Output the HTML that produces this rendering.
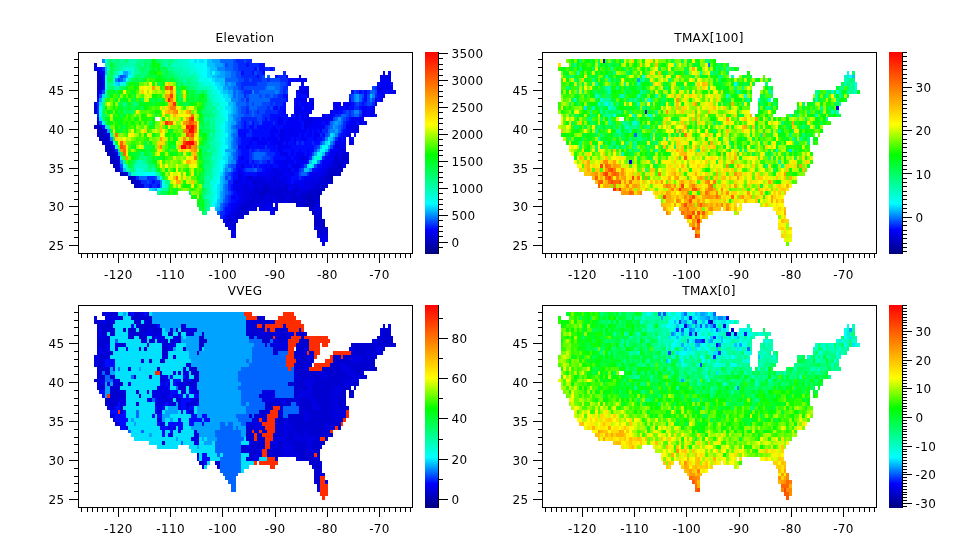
<!DOCTYPE html>
<html lang="en"><head><meta charset="utf-8"><title>Maps</title>
<style>html,body{margin:0;padding:0;background:#fff}svg{display:block}text{font-family:"DejaVu Sans","Liberation Sans",sans-serif;font-size:12px;fill:#000;letter-spacing:0.35px}</style></head><body>
<svg width="967" height="559" viewBox="0 0 967 559">
<defs><linearGradient id="cb" x1="0" y1="0" x2="0" y2="1"><stop offset="0" stop-color="#ff0000"/><stop offset="0.36" stop-color="#ffff00"/><stop offset="0.51" stop-color="#00ff00"/><stop offset="0.75" stop-color="#00ffff"/><stop offset="0.88" stop-color="#0000ff"/><stop offset="1" stop-color="#000080"/></linearGradient></defs>
<rect width="967" height="559" fill="#fff"/>
<g shape-rendering="crispEdges">
<path fill="#0000c2" d="M97 71h2v4h-2zM99 75h3v3h-3zM99 78h3v4h-3zM99 82h3v4h-3zM99 86h3v4h-3zM97 121h2v4h-2zM94 125h5v4h-5zM97 129h8v4h-8zM97 133h8v4h-8zM99 137h8v4h-8zM102 141h3v4h-3zM105 145h5v4h-5zM105 149h8v3h-8zM107 152h8v4h-8zM110 156h5v4h-5zM110 160h8v4h-8zM113 164h5v4h-5zM338 164h3v4h-3zM115 168h3v4h-3zM335 168h3v4h-3zM120 172h6v4h-6zM328 172h10v4h-10zM128 176h6v4h-6zM328 176h5v4h-5zM131 180h5v4h-5zM134 184h5v4h-5zM265 188h2v3h-2zM314 188h3v3h-3zM320 188h2v3h-2zM262 191h3v4h-3zM309 191h3v4h-3zM317 191h5v4h-5zM304 195h10v4h-10zM317 195h3v4h-3zM252 199h2v4h-2zM307 199h7v4h-7zM296 203h3v4h-3zM304 203h3v4h-3zM309 203h5v4h-5zM244 211h2v4h-2zM312 211h2v4h-2zM314 219h3v4h-3zM320 219h2v4h-2zM314 223h3v4h-3zM322 223h3v4h-3z"/>
<path fill="#0000d3" d="M94 63h3v4h-3zM97 75h2v3h-2zM97 78h2v4h-2zM97 82h2v4h-2zM102 82h3v4h-3zM97 86h2v4h-2zM94 106h3v4h-3zM94 110h3v4h-3zM99 125h3v4h-3zM105 133h2v4h-2zM107 137h3v4h-3zM105 141h5v4h-5zM110 145h3v4h-3zM113 149h2v3h-2zM343 152h3v4h-3zM115 156h3v4h-3zM335 156h3v4h-3zM341 156h8v4h-8zM333 160h10v4h-10zM346 160h3v4h-3zM333 164h5v4h-5zM341 164h2v4h-2zM118 168h2v4h-2zM328 168h7v4h-7zM338 168h5v4h-5zM126 172h2v4h-2zM338 172h3v4h-3zM134 176h2v4h-2zM249 176h3v4h-3zM273 176h2v4h-2zM322 176h6v4h-6zM136 180h3v4h-3zM252 180h5v4h-5zM259 180h3v4h-3zM273 180h2v4h-2zM278 180h2v4h-2zM320 180h13v4h-13zM139 184h2v4h-2zM257 184h2v4h-2zM262 184h8v4h-8zM278 184h2v4h-2zM286 184h2v4h-2zM317 184h11v4h-11zM254 188h11v3h-11zM267 188h6v3h-6zM275 188h13v3h-13zM294 188h5v3h-5zM312 188h2v3h-2zM317 188h3v3h-3zM322 188h3v3h-3zM249 191h3v4h-3zM254 191h8v4h-8zM265 191h18v4h-18zM286 191h10v4h-10zM301 191h8v4h-8zM312 191h5v4h-5zM252 195h5v4h-5zM259 195h6v4h-6zM270 195h3v4h-3zM275 195h11v4h-11zM291 195h13v4h-13zM314 195h3v4h-3zM246 199h6v4h-6zM257 199h5v4h-5zM265 199h2v4h-2zM270 199h3v4h-3zM278 199h2v4h-2zM283 199h3v4h-3zM288 199h19v4h-19zM314 199h6v4h-6zM241 203h13v4h-13zM301 203h3v4h-3zM307 203h2v4h-2zM314 203h3v4h-3zM241 207h8v4h-8zM254 207h3v4h-3zM275 207h3v4h-3zM309 207h5v4h-5zM236 211h8v4h-8zM246 211h3v4h-3zM314 211h3v4h-3zM320 211h2v4h-2zM236 215h8v4h-8zM314 215h8v4h-8zM228 219h5v4h-5zM236 219h2v4h-2zM317 219h3v4h-3zM322 219h3v4h-3zM233 223h3v4h-3zM317 223h5v4h-5zM231 227h2v3h-2zM317 227h11v3h-11zM317 230h5v4h-5zM325 230h3v4h-3z"/>
<path fill="#0000e3" d="M94 67h3v4h-3zM102 71h3v4h-3zM380 75h3v3h-3zM385 75h6v3h-6zM102 78h3v4h-3zM380 86h3v4h-3zM97 90h2v4h-2zM301 90h6v4h-6zM97 94h2v4h-2zM309 98h3v4h-3zM94 102h3v4h-3zM296 102h3v4h-3zM312 102h2v4h-2zM299 106h2v4h-2zM335 106h3v4h-3zM370 110h2v4h-2zM296 114h3v3h-3zM322 114h3v3h-3zM370 114h2v3h-2zM307 117h5v4h-5zM325 117h3v4h-3zM278 121h2v4h-2zM304 121h3v4h-3zM309 121h3v4h-3zM359 121h3v4h-3zM304 125h3v4h-3zM351 125h3v4h-3zM356 125h3v4h-3zM105 129h2v4h-2zM280 129h3v4h-3zM291 129h3v4h-3zM351 129h5v4h-5zM107 133h3v4h-3zM280 133h3v4h-3zM346 133h3v4h-3zM280 137h3v4h-3zM110 141h3v4h-3zM278 141h2v4h-2zM286 141h2v4h-2zM338 141h3v4h-3zM349 141h2v4h-2zM278 145h2v4h-2zM335 145h6v4h-6zM343 145h3v4h-3zM341 149h5v3h-5zM115 152h3v4h-3zM283 152h3v4h-3zM335 152h8v4h-8zM346 152h3v4h-3zM118 156h2v4h-2zM301 156h6v4h-6zM333 156h2v4h-2zM338 156h3v4h-3zM118 160h2v4h-2zM286 160h2v4h-2zM343 160h3v4h-3zM118 164h2v4h-2zM241 164h3v4h-3zM294 164h5v4h-5zM328 164h5v4h-5zM343 164h3v4h-3zM273 168h5v4h-5zM283 168h3v4h-3zM288 168h3v4h-3zM325 168h3v4h-3zM238 172h3v4h-3zM270 172h3v4h-3zM275 172h8v4h-8zM291 172h3v4h-3zM314 172h3v4h-3zM322 172h6v4h-6zM238 176h3v4h-3zM246 176h3v4h-3zM254 176h13v4h-13zM270 176h3v4h-3zM275 176h5v4h-5zM283 176h3v4h-3zM312 176h2v4h-2zM317 176h5v4h-5zM139 180h2v4h-2zM236 180h5v4h-5zM246 180h3v4h-3zM257 180h2v4h-2zM262 180h11v4h-11zM275 180h3v4h-3zM280 180h6v4h-6zM304 180h3v4h-3zM309 180h11v4h-11zM141 184h3v4h-3zM236 184h2v4h-2zM241 184h8v4h-8zM252 184h5v4h-5zM259 184h3v4h-3zM270 184h8v4h-8zM280 184h6v4h-6zM288 184h3v4h-3zM294 184h5v4h-5zM304 184h3v4h-3zM309 184h8v4h-8zM236 188h5v3h-5zM244 188h10v3h-10zM273 188h2v3h-2zM291 188h3v3h-3zM299 188h13v3h-13zM241 191h8v4h-8zM252 191h2v4h-2zM283 191h3v4h-3zM296 191h5v4h-5zM241 195h11v4h-11zM257 195h2v4h-2zM265 195h5v4h-5zM286 195h5v4h-5zM241 199h5v4h-5zM254 199h3v4h-3zM262 199h3v4h-3zM267 199h3v4h-3zM273 199h5v4h-5zM280 199h3v4h-3zM286 199h2v4h-2zM238 203h3v4h-3zM254 203h13v4h-13zM270 203h3v4h-3zM275 203h3v4h-3zM299 203h2v4h-2zM317 203h3v4h-3zM236 207h5v4h-5zM249 207h5v4h-5zM262 207h3v4h-3zM267 207h3v4h-3zM273 207h2v4h-2zM314 207h8v4h-8zM231 211h5v4h-5zM317 211h3v4h-3zM228 215h8v4h-8zM225 219h3v4h-3zM233 219h3v4h-3zM225 223h8v4h-8zM228 227h3v3h-3zM233 227h3v3h-3zM314 227h3v3h-3zM231 230h2v4h-2zM322 230h3v4h-3zM231 234h5v4h-5zM320 234h8v4h-8zM320 238h2v4h-2zM322 242h3v4h-3z"/>
<path fill="#0000f4" d="M97 67h5v4h-5zM99 71h3v4h-3zM383 71h2v4h-2zM388 71h3v4h-3zM102 75h3v3h-3zM286 75h2v3h-2zM299 75h2v3h-2zM383 75h2v3h-2zM291 78h3v4h-3zM296 78h11v4h-11zM380 78h11v4h-11zM301 82h3v4h-3zM380 82h11v4h-11zM102 86h3v4h-3zM299 86h10v4h-10zM377 86h3v4h-3zM383 86h10v4h-10zM99 90h3v4h-3zM296 90h5v4h-5zM307 90h2v4h-2zM377 90h8v4h-8zM388 90h8v4h-8zM299 94h2v4h-2zM307 94h2v4h-2zM380 94h5v4h-5zM296 98h11v4h-11zM312 98h2v4h-2zM375 98h2v4h-2zM380 98h3v4h-3zM301 102h11v4h-11zM333 102h8v4h-8zM343 102h8v4h-8zM375 102h2v4h-2zM294 106h5v4h-5zM304 106h10v4h-10zM338 106h5v4h-5zM346 106h3v4h-3zM362 106h5v4h-5zM372 106h3v4h-3zM283 110h3v4h-3zM294 110h18v4h-18zM330 110h3v4h-3zM335 110h3v4h-3zM362 110h5v4h-5zM372 110h3v4h-3zM286 114h2v3h-2zM301 114h8v3h-8zM328 114h5v3h-5zM362 114h5v3h-5zM372 114h3v3h-3zM97 117h2v4h-2zM278 117h5v4h-5zM288 117h11v4h-11zM301 117h6v4h-6zM312 117h13v4h-13zM328 117h5v4h-5zM351 117h13v4h-13zM280 121h3v4h-3zM286 121h15v4h-15zM307 121h2v4h-2zM312 121h10v4h-10zM325 121h3v4h-3zM349 121h7v4h-7zM362 121h5v4h-5zM273 125h2v4h-2zM283 125h18v4h-18zM307 125h18v4h-18zM346 125h5v4h-5zM354 125h2v4h-2zM270 129h8v4h-8zM283 129h8v4h-8zM294 129h13v4h-13zM309 129h3v4h-3zM314 129h3v4h-3zM320 129h2v4h-2zM346 129h5v4h-5zM356 129h3v4h-3zM244 133h2v4h-2zM270 133h5v4h-5zM278 133h2v4h-2zM283 133h16v4h-16zM301 133h3v4h-3zM307 133h5v4h-5zM314 133h6v4h-6zM349 133h2v4h-2zM252 137h7v4h-7zM262 137h3v4h-3zM267 137h11v4h-11zM283 137h8v4h-8zM294 137h2v4h-2zM301 137h6v4h-6zM314 137h3v4h-3zM338 137h3v4h-3zM343 137h3v4h-3zM349 137h5v4h-5zM249 141h3v4h-3zM257 141h10v4h-10zM270 141h8v4h-8zM280 141h3v4h-3zM294 141h2v4h-2zM335 141h3v4h-3zM341 141h5v4h-5zM351 141h3v4h-3zM113 145h2v4h-2zM246 145h3v4h-3zM273 145h2v4h-2zM280 145h11v4h-11zM341 145h2v4h-2zM278 149h5v3h-5zM291 149h3v3h-3zM299 149h2v3h-2zM307 149h2v3h-2zM330 149h11v3h-11zM280 152h3v4h-3zM286 152h2v4h-2zM291 152h3v4h-3zM296 152h8v4h-8zM307 152h2v4h-2zM330 152h5v4h-5zM241 156h3v4h-3zM286 156h5v4h-5zM294 156h7v4h-7zM307 156h2v4h-2zM325 156h8v4h-8zM246 160h3v4h-3zM275 160h11v4h-11zM288 160h6v4h-6zM296 160h11v4h-11zM322 160h11v4h-11zM265 164h2v4h-2zM270 164h3v4h-3zM278 164h10v4h-10zM291 164h3v4h-3zM299 164h2v4h-2zM322 164h6v4h-6zM238 168h3v4h-3zM265 168h8v4h-8zM278 168h5v4h-5zM286 168h2v4h-2zM294 168h5v4h-5zM317 168h8v4h-8zM241 172h3v4h-3zM257 172h13v4h-13zM273 172h2v4h-2zM283 172h8v4h-8zM309 172h5v4h-5zM317 172h5v4h-5zM241 176h5v4h-5zM252 176h2v4h-2zM267 176h3v4h-3zM280 176h3v4h-3zM286 176h5v4h-5zM304 176h8v4h-8zM314 176h3v4h-3zM233 180h3v4h-3zM241 180h5v4h-5zM249 180h3v4h-3zM286 180h5v4h-5zM294 180h10v4h-10zM307 180h2v4h-2zM233 184h3v4h-3zM238 184h3v4h-3zM249 184h3v4h-3zM291 184h3v4h-3zM299 184h5v4h-5zM307 184h2v4h-2zM233 188h3v3h-3zM241 188h3v3h-3zM288 188h3v3h-3zM236 191h5v4h-5zM231 195h5v4h-5zM238 195h3v4h-3zM273 195h2v4h-2zM236 199h5v4h-5zM231 203h7v4h-7zM267 203h3v4h-3zM231 207h5v4h-5zM259 207h3v4h-3zM265 207h2v4h-2zM270 207h3v4h-3zM228 211h3v4h-3zM270 211h5v4h-5zM225 215h3v4h-3zM223 219h2v4h-2zM233 230h3v4h-3zM317 234h3v4h-3zM322 238h6v4h-6z"/>
<path fill="#000aff" d="M246 63h3v4h-3zM259 63h6v4h-6zM254 67h3v4h-3zM259 67h6v4h-6zM270 67h3v4h-3zM241 71h3v4h-3zM252 71h2v4h-2zM262 71h3v4h-3zM257 75h2v3h-2zM275 75h3v3h-3zM288 78h3v4h-3zM294 78h2v4h-2zM288 82h3v4h-3zM377 82h3v4h-3zM391 82h2v4h-2zM351 90h3v4h-3zM359 90h3v4h-3zM364 90h3v4h-3zM385 90h3v4h-3zM283 94h5v4h-5zM296 94h3v4h-3zM301 94h6v4h-6zM364 94h3v4h-3zM377 94h3v4h-3zM97 98h2v4h-2zM286 98h2v4h-2zM294 98h2v4h-2zM349 98h2v4h-2zM364 98h3v4h-3zM377 98h3v4h-3zM283 102h3v4h-3zM294 102h2v4h-2zM299 102h2v4h-2zM351 102h3v4h-3zM362 102h2v4h-2zM273 106h5v4h-5zM280 106h6v4h-6zM301 106h3v4h-3zM333 106h2v4h-2zM343 106h3v4h-3zM349 106h5v4h-5zM359 106h3v4h-3zM367 106h5v4h-5zM278 110h5v4h-5zM333 110h2v4h-2zM338 110h5v4h-5zM367 110h3v4h-3zM270 114h16v3h-16zM291 114h5v3h-5zM299 114h2v3h-2zM325 114h3v3h-3zM333 114h2v3h-2zM367 114h3v3h-3zM375 114h2v3h-2zM265 117h2v4h-2zM270 117h8v4h-8zM283 117h5v4h-5zM299 117h2v4h-2zM349 117h2v4h-2zM244 121h2v4h-2zM252 121h2v4h-2zM262 121h11v4h-11zM275 121h3v4h-3zM283 121h3v4h-3zM301 121h3v4h-3zM322 121h3v4h-3zM328 121h2v4h-2zM346 121h3v4h-3zM356 121h3v4h-3zM102 125h3v4h-3zM244 125h2v4h-2zM249 125h5v4h-5zM257 125h16v4h-16zM275 125h8v4h-8zM301 125h3v4h-3zM238 129h11v4h-11zM252 129h18v4h-18zM278 129h2v4h-2zM307 129h2v4h-2zM312 129h2v4h-2zM317 129h3v4h-3zM343 129h3v4h-3zM238 133h6v4h-6zM252 133h18v4h-18zM275 133h3v4h-3zM299 133h2v4h-2zM304 133h3v4h-3zM312 133h2v4h-2zM322 133h3v4h-3zM341 133h5v4h-5zM354 133h2v4h-2zM241 137h11v4h-11zM259 137h3v4h-3zM265 137h2v4h-2zM278 137h2v4h-2zM291 137h3v4h-3zM296 137h5v4h-5zM307 137h7v4h-7zM317 137h5v4h-5zM341 137h2v4h-2zM241 141h8v4h-8zM252 141h5v4h-5zM267 141h3v4h-3zM283 141h3v4h-3zM288 141h6v4h-6zM299 141h2v4h-2zM304 141h8v4h-8zM314 141h6v4h-6zM238 145h8v4h-8zM249 145h16v4h-16zM267 145h6v4h-6zM275 145h3v4h-3zM291 145h23v4h-23zM333 145h2v4h-2zM241 149h8v3h-8zM252 149h2v3h-2zM270 149h8v3h-8zM283 149h8v3h-8zM294 149h5v3h-5zM301 149h6v3h-6zM309 149h5v3h-5zM241 152h8v4h-8zM275 152h5v4h-5zM288 152h3v4h-3zM294 152h2v4h-2zM304 152h3v4h-3zM309 152h3v4h-3zM328 152h2v4h-2zM238 156h3v4h-3zM244 156h5v4h-5zM273 156h13v4h-13zM291 156h3v4h-3zM238 160h8v4h-8zM252 160h2v4h-2zM267 160h3v4h-3zM273 160h2v4h-2zM294 160h2v4h-2zM307 160h2v4h-2zM236 164h5v4h-5zM244 164h8v4h-8zM254 164h3v4h-3zM259 164h6v4h-6zM267 164h3v4h-3zM273 164h5v4h-5zM288 164h3v4h-3zM301 164h3v4h-3zM317 164h5v4h-5zM236 168h2v4h-2zM241 168h3v4h-3zM262 168h3v4h-3zM291 168h3v4h-3zM312 168h5v4h-5zM233 172h5v4h-5zM244 172h13v4h-13zM294 172h5v4h-5zM233 176h5v4h-5zM291 176h8v4h-8zM301 176h3v4h-3zM152 180h3v4h-3zM291 180h3v4h-3zM149 184h3v4h-3zM157 184h3v4h-3zM231 184h2v4h-2zM231 188h2v3h-2zM233 191h3v4h-3zM236 195h2v4h-2zM231 199h5v4h-5zM228 203h3v4h-3zM225 207h6v4h-6zM225 211h3v4h-3zM223 215h2v4h-2z"/>
<path fill="#0028ff" d="M236 59h8v4h-8zM246 59h6v4h-6zM238 63h8v4h-8zM249 63h10v4h-10zM102 67h3v4h-3zM238 67h16v4h-16zM265 67h5v4h-5zM273 67h2v4h-2zM244 71h8v4h-8zM257 71h5v4h-5zM283 71h3v4h-3zM241 75h16v3h-16zM259 75h3v3h-3zM278 75h8v3h-8zM244 78h5v4h-5zM252 78h10v4h-10zM267 78h3v4h-3zM280 78h8v4h-8zM241 82h16v4h-16zM286 82h2v4h-2zM241 86h3v4h-3zM283 86h5v4h-5zM375 86h2v4h-2zM244 90h8v4h-8zM283 90h3v4h-3zM356 90h3v4h-3zM362 90h2v4h-2zM367 90h3v4h-3zM244 94h2v4h-2zM278 94h5v4h-5zM349 94h2v4h-2zM375 94h2v4h-2zM246 98h3v4h-3zM270 98h16v4h-16zM362 98h2v4h-2zM97 102h2v4h-2zM270 102h3v4h-3zM275 102h8v4h-8zM354 102h2v4h-2zM359 102h3v4h-3zM364 102h3v4h-3zM372 102h3v4h-3zM97 106h2v4h-2zM246 106h3v4h-3zM267 106h3v4h-3zM278 106h2v4h-2zM354 106h5v4h-5zM97 110h2v4h-2zM246 110h3v4h-3zM257 110h2v4h-2zM265 110h13v4h-13zM343 110h3v4h-3zM349 110h2v4h-2zM97 114h2v3h-2zM262 114h8v3h-8zM335 114h6v3h-6zM349 114h2v3h-2zM359 114h3v3h-3zM241 117h16v4h-16zM262 117h3v4h-3zM267 117h3v4h-3zM346 117h3v4h-3zM241 121h3v4h-3zM246 121h3v4h-3zM254 121h5v4h-5zM273 121h2v4h-2zM343 121h3v4h-3zM241 125h3v4h-3zM246 125h3v4h-3zM254 125h3v4h-3zM325 125h3v4h-3zM343 125h3v4h-3zM249 129h3v4h-3zM322 129h6v4h-6zM341 129h2v4h-2zM246 133h6v4h-6zM320 133h2v4h-2zM338 133h3v4h-3zM238 137h3v4h-3zM322 137h3v4h-3zM335 137h3v4h-3zM238 141h3v4h-3zM296 141h3v4h-3zM301 141h3v4h-3zM312 141h2v4h-2zM265 145h2v4h-2zM314 145h3v4h-3zM115 149h3v3h-3zM238 149h3v3h-3zM249 149h3v3h-3zM254 149h3v3h-3zM259 149h11v3h-11zM238 152h3v4h-3zM249 152h3v4h-3zM267 152h8v4h-8zM325 152h3v4h-3zM249 156h3v4h-3zM270 156h3v4h-3zM309 156h3v4h-3zM322 156h3v4h-3zM236 160h2v4h-2zM249 160h3v4h-3zM254 160h5v4h-5zM262 160h5v4h-5zM270 160h3v4h-3zM320 160h2v4h-2zM252 164h2v4h-2zM257 164h2v4h-2zM120 168h3v4h-3zM233 168h3v4h-3zM244 168h2v4h-2zM257 168h5v4h-5zM299 168h2v4h-2zM231 172h2v4h-2zM307 172h2v4h-2zM136 176h3v4h-3zM147 176h8v4h-8zM231 176h2v4h-2zM299 176h2v4h-2zM141 180h6v4h-6zM149 180h3v4h-3zM155 180h5v4h-5zM228 180h5v4h-5zM144 184h5v4h-5zM152 184h5v4h-5zM228 184h3v4h-3zM228 188h3v3h-3zM231 191h2v4h-2zM228 195h3v4h-3zM228 199h3v4h-3zM225 203h3v4h-3zM223 207h2v4h-2zM220 211h5v4h-5zM220 215h3v4h-3z"/>
<path fill="#0047ff" d="M233 59h3v4h-3zM244 59h2v4h-2zM225 63h3v4h-3zM233 63h5v4h-5zM233 67h5v4h-5zM257 67h2v4h-2zM236 71h5v4h-5zM254 71h3v4h-3zM120 75h3v3h-3zM236 75h5v3h-5zM262 75h3v3h-3zM118 78h2v4h-2zM238 78h6v4h-6zM249 78h3v4h-3zM262 78h5v4h-5zM270 78h10v4h-10zM236 82h5v4h-5zM257 82h10v4h-10zM280 82h6v4h-6zM238 86h3v4h-3zM244 86h21v4h-21zM280 86h3v4h-3zM372 86h3v4h-3zM102 90h3v4h-3zM241 90h3v4h-3zM254 90h5v4h-5zM280 90h3v4h-3zM286 90h2v4h-2zM354 90h2v4h-2zM375 90h2v4h-2zM99 94h3v4h-3zM246 94h3v4h-3zM259 94h3v4h-3zM265 94h5v4h-5zM273 94h5v4h-5zM351 94h3v4h-3zM362 94h2v4h-2zM367 94h3v4h-3zM241 98h3v4h-3zM351 98h3v4h-3zM367 98h3v4h-3zM372 98h3v4h-3zM246 102h3v4h-3zM252 102h2v4h-2zM262 102h8v4h-8zM273 102h2v4h-2zM356 102h3v4h-3zM367 102h5v4h-5zM241 106h5v4h-5zM257 106h10v4h-10zM270 106h3v4h-3zM241 110h5v4h-5zM249 110h3v4h-3zM254 110h3v4h-3zM259 110h6v4h-6zM346 110h3v4h-3zM351 110h3v4h-3zM359 110h3v4h-3zM244 114h8v3h-8zM254 114h8v3h-8zM346 114h3v3h-3zM351 114h3v3h-3zM257 117h5v4h-5zM333 117h2v4h-2zM343 117h3v4h-3zM99 121h3v4h-3zM238 121h3v4h-3zM249 121h3v4h-3zM259 121h3v4h-3zM236 125h5v4h-5zM328 125h2v4h-2zM341 125h2v4h-2zM325 133h3v4h-3zM236 137h2v4h-2zM236 141h2v4h-2zM320 141h2v4h-2zM333 141h2v4h-2zM317 145h3v4h-3zM330 145h3v4h-3zM236 149h2v3h-2zM257 149h2v3h-2zM314 149h3v3h-3zM328 149h2v3h-2zM236 152h2v4h-2zM252 152h2v4h-2zM265 152h2v4h-2zM312 152h2v4h-2zM236 156h2v4h-2zM252 156h2v4h-2zM262 156h8v4h-8zM259 160h3v4h-3zM120 164h3v4h-3zM231 164h5v4h-5zM304 164h3v4h-3zM314 164h3v4h-3zM246 168h8v4h-8zM301 168h3v4h-3zM228 172h3v4h-3zM299 172h2v4h-2zM155 176h2v4h-2zM225 176h3v4h-3zM147 180h2v4h-2zM228 191h3v4h-3zM225 195h3v4h-3zM225 199h3v4h-3zM223 203h2v4h-2z"/>
<path fill="#0066ff" d="M220 59h13v4h-13zM228 63h5v4h-5zM225 67h8v4h-8zM231 71h5v4h-5zM123 75h3v3h-3zM231 75h5v3h-5zM267 75h3v3h-3zM120 78h3v4h-3zM225 78h13v4h-13zM267 82h13v4h-13zM233 86h5v4h-5zM265 86h2v4h-2zM275 86h5v4h-5zM233 90h3v4h-3zM238 90h3v4h-3zM259 90h16v4h-16zM278 90h2v4h-2zM370 90h5v4h-5zM233 94h3v4h-3zM238 94h6v4h-6zM249 94h10v4h-10zM262 94h3v4h-3zM270 94h3v4h-3zM359 94h3v4h-3zM238 98h3v4h-3zM244 98h2v4h-2zM249 98h21v4h-21zM359 98h3v4h-3zM236 102h10v4h-10zM249 102h3v4h-3zM254 102h8v4h-8zM238 106h3v4h-3zM249 106h8v4h-8zM238 110h3v4h-3zM252 110h2v4h-2zM238 114h6v3h-6zM252 114h2v3h-2zM341 114h5v3h-5zM354 114h5v3h-5zM236 117h5v4h-5zM335 117h3v4h-3zM341 117h2v4h-2zM236 121h2v4h-2zM330 121h3v4h-3zM341 121h2v4h-2zM233 125h3v4h-3zM330 125h3v4h-3zM338 125h3v4h-3zM236 129h2v4h-2zM328 129h2v4h-2zM338 129h3v4h-3zM233 133h5v4h-5zM328 133h2v4h-2zM233 137h3v4h-3zM233 141h3v4h-3zM233 145h5v4h-5zM233 152h3v4h-3zM254 152h11v4h-11zM233 156h3v4h-3zM254 156h8v4h-8zM228 164h3v4h-3zM231 168h2v4h-2zM254 168h3v4h-3zM225 172h3v4h-3zM301 172h6v4h-6zM139 176h8v4h-8zM228 176h3v4h-3zM225 184h3v4h-3zM225 188h3v3h-3zM225 191h3v4h-3zM223 199h2v4h-2zM220 203h3v4h-3zM220 207h3v4h-3zM217 211h3v4h-3z"/>
<path fill="#0084ff" d="M102 59h3v4h-3zM223 63h2v4h-2zM217 67h8v4h-8zM225 71h6v4h-6zM225 75h6v3h-6zM115 78h3v4h-3zM225 82h3v4h-3zM231 82h5v4h-5zM228 86h5v4h-5zM267 86h8v4h-8zM236 90h2v4h-2zM252 90h2v4h-2zM275 90h3v4h-3zM236 94h2v4h-2zM354 94h2v4h-2zM372 94h3v4h-3zM231 98h7v4h-7zM354 98h2v4h-2zM370 98h2v4h-2zM236 106h2v4h-2zM236 110h2v4h-2zM354 110h5v4h-5zM233 114h5v3h-5zM233 117h3v4h-3zM333 121h2v4h-2zM338 121h3v4h-3zM231 125h2v4h-2zM335 125h3v4h-3zM233 129h3v4h-3zM330 129h5v4h-5zM231 133h2v4h-2zM335 133h3v4h-3zM110 137h3v4h-3zM325 137h3v4h-3zM333 137h2v4h-2zM231 141h2v4h-2zM322 141h3v4h-3zM330 141h3v4h-3zM231 145h2v4h-2zM233 149h3v3h-3zM231 152h2v4h-2zM231 160h5v4h-5zM317 160h3v4h-3zM225 168h3v4h-3zM309 168h3v4h-3zM160 180h2v4h-2zM225 180h3v4h-3zM160 184h2v4h-2zM223 184h2v4h-2zM223 188h2v3h-2zM223 191h2v4h-2zM223 195h2v4h-2z"/>
<path fill="#00a3ff" d="M212 59h8v4h-8zM215 63h8v4h-8zM123 71h5v4h-5zM220 71h5v4h-5zM118 75h2v3h-2zM126 75h2v3h-2zM217 75h8v3h-8zM123 78h3v4h-3zM228 82h3v4h-3zM223 86h5v4h-5zM228 90h5v4h-5zM231 94h2v4h-2zM356 94h3v4h-3zM99 98h3v4h-3zM356 98h3v4h-3zM233 102h3v4h-3zM233 106h3v4h-3zM233 110h3v4h-3zM231 114h2v3h-2zM338 117h3v4h-3zM231 121h5v4h-5zM335 121h3v4h-3zM333 125h2v4h-2zM107 129h3v4h-3zM231 129h2v4h-2zM335 129h3v4h-3zM231 137h2v4h-2zM328 145h2v4h-2zM225 149h8v3h-8zM317 149h3v3h-3zM118 152h2v4h-2zM314 152h3v4h-3zM228 156h5v4h-5zM120 160h3v4h-3zM228 160h3v4h-3zM225 164h3v4h-3zM228 168h3v4h-3zM128 172h3v4h-3zM223 172h2v4h-2zM223 176h2v4h-2zM223 180h2v4h-2zM155 188h2v3h-2zM220 191h3v4h-3zM220 195h3v4h-3zM220 199h3v4h-3zM217 207h3v4h-3z"/>
<path fill="#00c2ff" d="M207 59h5v4h-5zM207 63h8v4h-8zM105 67h2v4h-2zM210 67h7v4h-7zM105 71h2v4h-2zM210 71h2v4h-2zM215 71h5v4h-5zM212 75h5v3h-5zM215 78h10v4h-10zM118 82h2v4h-2zM220 82h5v4h-5zM223 90h5v4h-5zM228 94h3v4h-3zM370 94h2v4h-2zM228 102h5v4h-5zM231 106h2v4h-2zM231 110h2v4h-2zM228 114h3v3h-3zM228 117h5v4h-5zM228 121h3v4h-3zM228 125h3v4h-3zM228 129h3v4h-3zM228 133h3v4h-3zM333 133h2v4h-2zM228 137h3v4h-3zM330 137h3v4h-3zM228 141h3v4h-3zM228 145h3v4h-3zM320 145h2v4h-2zM325 149h3v3h-3zM228 152h3v4h-3zM322 152h3v4h-3zM312 156h2v4h-2zM309 160h3v4h-3zM123 168h3v4h-3zM223 168h2v4h-2zM304 168h5v4h-5zM157 176h3v4h-3zM220 176h3v4h-3zM220 180h3v4h-3zM220 184h3v4h-3zM152 188h3v3h-3zM220 188h3v3h-3zM217 199h3v4h-3zM217 203h3v4h-3zM215 207h2v4h-2z"/>
<path fill="#00e0ff" d="M194 59h3v4h-3zM199 59h5v4h-5zM207 67h3v4h-3zM128 71h3v4h-3zM207 71h3v4h-3zM207 75h5v3h-5zM212 78h3v4h-3zM115 82h3v4h-3zM215 82h5v4h-5zM217 86h6v4h-6zM220 90h3v4h-3zM102 94h3v4h-3zM223 94h5v4h-5zM225 98h6v4h-6zM99 102h3v4h-3zM225 106h6v4h-6zM228 110h3v4h-3zM99 117h3v4h-3zM225 121h3v4h-3zM105 125h2v4h-2zM225 125h3v4h-3zM225 129h3v4h-3zM330 133h3v4h-3zM225 137h3v4h-3zM328 137h2v4h-2zM225 141h3v4h-3zM325 141h3v4h-3zM225 152h3v4h-3zM223 156h5v4h-5zM320 156h2v4h-2zM225 160h3v4h-3zM223 164h2v4h-2zM307 164h2v4h-2zM312 164h2v4h-2zM220 172h3v4h-3zM217 184h3v4h-3zM149 188h3v3h-3zM217 188h3v3h-3zM217 191h3v4h-3zM217 195h3v4h-3zM215 203h2v4h-2z"/>
<path fill="#00ffff" d="M197 59h2v4h-2zM204 59h3v4h-3zM197 63h2v4h-2zM202 63h5v4h-5zM202 67h5v4h-5zM120 71h3v4h-3zM202 71h5v4h-5zM212 71h3v4h-3zM105 75h2v3h-2zM128 75h3v3h-3zM204 75h3v3h-3zM105 78h2v4h-2zM126 78h2v4h-2zM207 78h5v4h-5zM105 82h2v4h-2zM212 82h3v4h-3zM215 86h2v4h-2zM217 90h3v4h-3zM223 98h2v4h-2zM99 106h3v4h-3zM223 106h2v4h-2zM99 110h3v4h-3zM225 110h3v4h-3zM225 114h3v3h-3zM225 117h3v4h-3zM223 125h2v4h-2zM225 133h3v4h-3zM223 137h2v4h-2zM113 141h2v4h-2zM223 141h2v4h-2zM328 141h2v4h-2zM223 145h5v4h-5zM322 145h3v4h-3zM223 149h2v3h-2zM320 149h5v3h-5zM223 152h2v4h-2zM317 152h3v4h-3zM220 160h5v4h-5zM123 164h3v4h-3zM220 164h3v4h-3zM220 168h3v4h-3zM144 172h11v4h-11zM217 180h3v4h-3zM162 184h3v4h-3zM215 184h2v4h-2zM157 188h3v3h-3zM215 195h2v4h-2zM215 199h2v4h-2zM212 203h3v4h-3z"/>
<path fill="#00ffee" d="M105 59h2v4h-2zM189 59h5v4h-5zM194 63h3v4h-3zM199 63h3v4h-3zM197 67h5v4h-5zM197 71h5v4h-5zM115 75h3v3h-3zM202 75h2v3h-2zM199 78h5v4h-5zM120 82h3v4h-3zM105 86h2v4h-2zM217 94h6v4h-6zM220 98h3v4h-3zM220 102h8v4h-8zM223 110h2v4h-2zM99 114h3v3h-3zM223 114h2v3h-2zM102 121h3v4h-3zM223 121h2v4h-2zM220 125h3v4h-3zM223 129h2v4h-2zM223 133h2v4h-2zM220 137h3v4h-3zM220 145h3v4h-3zM325 145h3v4h-3zM220 149h3v3h-3zM220 152h3v4h-3zM314 160h3v4h-3zM139 172h5v4h-5zM217 172h3v4h-3zM215 176h5v4h-5zM162 180h3v4h-3zM215 180h2v4h-2zM212 188h5v3h-5zM215 191h2v4h-2zM212 199h3v4h-3z"/>
<path fill="#00ffde" d="M189 63h5v4h-5zM126 67h2v4h-2zM131 67h3v4h-3zM191 67h6v4h-6zM118 71h2v4h-2zM199 75h3v3h-3zM204 78h3v4h-3zM123 82h3v4h-3zM204 82h8v4h-8zM212 86h3v4h-3zM212 90h3v4h-3zM215 94h2v4h-2zM215 98h5v4h-5zM217 106h3v4h-3zM220 110h3v4h-3zM220 114h3v3h-3zM223 117h2v4h-2zM220 121h3v4h-3zM220 129h3v4h-3zM220 133h3v4h-3zM215 137h2v4h-2zM220 141h3v4h-3zM320 152h2v4h-2zM217 156h6v4h-6zM314 156h3v4h-3zM217 160h3v4h-3zM312 160h2v4h-2zM217 164h3v4h-3zM309 164h3v4h-3zM136 168h5v4h-5zM215 168h5v4h-5zM136 172h3v4h-3zM215 172h2v4h-2zM160 176h2v4h-2zM210 180h5v4h-5zM212 184h3v4h-3zM160 188h2v3h-2zM212 191h3v4h-3zM212 195h3v4h-3z"/>
<path fill="#00ffcd" d="M178 59h3v4h-3zM183 59h6v4h-6zM183 63h6v4h-6zM123 67h3v4h-3zM128 67h3v4h-3zM183 67h3v4h-3zM189 67h2v4h-2zM131 71h3v4h-3zM181 71h2v4h-2zM189 71h5v4h-5zM131 75h3v3h-3zM113 78h2v4h-2zM113 82h2v4h-2zM199 82h5v4h-5zM207 86h5v4h-5zM215 90h2v4h-2zM210 94h2v4h-2zM102 98h3v4h-3zM212 98h3v4h-3zM215 102h2v4h-2zM220 106h3v4h-3zM217 110h3v4h-3zM217 117h6v4h-6zM215 121h5v4h-5zM217 125h3v4h-3zM217 129h3v4h-3zM217 133h3v4h-3zM217 137h3v4h-3zM217 141h3v4h-3zM115 145h3v4h-3zM217 145h3v4h-3zM217 149h3v3h-3zM217 152h3v4h-3zM212 156h3v4h-3zM317 156h3v4h-3zM215 164h2v4h-2zM141 168h3v4h-3zM212 168h3v4h-3zM134 172h2v4h-2zM155 172h2v4h-2zM212 176h3v4h-3zM210 184h2v4h-2zM210 191h2v4h-2zM207 195h3v4h-3zM210 199h2v4h-2zM210 203h2v4h-2z"/>
<path fill="#00ffbd" d="M134 59h2v4h-2zM181 59h2v4h-2zM105 63h2v4h-2zM173 63h10v4h-10zM186 67h3v4h-3zM194 71h3v4h-3zM194 75h5v3h-5zM197 78h2v4h-2zM202 86h2v4h-2zM105 90h2v4h-2zM207 90h5v4h-5zM212 94h3v4h-3zM212 102h3v4h-3zM217 102h3v4h-3zM215 106h2v4h-2zM217 114h3v3h-3zM215 117h2v4h-2zM215 125h2v4h-2zM215 129h2v4h-2zM210 133h2v4h-2zM215 133h2v4h-2zM215 145h2v4h-2zM215 152h2v4h-2zM120 156h3v4h-3zM139 160h2v4h-2zM215 160h2v4h-2zM134 164h13v4h-13zM212 164h3v4h-3zM126 168h2v4h-2zM131 172h3v4h-3zM212 172h3v4h-3zM165 184h3v4h-3zM210 188h2v3h-2zM210 195h2v4h-2z"/>
<path fill="#00ffac" d="M120 59h3v4h-3zM128 59h6v4h-6zM173 59h5v4h-5zM126 63h10v4h-10zM165 63h3v4h-3zM170 63h3v4h-3zM107 67h3v4h-3zM120 67h3v4h-3zM173 67h8v4h-8zM115 71h3v4h-3zM183 71h6v4h-6zM113 75h2v3h-2zM186 75h5v3h-5zM183 78h3v4h-3zM194 78h3v4h-3zM197 82h2v4h-2zM115 86h3v4h-3zM197 86h5v4h-5zM204 86h3v4h-3zM212 110h3v4h-3zM215 114h2v3h-2zM210 121h2v4h-2zM110 133h3v4h-3zM210 141h7v4h-7zM210 145h2v4h-2zM207 149h3v3h-3zM215 149h2v3h-2zM212 152h3v4h-3zM215 156h2v4h-2zM136 160h3v4h-3zM141 160h3v4h-3zM212 160h3v4h-3zM126 164h2v4h-2zM144 168h3v4h-3zM152 168h3v4h-3zM207 176h3v4h-3zM204 184h3v4h-3zM162 188h3v3h-3zM207 188h3v3h-3zM207 207h3v4h-3z"/>
<path fill="#00ff9b" d="M113 59h2v4h-2zM139 59h2v4h-2zM165 59h3v4h-3zM118 63h8v4h-8zM141 63h3v4h-3zM134 67h5v4h-5zM181 67h2v4h-2zM134 71h5v4h-5zM176 71h5v4h-5zM178 75h8v3h-8zM191 75h3v3h-3zM128 78h3v4h-3zM191 78h3v4h-3zM191 82h3v4h-3zM207 94h3v4h-3zM207 98h5v4h-5zM215 110h2v4h-2zM204 117h3v4h-3zM210 117h5v4h-5zM107 125h3v4h-3zM212 137h3v4h-3zM212 145h3v4h-3zM212 149h3v3h-3zM139 156h2v4h-2zM210 156h2v4h-2zM128 168h3v4h-3zM134 168h2v4h-2zM147 168h2v4h-2zM157 172h3v4h-3zM207 172h3v4h-3zM210 176h2v4h-2zM168 180h2v4h-2zM204 180h6v4h-6zM207 184h3v4h-3zM165 188h3v3h-3zM207 191h3v4h-3zM204 195h3v4h-3zM207 199h3v4h-3z"/>
<path fill="#00ff8b" d="M107 59h3v4h-3zM123 59h3v4h-3zM136 59h3v4h-3zM162 59h3v4h-3zM168 59h2v4h-2zM107 63h3v4h-3zM162 63h3v4h-3zM115 67h5v4h-5zM147 67h2v4h-2zM168 67h5v4h-5zM113 71h2v4h-2zM139 71h2v4h-2zM173 71h3v4h-3zM141 75h3v3h-3zM178 78h3v4h-3zM189 78h2v4h-2zM110 82h3v4h-3zM183 82h3v4h-3zM194 82h3v4h-3zM118 86h2v4h-2zM189 86h2v4h-2zM194 86h3v4h-3zM105 94h2v4h-2zM102 102h3v4h-3zM123 102h3v4h-3zM207 102h5v4h-5zM207 106h8v4h-8zM207 110h3v4h-3zM210 114h2v3h-2zM212 121h3v4h-3zM210 125h5v4h-5zM212 133h3v4h-3zM118 149h2v3h-2zM210 149h2v3h-2zM141 152h3v4h-3zM144 156h3v4h-3zM144 160h3v4h-3zM210 160h2v4h-2zM147 164h2v4h-2zM152 164h3v4h-3zM149 168h3v4h-3zM207 168h5v4h-5zM210 172h2v4h-2zM204 176h3v4h-3zM157 191h3v4h-3zM207 203h3v4h-3zM204 211h3v4h-3z"/>
<path fill="#00ff7a" d="M115 59h3v4h-3zM141 59h3v4h-3zM147 59h2v4h-2zM160 59h2v4h-2zM170 59h3v4h-3zM136 63h3v4h-3zM147 63h2v4h-2zM107 71h3v4h-3zM144 71h3v4h-3zM173 75h5v3h-5zM139 78h2v4h-2zM181 78h2v4h-2zM186 78h3v4h-3zM107 82h3v4h-3zM178 82h3v4h-3zM186 82h5v4h-5zM107 86h3v4h-3zM113 86h2v4h-2zM197 90h5v4h-5zM134 102h2v4h-2zM102 106h3v4h-3zM202 110h2v4h-2zM212 114h3v3h-3zM102 117h3v4h-3zM207 117h3v4h-3zM207 125h3v4h-3zM210 129h5v4h-5zM207 137h5v4h-5zM207 141h3v4h-3zM202 149h2v3h-2zM207 152h3v4h-3zM207 156h3v4h-3zM123 160h3v4h-3zM204 164h8v4h-8zM165 180h3v4h-3zM204 191h3v4h-3z"/>
<path fill="#00ff6a" d="M110 59h3v4h-3zM118 59h2v4h-2zM126 59h2v4h-2zM144 59h3v4h-3zM149 59h3v4h-3zM157 59h3v4h-3zM113 63h5v4h-5zM139 63h2v4h-2zM160 63h2v4h-2zM168 63h2v4h-2zM113 67h2v4h-2zM139 67h2v4h-2zM144 67h3v4h-3zM141 71h3v4h-3zM147 71h2v4h-2zM162 71h3v4h-3zM168 71h5v4h-5zM110 75h3v3h-3zM134 75h5v3h-5zM126 82h2v4h-2zM110 86h3v4h-3zM120 86h3v4h-3zM191 86h3v4h-3zM204 90h3v4h-3zM178 94h3v4h-3zM136 102h3v4h-3zM204 106h3v4h-3zM123 110h3v4h-3zM131 110h3v4h-3zM204 110h3v4h-3zM210 110h2v4h-2zM102 114h5v3h-5zM204 114h3v3h-3zM105 121h2v4h-2zM149 121h3v4h-3zM204 121h3v4h-3zM199 125h3v4h-3zM204 125h3v4h-3zM207 133h3v4h-3zM204 145h3v4h-3zM210 152h2v4h-2zM141 156h3v4h-3zM204 156h3v4h-3zM134 160h2v4h-2zM207 160h3v4h-3zM149 164h3v4h-3zM131 168h3v4h-3zM204 168h3v4h-3zM204 172h3v4h-3zM160 191h2v4h-2zM189 191h2v4h-2zM202 191h2v4h-2zM202 195h2v4h-2zM204 199h3v4h-3zM204 203h3v4h-3zM204 207h3v4h-3z"/>
<path fill="#00ff59" d="M144 63h3v4h-3zM141 67h3v4h-3zM160 67h2v4h-2zM165 67h3v4h-3zM107 75h3v3h-3zM139 75h2v3h-2zM144 75h3v3h-3zM168 75h5v3h-5zM131 78h3v4h-3zM176 78h2v4h-2zM186 86h3v4h-3zM176 90h5v4h-5zM189 90h2v4h-2zM194 90h3v4h-3zM189 94h2v4h-2zM141 98h3v4h-3zM178 98h3v4h-3zM118 102h2v4h-2zM131 102h3v4h-3zM204 102h3v4h-3zM102 110h3v4h-3zM207 114h3v3h-3zM207 121h3v4h-3zM202 129h8v4h-8zM144 145h3v4h-3zM202 145h2v4h-2zM207 145h3v4h-3zM204 149h3v3h-3zM149 152h3v4h-3zM202 152h2v4h-2zM147 156h2v4h-2zM155 156h2v4h-2zM147 160h2v4h-2zM204 160h3v4h-3zM131 164h3v4h-3zM155 168h2v4h-2zM168 184h2v4h-2zM202 184h2v4h-2zM204 188h3v3h-3zM202 211h2v4h-2z"/>
<path fill="#00ff48" d="M155 59h2v4h-2zM149 63h3v4h-3zM110 67h3v4h-3zM149 67h3v4h-3zM155 67h2v4h-2zM162 67h3v4h-3zM110 71h3v4h-3zM165 71h3v4h-3zM152 75h5v3h-5zM165 75h3v3h-3zM107 78h6v4h-6zM134 78h2v4h-2zM168 78h2v4h-2zM173 78h3v4h-3zM157 82h3v4h-3zM123 86h3v4h-3zM115 90h3v4h-3zM202 90h2v4h-2zM107 94h3v4h-3zM194 94h5v4h-5zM134 98h2v4h-2zM152 98h3v4h-3zM157 98h5v4h-5zM181 98h2v4h-2zM189 98h2v4h-2zM194 98h3v4h-3zM126 102h2v4h-2zM183 102h6v4h-6zM123 106h5v4h-5zM131 106h5v4h-5zM141 106h3v4h-3zM118 110h2v4h-2zM126 110h5v4h-5zM120 114h3v3h-3zM123 125h3v4h-3zM120 129h3v4h-3zM144 141h3v4h-3zM204 141h3v4h-3zM149 145h3v4h-3zM199 145h3v4h-3zM139 149h2v3h-2zM168 149h2v3h-2zM139 152h2v4h-2zM204 152h3v4h-3zM149 156h3v4h-3zM202 156h2v4h-2zM131 160h3v4h-3zM149 160h3v4h-3zM160 172h2v4h-2zM202 172h2v4h-2zM162 176h3v4h-3zM202 176h2v4h-2zM168 188h2v3h-2zM162 191h6v4h-6z"/>
<path fill="#00ff38" d="M147 75h5v3h-5zM162 75h3v3h-3zM136 78h3v4h-3zM141 78h3v4h-3zM165 78h3v4h-3zM176 82h2v4h-2zM181 82h2v4h-2zM176 86h5v4h-5zM191 90h3v4h-3zM118 94h2v4h-2zM134 94h2v4h-2zM204 94h3v4h-3zM131 98h3v4h-3zM197 98h2v4h-2zM202 98h2v4h-2zM120 102h3v4h-3zM139 106h2v4h-2zM202 106h2v4h-2zM113 114h2v3h-2zM155 114h2v3h-2zM202 114h2v3h-2zM202 117h2v4h-2zM199 121h5v4h-5zM202 125h2v4h-2zM110 129h3v4h-3zM199 133h3v4h-3zM113 137h2v4h-2zM170 145h6v4h-6zM147 149h5v3h-5zM120 152h3v4h-3zM136 152h3v4h-3zM147 152h2v4h-2zM181 152h2v4h-2zM136 156h3v4h-3zM160 156h2v4h-2zM202 160h2v4h-2zM128 164h3v4h-3zM202 164h2v4h-2zM199 176h3v4h-3zM199 180h3v4h-3zM202 188h2v3h-2zM199 207h3v4h-3z"/>
<path fill="#00ff27" d="M110 63h3v4h-3zM160 75h2v3h-2zM144 78h3v4h-3zM162 78h3v4h-3zM170 78h3v4h-3zM128 82h3v4h-3zM136 82h3v4h-3zM160 82h2v4h-2zM107 90h6v4h-6zM131 90h3v4h-3zM191 94h3v4h-3zM115 98h3v4h-3zM120 98h3v4h-3zM139 98h2v4h-2zM149 98h3v4h-3zM191 98h3v4h-3zM204 98h3v4h-3zM149 102h8v4h-8zM178 102h3v4h-3zM189 102h2v4h-2zM202 102h2v4h-2zM120 106h3v4h-3zM128 106h3v4h-3zM136 106h3v4h-3zM197 110h5v4h-5zM113 117h2v4h-2zM118 117h2v4h-2zM134 117h2v4h-2zM162 117h3v4h-3zM120 125h3v4h-3zM152 125h3v4h-3zM126 129h2v4h-2zM168 129h5v4h-5zM199 129h3v4h-3zM176 137h2v4h-2zM204 137h3v4h-3zM149 141h3v4h-3zM202 141h2v4h-2zM131 145h3v4h-3zM147 145h2v4h-2zM152 145h3v4h-3zM144 149h3v3h-3zM131 152h5v4h-5zM144 152h3v4h-3zM173 152h3v4h-3zM134 156h2v4h-2zM199 156h3v4h-3zM194 172h3v4h-3zM199 172h3v4h-3zM202 180h2v4h-2zM189 184h2v4h-2zM173 188h5v3h-5zM173 191h3v4h-3zM194 195h3v4h-3zM199 199h3v4h-3zM199 203h3v4h-3zM202 207h2v4h-2z"/>
<path fill="#00ff17" d="M152 63h3v4h-3zM157 63h3v4h-3zM152 67h3v4h-3zM157 67h3v4h-3zM149 71h6v4h-6zM134 82h2v4h-2zM162 82h3v4h-3zM126 86h2v4h-2zM113 90h2v4h-2zM110 94h3v4h-3zM199 94h3v4h-3zM123 98h5v4h-5zM155 98h2v4h-2zM162 98h3v4h-3zM186 98h3v4h-3zM199 98h3v4h-3zM128 102h3v4h-3zM139 102h10v4h-10zM181 102h2v4h-2zM118 106h2v4h-2zM110 110h3v4h-3zM155 110h2v4h-2zM123 114h3v3h-3zM105 117h5v4h-5zM120 117h3v4h-3zM199 117h3v4h-3zM110 121h3v4h-3zM118 121h5v4h-5zM126 121h2v4h-2zM152 121h3v4h-3zM149 125h3v4h-3zM115 129h5v4h-5zM152 133h3v4h-3zM173 133h3v4h-3zM202 133h2v4h-2zM173 137h3v4h-3zM168 141h5v4h-5zM141 149h3v3h-3zM128 152h3v4h-3zM152 156h3v4h-3zM157 156h3v4h-3zM152 160h5v4h-5zM157 168h3v4h-3zM165 168h3v4h-3zM202 168h2v4h-2zM168 191h2v4h-2zM199 195h3v4h-3zM202 199h2v4h-2zM197 203h2v4h-2zM202 203h2v4h-2z"/>
<path fill="#00ff06" d="M152 59h3v4h-3zM155 71h2v4h-2zM157 75h3v3h-3zM155 78h7v4h-7zM134 86h2v4h-2zM120 90h3v4h-3zM186 90h3v4h-3zM128 94h3v4h-3zM152 94h5v4h-5zM202 94h2v4h-2zM176 98h2v4h-2zM113 102h2v4h-2zM162 102h3v4h-3zM191 102h3v4h-3zM105 106h2v4h-2zM113 106h2v4h-2zM144 106h3v4h-3zM107 110h3v4h-3zM115 110h3v4h-3zM118 114h2v3h-2zM141 114h3v3h-3zM199 114h3v3h-3zM115 117h3v4h-3zM152 117h3v4h-3zM107 121h3v4h-3zM131 121h3v4h-3zM139 121h2v4h-2zM115 125h3v4h-3zM144 133h3v4h-3zM165 133h5v4h-5zM204 133h3v4h-3zM147 137h2v4h-2zM115 141h3v4h-3zM173 141h3v4h-3zM134 145h2v4h-2zM199 149h3v3h-3zM170 152h3v4h-3zM189 152h2v4h-2zM199 152h3v4h-3zM131 156h3v4h-3zM162 156h3v4h-3zM199 164h3v4h-3zM173 168h3v4h-3zM186 168h3v4h-3zM162 172h3v4h-3zM197 176h2v4h-2zM183 184h3v4h-3z"/>
<path fill="#11ff00" d="M155 63h2v4h-2zM131 82h3v4h-3zM152 82h3v4h-3zM136 86h3v4h-3zM160 86h2v4h-2zM181 86h5v4h-5zM118 90h2v4h-2zM134 90h2v4h-2zM123 94h3v4h-3zM160 94h2v4h-2zM176 94h2v4h-2zM186 94h3v4h-3zM157 102h5v4h-5zM194 102h3v4h-3zM147 106h2v4h-2zM197 106h5v4h-5zM120 110h3v4h-3zM157 110h3v4h-3zM128 114h3v3h-3zM144 114h3v3h-3zM128 117h3v4h-3zM136 117h3v4h-3zM141 117h8v4h-8zM115 121h3v4h-3zM144 121h3v4h-3zM126 125h2v4h-2zM134 125h2v4h-2zM165 125h3v4h-3zM134 129h2v4h-2zM147 129h2v4h-2zM139 133h2v4h-2zM168 137h2v4h-2zM202 137h2v4h-2zM199 141h3v4h-3zM168 145h2v4h-2zM136 149h3v3h-3zM152 149h3v3h-3zM160 152h5v4h-5zM176 152h2v4h-2zM128 160h3v4h-3zM155 164h2v4h-2zM194 168h3v4h-3zM186 172h3v4h-3zM183 180h3v4h-3zM186 184h3v4h-3zM194 184h3v4h-3zM191 188h3v3h-3zM191 195h3v4h-3zM197 199h2v4h-2z"/>
<path fill="#2cff00" d="M157 71h5v4h-5zM149 78h6v4h-6zM128 86h6v4h-6zM162 86h3v4h-3zM126 90h5v4h-5zM115 94h3v4h-3zM131 94h3v4h-3zM157 94h3v4h-3zM181 94h2v4h-2zM105 98h5v4h-5zM113 98h2v4h-2zM136 98h3v4h-3zM165 102h3v4h-3zM199 102h3v4h-3zM115 106h3v4h-3zM149 106h3v4h-3zM155 106h2v4h-2zM183 106h3v4h-3zM152 110h3v4h-3zM115 114h3v3h-3zM160 114h2v3h-2zM123 117h3v4h-3zM149 117h3v4h-3zM123 121h3v4h-3zM128 121h3v4h-3zM134 121h2v4h-2zM118 125h2v4h-2zM128 125h3v4h-3zM147 125h2v4h-2zM123 129h3v4h-3zM126 133h2v4h-2zM155 133h2v4h-2zM170 133h3v4h-3zM178 133h3v4h-3zM136 137h3v4h-3zM144 137h3v4h-3zM131 141h5v4h-5zM141 141h3v4h-3zM128 149h3v3h-3zM155 149h2v3h-2zM165 149h3v3h-3zM173 149h5v3h-5zM152 152h3v4h-3zM168 152h2v4h-2zM197 152h2v4h-2zM165 156h3v4h-3zM162 160h3v4h-3zM199 160h3v4h-3zM178 168h3v4h-3zM183 168h3v4h-3zM199 168h3v4h-3zM197 180h2v4h-2zM170 184h3v4h-3zM181 184h2v4h-2zM170 188h3v3h-3zM170 191h3v4h-3zM176 191h2v4h-2zM199 191h3v4h-3z"/>
<path fill="#46ff00" d="M136 90h3v4h-3zM113 94h2v4h-2zM141 94h3v4h-3zM176 102h2v4h-2zM110 106h3v4h-3zM157 106h3v4h-3zM105 110h2v4h-2zM134 110h2v4h-2zM141 110h6v4h-6zM149 110h3v4h-3zM160 110h2v4h-2zM107 114h3v3h-3zM126 114h2v3h-2zM131 114h3v3h-3zM136 114h3v3h-3zM152 114h3v3h-3zM157 114h3v3h-3zM165 114h3v3h-3zM126 117h2v4h-2zM131 117h3v4h-3zM181 117h2v4h-2zM113 121h2v4h-2zM136 121h3v4h-3zM131 125h3v4h-3zM141 125h3v4h-3zM178 125h3v4h-3zM149 129h3v4h-3zM176 129h2v4h-2zM157 133h3v4h-3zM176 133h2v4h-2zM139 137h5v4h-5zM199 137h3v4h-3zM136 141h3v4h-3zM147 141h2v4h-2zM165 141h3v4h-3zM128 145h3v4h-3zM165 145h3v4h-3zM170 149h3v3h-3zM178 152h3v4h-3zM186 152h3v4h-3zM123 156h3v4h-3zM168 156h5v4h-5zM197 156h2v4h-2zM126 160h2v4h-2zM178 160h3v4h-3zM197 160h2v4h-2zM157 164h3v4h-3zM160 168h2v4h-2zM170 168h3v4h-3zM197 168h2v4h-2zM181 172h2v4h-2zM189 172h2v4h-2zM197 172h2v4h-2zM165 176h3v4h-3zM191 176h6v4h-6zM178 188h3v3h-3zM189 188h2v3h-2zM194 188h3v3h-3zM199 188h3v3h-3z"/>
<path fill="#61ff00" d="M147 78h2v4h-2zM139 82h5v4h-5zM147 82h2v4h-2zM162 90h3v4h-3zM181 90h2v4h-2zM126 94h2v4h-2zM110 98h3v4h-3zM128 98h3v4h-3zM197 102h2v4h-2zM152 106h3v4h-3zM194 106h3v4h-3zM139 110h2v4h-2zM147 110h2v4h-2zM191 110h3v4h-3zM168 114h2v3h-2zM141 121h3v4h-3zM147 121h2v4h-2zM155 121h2v4h-2zM110 125h3v4h-3zM139 125h2v4h-2zM162 125h3v4h-3zM136 129h3v4h-3zM173 129h3v4h-3zM181 129h2v4h-2zM123 133h3v4h-3zM134 137h2v4h-2zM152 137h3v4h-3zM170 137h3v4h-3zM128 141h3v4h-3zM152 141h5v4h-5zM118 145h2v4h-2zM134 149h2v3h-2zM168 160h2v4h-2zM186 164h3v4h-3zM197 164h2v4h-2zM168 172h2v4h-2zM181 176h2v4h-2zM197 184h2v4h-2zM181 188h2v3h-2z"/>
<path fill="#7bff00" d="M173 82h3v4h-3zM155 90h2v4h-2zM139 94h2v4h-2zM105 102h2v4h-2zM110 102h3v4h-3zM107 106h3v4h-3zM181 106h2v4h-2zM113 110h2v4h-2zM168 117h2v4h-2zM197 117h2v4h-2zM157 121h3v4h-3zM176 121h2v4h-2zM113 125h2v4h-2zM157 125h3v4h-3zM170 125h8v4h-8zM128 129h3v4h-3zM139 129h2v4h-2zM165 129h3v4h-3zM178 129h3v4h-3zM113 133h2v4h-2zM118 133h2v4h-2zM131 137h3v4h-3zM155 137h2v4h-2zM126 141h2v4h-2zM155 145h2v4h-2zM162 145h3v4h-3zM197 145h2v4h-2zM162 149h3v3h-3zM128 156h3v4h-3zM176 156h5v4h-5zM183 156h3v4h-3zM165 160h3v4h-3zM173 160h5v4h-5zM162 164h3v4h-3zM168 164h2v4h-2zM173 164h3v4h-3zM183 164h3v4h-3zM189 168h2v4h-2zM194 180h3v4h-3zM176 184h2v4h-2zM186 188h3v3h-3zM197 188h2v3h-2zM194 191h5v4h-5z"/>
<path fill="#96ff00" d="M144 82h3v4h-3zM147 90h2v4h-2zM160 90h2v4h-2zM120 94h3v4h-3zM136 94h3v4h-3zM162 94h3v4h-3zM118 98h2v4h-2zM115 102h3v4h-3zM134 114h2v3h-2zM139 114h2v3h-2zM149 114h3v3h-3zM139 117h2v4h-2zM178 121h3v4h-3zM136 125h3v4h-3zM155 125h2v4h-2zM157 129h3v4h-3zM120 133h3v4h-3zM136 133h3v4h-3zM141 133h3v4h-3zM149 137h3v4h-3zM157 137h3v4h-3zM139 141h2v4h-2zM136 145h3v4h-3zM157 160h3v4h-3zM170 160h3v4h-3zM181 160h2v4h-2zM170 164h3v4h-3zM178 164h5v4h-5zM162 168h3v4h-3zM168 168h2v4h-2zM181 168h2v4h-2zM186 176h3v4h-3zM181 180h2v4h-2zM189 180h2v4h-2zM199 184h3v4h-3zM183 188h3v3h-3zM191 191h3v4h-3z"/>
<path fill="#b0ff00" d="M155 82h2v4h-2zM170 82h3v4h-3zM155 86h2v4h-2zM152 90h3v4h-3zM157 90h3v4h-3zM183 98h3v4h-3zM162 106h3v4h-3zM186 106h3v4h-3zM181 110h2v4h-2zM194 110h3v4h-3zM197 114h2v3h-2zM110 117h3v4h-3zM173 117h3v4h-3zM178 117h3v4h-3zM144 125h3v4h-3zM152 129h3v4h-3zM134 133h2v4h-2zM181 133h5v4h-5zM126 137h2v4h-2zM165 137h3v4h-3zM186 137h3v4h-3zM178 141h3v4h-3zM176 145h2v4h-2zM131 149h3v3h-3zM155 152h2v4h-2zM165 152h3v4h-3zM181 156h2v4h-2zM165 172h3v4h-3zM170 180h3v4h-3z"/>
<path fill="#cbff00" d="M139 90h2v4h-2zM144 94h3v4h-3zM149 94h3v4h-3zM144 98h5v4h-5zM110 114h3v3h-3zM147 114h2v3h-2zM194 114h3v3h-3zM160 117h2v4h-2zM194 117h3v4h-3zM160 121h2v4h-2zM149 133h3v4h-3zM120 137h3v4h-3zM128 137h3v4h-3zM178 137h3v4h-3zM197 137h2v4h-2zM141 145h3v4h-3zM197 149h2v3h-2zM173 156h3v4h-3zM191 168h3v4h-3zM173 172h5v4h-5zM189 176h2v4h-2zM186 180h3v4h-3zM173 184h3v4h-3zM197 195h2v4h-2z"/>
<path fill="#e5ff00" d="M139 86h2v4h-2zM147 86h5v4h-5zM173 86h3v4h-3zM183 90h3v4h-3zM147 94h2v4h-2zM107 102h3v4h-3zM178 106h3v4h-3zM189 106h5v4h-5zM178 110h3v4h-3zM170 114h3v3h-3zM186 114h3v3h-3zM165 117h3v4h-3zM170 117h3v4h-3zM131 129h3v4h-3zM141 129h3v4h-3zM155 129h2v4h-2zM197 129h2v4h-2zM197 133h2v4h-2zM176 141h2v4h-2zM126 145h2v4h-2zM139 145h2v4h-2zM186 149h3v3h-3zM157 152h3v4h-3zM183 152h3v4h-3zM186 156h3v4h-3zM176 164h2v4h-2zM191 164h3v4h-3zM183 172h3v4h-3zM170 176h3v4h-3zM178 184h3v4h-3z"/>
<path fill="#ffff00" d="M149 82h3v4h-3zM144 86h3v4h-3zM144 90h3v4h-3zM149 90h3v4h-3zM162 110h3v4h-3zM181 114h2v3h-2zM197 125h2v4h-2zM128 133h3v4h-3zM147 133h2v4h-2zM160 133h5v4h-5zM123 137h3v4h-3zM197 141h2v4h-2zM160 160h2v4h-2zM183 160h3v4h-3zM165 164h3v4h-3zM194 164h3v4h-3zM176 168h2v4h-2zM170 172h3v4h-3zM178 172h3v4h-3z"/>
<path fill="#fff300" d="M141 86h3v4h-3zM123 90h3v4h-3zM178 114h3v3h-3zM183 114h3v3h-3zM173 121h3v4h-3zM181 121h2v4h-2zM197 121h2v4h-2zM183 125h3v4h-3zM113 129h2v4h-2zM162 129h3v4h-3zM131 133h3v4h-3zM194 137h3v4h-3zM126 152h2v4h-2zM160 164h2v4h-2zM189 164h2v4h-2zM168 176h2v4h-2zM178 176h3v4h-3zM173 180h3v4h-3zM191 184h3v4h-3z"/>
<path fill="#ffe800" d="M165 82h3v4h-3zM168 90h2v4h-2zM173 90h3v4h-3zM160 106h2v4h-2zM176 106h2v4h-2zM136 110h3v4h-3zM183 110h3v4h-3zM183 117h3v4h-3zM168 125h2v4h-2zM118 137h2v4h-2zM118 141h2v4h-2zM126 149h2v3h-2zM160 149h2v3h-2zM178 149h3v3h-3zM189 156h5v4h-5zM191 160h3v4h-3zM191 172h3v4h-3zM183 176h3v4h-3z"/>
<path fill="#ffdd00" d="M157 86h3v4h-3zM165 90h3v4h-3zM173 94h3v4h-3zM173 98h3v4h-3zM165 106h3v4h-3zM162 114h3v3h-3zM176 114h2v3h-2zM189 114h2v3h-2zM176 117h2v4h-2zM194 133h3v4h-3zM162 137h3v4h-3zM181 137h2v4h-2zM160 141h2v4h-2zM157 149h3v3h-3zM183 149h3v3h-3zM194 160h3v4h-3z"/>
<path fill="#ffd200" d="M141 90h3v4h-3zM183 94h3v4h-3zM181 125h2v4h-2zM144 129h3v4h-3zM115 137h3v4h-3zM157 141h3v4h-3zM162 141h3v4h-3zM189 149h2v3h-2z"/>
<path fill="#ffc700" d="M168 82h2v4h-2zM165 110h3v4h-3zM162 121h3v4h-3zM160 125h2v4h-2zM123 141h3v4h-3zM181 141h2v4h-2zM181 149h2v3h-2zM191 152h3v4h-3zM191 180h3v4h-3z"/>
<path fill="#ffbc00" d="M168 102h2v4h-2zM168 106h2v4h-2zM170 110h3v4h-3zM173 114h3v3h-3zM160 129h2v4h-2zM157 145h3v4h-3zM178 145h3v4h-3zM194 152h3v4h-3zM189 160h2v4h-2zM173 176h3v4h-3z"/>
<path fill="#ffb100" d="M165 98h3v4h-3zM186 110h3v4h-3zM186 160h3v4h-3zM176 180h5v4h-5z"/>
<path fill="#ffa600" d="M170 102h3v4h-3zM168 110h2v4h-2zM186 117h3v4h-3zM191 149h3v3h-3z"/>
<path fill="#ff9b00" d="M152 86h3v4h-3zM165 94h5v4h-5zM183 121h3v4h-3zM160 137h2v4h-2zM191 145h3v4h-3zM120 149h3v3h-3zM126 156h2v4h-2z"/>
<path fill="#ff9000" d="M170 90h3v4h-3zM173 110h3v4h-3zM189 110h2v4h-2zM194 121h3v4h-3zM183 137h3v4h-3zM194 149h3v3h-3z"/>
<path fill="#ff8500" d="M186 121h3v4h-3zM183 129h3v4h-3zM189 137h2v4h-2zM194 141h3v4h-3zM160 145h2v4h-2zM194 145h3v4h-3z"/>
<path fill="#ff7a00" d="M170 98h3v4h-3zM170 106h6v4h-6zM176 110h2v4h-2zM194 129h3v4h-3zM191 137h3v4h-3z"/>
<path fill="#ff6f00" d="M168 86h2v4h-2zM191 114h3v3h-3zM115 133h3v4h-3zM189 133h2v4h-2zM123 145h3v4h-3zM194 156h3v4h-3zM176 176h2v4h-2z"/>
<path fill="#ff6400" d="M168 121h2v4h-2zM191 121h3v4h-3zM194 125h3v4h-3zM186 129h3v4h-3zM120 141h3v4h-3zM186 145h3v4h-3zM123 149h3v3h-3zM123 152h3v4h-3z"/>
<path fill="#ff5900" d="M170 121h3v4h-3z"/>
<path fill="#ff4d00" d="M165 86h3v4h-3zM189 117h2v4h-2zM189 121h2v4h-2zM120 145h3v4h-3z"/>
<path fill="#ff4200" d="M186 133h3v4h-3zM191 133h3v4h-3z"/>
<path fill="#ff3700" d="M170 86h3v4h-3zM170 94h3v4h-3zM183 141h3v4h-3z"/>
<path fill="#ff2c00" d="M173 102h3v4h-3zM165 121h3v4h-3zM189 125h2v4h-2zM189 145h2v4h-2z"/>
<path fill="#ff2100" d="M191 117h3v4h-3z"/>
<path fill="#ff1600" d="M168 98h2v4h-2zM186 125h3v4h-3z"/>
<path fill="#ff0b00" d="M191 129h3v4h-3zM186 141h3v4h-3z"/>
<path fill="#ff0000" d="M191 125h3v4h-3zM189 129h2v4h-2zM189 141h5v4h-5zM181 145h5v4h-5z"/>
</g>
<g>
<rect x="78.5" y="52.5" width="334" height="201" fill="none" stroke="#000" stroke-width="1"/>
<path d="M81.5 253v5M87.5 253v5M92.5 253v5M97.5 253v5M102.5 253v5M107.5 253v5M113.5 253v5M118.5 253v10M123.5 253v5M128.5 253v5M134.5 253v5M139.5 253v5M144.5 253v5M149.5 253v5M154.5 253v5M160.5 253v5M165.5 253v5M170.5 253v10M175.5 253v5M181.5 253v5M186.5 253v5M191.5 253v5M196.5 253v5M201.5 253v5M207.5 253v5M212.5 253v5M217.5 253v5M222.5 253v10M228.5 253v5M233.5 253v5M238.5 253v5M243.5 253v5M248.5 253v5M254.5 253v5M259.5 253v5M264.5 253v5M269.5 253v5M275.5 253v10M280.5 253v5M285.5 253v5M290.5 253v5M295.5 253v5M301.5 253v5M306.5 253v5M311.5 253v5M316.5 253v5M322.5 253v5M327.5 253v10M332.5 253v5M337.5 253v5M342.5 253v5M348.5 253v5M353.5 253v5M358.5 253v5M363.5 253v5M369.5 253v5M374.5 253v5M379.5 253v10M384.5 253v5M389.5 253v5M395.5 253v5M400.5 253v5M405.5 253v5M410.5 253v5M78 245.5h-9M78 237.5h-4M78 230.5h-4M78 222.5h-4M78 214.5h-4M78 206.5h-9M78 199.5h-4M78 191.5h-4M78 183.5h-4M78 175.5h-4M78 168.5h-9M78 160.5h-4M78 152.5h-4M78 144.5h-4M78 137.5h-4M78 129.5h-9M78 121.5h-4M78 113.5h-4M78 106.5h-4M78 98.5h-4M78 90.5h-9M78 82.5h-4M78 75.5h-4M78 67.5h-4M78 59.5h-4M438.5 52V254M439 247.5h4M439 242.5h9M439 236.5h4M439 231.5h4M439 226.5h4M439 220.5h4M439 215.5h9M439 209.5h4M439 204.5h4M439 199.5h4M439 193.5h4M439 188.5h9M439 182.5h4M439 177.5h4M439 172.5h4M439 166.5h4M439 161.5h9M439 155.5h4M439 150.5h4M439 145.5h4M439 139.5h4M439 134.5h9M439 129.5h4M439 123.5h4M439 118.5h4M439 112.5h4M439 107.5h9M439 102.5h4M439 96.5h4M439 91.5h4M439 85.5h4M439 80.5h9M439 75.5h4M439 69.5h4M439 64.5h4M439 58.5h4M439 53.5h9" stroke="#000" stroke-width="1" fill="none"/>
<rect x="425" y="52" width="13" height="202" fill="url(#cb)"/>
<text x="118.4" y="279" text-anchor="middle">-120</text>
<text x="170.6" y="279" text-anchor="middle">-110</text>
<text x="222.8" y="279" text-anchor="middle">-100</text>
<text x="275.1" y="279" text-anchor="middle">-90</text>
<text x="327.3" y="279" text-anchor="middle">-80</text>
<text x="379.5" y="279" text-anchor="middle">-70</text>
<text x="64.5" y="250.0" text-anchor="end">25</text>
<text x="64.5" y="211.2" text-anchor="end">30</text>
<text x="64.5" y="172.5" text-anchor="end">35</text>
<text x="64.5" y="133.8" text-anchor="end">40</text>
<text x="64.5" y="95.0" text-anchor="end">45</text>
<text x="451.5" y="246.8">0</text>
<text x="451.5" y="219.8">500</text>
<text x="451.5" y="192.9">1000</text>
<text x="451.5" y="165.9">1500</text>
<text x="451.5" y="138.9">2000</text>
<text x="451.5" y="112.0">2500</text>
<text x="451.5" y="85.0">3000</text>
<text x="451.5" y="58.0">3500</text>
<text x="245" y="42" text-anchor="middle">Elevation</text>
</g>
<g shape-rendering="crispEdges">
<path fill="#0000e3" d="M836 106h3v4h-3zM629 160h3v4h-3z"/>
<path fill="#0000f4" d="M603 59h2v4h-2zM645 110h2v4h-2z"/>
<path fill="#0066ff" d="M634 133h3v4h-3z"/>
<path fill="#0084ff" d="M708 63h2v4h-2z"/>
<path fill="#00a3ff" d="M637 78h3v4h-3z"/>
<path fill="#00c2ff" d="M852 75h3v3h-3z"/>
<path fill="#00e0ff" d="M847 75h2v3h-2zM584 106h3v4h-3zM789 149h3v3h-3z"/>
<path fill="#00ffff" d="M577 71h2v4h-2zM642 75h3v3h-3zM849 75h3v3h-3z"/>
<path fill="#00ffee" d="M847 71h2v4h-2zM734 82h3v4h-3zM855 82h2v4h-2zM855 86h2v4h-2zM836 90h3v4h-3zM744 94h3v4h-3zM768 98h3v4h-3zM605 102h3v4h-3zM611 102h2v4h-2zM613 114h3v3h-3zM647 114h3v3h-3z"/>
<path fill="#00ffde" d="M726 94h3v4h-3zM600 98h3v4h-3zM647 98h3v4h-3zM608 106h3v4h-3zM632 114h2v3h-2zM634 121h3v4h-3z"/>
<path fill="#00ffcd" d="M611 67h2v4h-2zM831 90h3v4h-3zM855 90h2v4h-2zM595 94h3v4h-3zM758 98h2v4h-2zM598 102h2v4h-2zM831 110h3v4h-3zM650 114h3v3h-3zM632 121h2v4h-2zM626 125h3v4h-3z"/>
<path fill="#00ffbd" d="M847 78h2v4h-2zM608 86h3v4h-3zM737 90h2v4h-2zM621 94h3v4h-3zM637 94h3v4h-3zM655 94h3v4h-3zM815 94h3v4h-3zM839 94h2v4h-2zM574 98h3v4h-3zM637 102h3v4h-3zM592 106h3v4h-3zM836 110h3v4h-3zM815 114h3v3h-3zM826 117h2v4h-2zM619 129h2v4h-2zM598 137h2v4h-2zM776 149h2v3h-2zM621 152h3v4h-3z"/>
<path fill="#00ffac" d="M726 67h3v4h-3zM700 71h2v4h-2zM605 75h3v3h-3zM731 75h3v3h-3zM844 75h3v3h-3zM642 78h3v4h-3zM844 78h3v4h-3zM595 82h3v4h-3zM637 82h3v4h-3zM844 82h3v4h-3zM849 86h3v4h-3zM608 90h3v4h-3zM640 90h2v4h-2zM847 90h2v4h-2zM852 90h3v4h-3zM815 98h3v4h-3zM603 102h2v4h-2zM611 106h2v4h-2zM608 114h3v3h-3zM797 114h2v3h-2zM629 129h3v4h-3zM653 129h2v4h-2zM655 149h3v3h-3zM645 168h2v4h-2z"/>
<path fill="#00ff9b" d="M608 78h3v4h-3zM852 82h3v4h-3zM605 86h3v4h-3zM742 86h2v4h-2zM839 90h2v4h-2zM598 94h2v4h-2zM619 94h2v4h-2zM826 94h2v4h-2zM605 98h6v4h-6zM634 98h3v4h-3zM747 98h3v4h-3zM608 102h3v4h-3zM613 106h3v4h-3zM600 110h3v4h-3zM789 114h3v3h-3zM608 117h3v4h-3zM608 121h3v4h-3zM624 121h2v4h-2zM619 125h2v4h-2zM634 125h3v4h-3zM595 129h3v4h-3zM616 129h3v4h-3zM778 129h3v4h-3zM619 133h2v4h-2zM626 141h3v4h-3zM634 141h3v4h-3zM616 145h3v4h-3zM634 145h3v4h-3zM697 149h3v3h-3zM778 160h3v4h-3zM781 164h3v4h-3z"/>
<path fill="#00ff8b" d="M574 63h3v4h-3zM674 63h2v4h-2zM721 75h2v3h-2zM592 78h3v4h-3zM624 82h2v4h-2zM849 82h3v4h-3zM616 86h3v4h-3zM839 86h5v4h-5zM577 90h2v4h-2zM768 90h5v4h-5zM815 90h3v4h-3zM849 90h3v4h-3zM834 94h2v4h-2zM603 98h2v4h-2zM629 98h3v4h-3zM650 98h3v4h-3zM839 102h2v4h-2zM820 106h3v4h-3zM590 110h2v4h-2zM619 110h2v4h-2zM655 110h3v4h-3zM603 114h5v3h-5zM634 114h3v3h-3zM621 121h3v4h-3zM624 125h2v4h-2zM632 125h2v4h-2zM666 137h2v4h-2zM792 137h2v4h-2zM799 137h3v4h-3zM729 141h2v4h-2zM624 145h2v4h-2zM629 149h3v3h-3zM653 160h2v4h-2z"/>
<path fill="#00ff7a" d="M611 59h2v4h-2zM705 59h3v4h-3zM579 67h3v4h-3zM721 67h2v4h-2zM613 71h3v4h-3zM687 71h2v4h-2zM710 71h3v4h-3zM718 75h3v3h-3zM668 78h3v4h-3zM763 78h2v4h-2zM852 78h3v4h-3zM765 82h3v4h-3zM847 82h2v4h-2zM566 86h3v4h-3zM734 86h3v4h-3zM768 86h3v4h-3zM852 86h3v4h-3zM826 90h2v4h-2zM836 98h3v4h-3zM616 102h3v4h-3zM642 106h3v4h-3zM765 106h6v4h-6zM605 110h3v4h-3zM629 110h3v4h-3zM587 117h5v4h-5zM634 117h3v4h-3zM626 121h3v4h-3zM637 121h3v4h-3zM781 121h3v4h-3zM645 125h5v4h-5zM802 125h3v4h-3zM600 133h3v4h-3zM640 133h2v4h-2zM789 133h3v4h-3zM802 133h3v4h-3zM569 137h2v4h-2zM629 137h3v4h-3zM637 137h5v4h-5zM650 137h3v4h-3zM807 137h3v4h-3zM579 141h3v4h-3zM613 141h3v4h-3zM807 141h3v4h-3zM595 145h3v4h-3zM744 149h3v3h-3zM771 152h2v4h-2z"/>
<path fill="#00ff6a" d="M579 59h3v4h-3zM598 63h2v4h-2zM716 67h2v4h-2zM626 71h3v4h-3zM852 71h3v4h-3zM571 75h3v3h-3zM574 78h3v4h-3zM718 78h3v4h-3zM849 78h3v4h-3zM611 82h2v4h-2zM737 82h2v4h-2zM577 86h2v4h-2zM666 86h2v4h-2zM681 86h3v4h-3zM708 86h2v4h-2zM605 90h3v4h-3zM624 90h2v4h-2zM642 90h3v4h-3zM818 90h2v4h-2zM605 94h6v4h-6zM624 94h2v4h-2zM771 94h2v4h-2zM642 98h3v4h-3zM569 102h2v4h-2zM577 102h2v4h-2zM600 102h3v4h-3zM645 102h2v4h-2zM661 102h2v4h-2zM742 102h2v4h-2zM600 106h3v4h-3zM758 106h2v4h-2zM828 106h3v4h-3zM807 110h3v4h-3zM820 110h3v4h-3zM600 117h3v4h-3zM650 117h3v4h-3zM805 117h2v4h-2zM611 121h2v4h-2zM713 121h3v4h-3zM598 125h2v4h-2zM613 125h3v4h-3zM629 125h3v4h-3zM637 125h3v4h-3zM713 129h3v4h-3zM650 133h3v4h-3zM611 141h2v4h-2zM632 141h2v4h-2zM655 141h3v4h-3zM579 145h3v4h-3zM600 145h3v4h-3zM608 145h5v4h-5zM621 145h3v4h-3zM632 145h2v4h-2zM647 145h3v4h-3zM674 145h2v4h-2zM634 149h6v3h-6zM768 156h3v4h-3zM765 164h3v4h-3z"/>
<path fill="#00ff59" d="M598 59h2v4h-2zM621 59h3v4h-3zM681 59h3v4h-3zM708 59h2v4h-2zM608 63h3v4h-3zM718 63h3v4h-3zM592 67h3v4h-3zM731 67h3v4h-3zM666 71h2v4h-2zM716 71h2v4h-2zM569 75h2v3h-2zM613 78h3v4h-3zM640 78h2v4h-2zM577 82h2v4h-2zM650 82h3v4h-3zM841 82h3v4h-3zM603 86h2v4h-2zM626 86h3v4h-3zM640 86h2v4h-2zM582 90h2v4h-2zM595 90h3v4h-3zM645 90h2v4h-2zM600 94h3v4h-3zM640 94h2v4h-2zM763 94h2v4h-2zM571 98h3v4h-3zM595 98h3v4h-3zM632 98h2v4h-2zM661 98h5v4h-5zM765 98h3v4h-3zM760 102h3v4h-3zM773 102h3v4h-3zM802 102h3v4h-3zM836 102h3v4h-3zM637 106h3v4h-3zM647 106h3v4h-3zM608 110h11v4h-11zM834 110h2v4h-2zM569 114h2v3h-2zM574 114h3v3h-3zM590 114h5v3h-5zM655 114h3v3h-3zM571 121h3v4h-3zM590 121h2v4h-2zM574 125h5v4h-5zM600 125h3v4h-3zM605 125h3v4h-3zM624 129h5v4h-5zM637 129h3v4h-3zM613 133h6v4h-6zM637 133h3v4h-3zM760 133h3v4h-3zM582 137h2v4h-2zM611 137h2v4h-2zM621 137h3v4h-3zM634 137h3v4h-3zM645 137h2v4h-2zM661 137h2v4h-2zM721 137h2v4h-2zM605 141h3v4h-3zM797 141h2v4h-2zM595 149h3v3h-3zM739 149h3v3h-3zM765 152h3v4h-3zM794 156h3v4h-3zM773 168h3v4h-3z"/>
<path fill="#00ff48" d="M671 59h3v4h-3zM687 59h2v4h-2zM571 63h3v4h-3zM616 63h3v4h-3zM624 67h2v4h-2zM684 67h3v4h-3zM737 67h2v4h-2zM713 71h3v4h-3zM726 71h3v4h-3zM566 75h3v3h-3zM590 75h2v3h-2zM692 75h3v3h-3zM744 75h3v3h-3zM750 75h2v3h-2zM603 78h2v4h-2zM647 78h3v4h-3zM582 82h2v4h-2zM590 82h2v4h-2zM640 82h2v4h-2zM744 82h3v4h-3zM569 86h2v4h-2zM637 86h3v4h-3zM645 86h2v4h-2zM847 86h2v4h-2zM739 90h3v4h-3zM828 90h3v4h-3zM663 94h3v4h-3zM841 94h3v4h-3zM626 98h3v4h-3zM637 98h3v4h-3zM726 98h5v4h-5zM744 98h3v4h-3zM760 98h3v4h-3zM820 98h3v4h-3zM650 102h3v4h-3zM723 102h3v4h-3zM813 102h2v4h-2zM834 102h2v4h-2zM590 106h2v4h-2zM598 106h2v4h-2zM797 106h2v4h-2zM813 106h2v4h-2zM577 114h2v3h-2zM611 114h2v3h-2zM739 114h3v3h-3zM836 114h3v3h-3zM737 117h2v4h-2zM768 117h3v4h-3zM592 121h3v4h-3zM658 121h3v4h-3zM718 121h3v4h-3zM794 121h3v4h-3zM820 121h3v4h-3zM584 125h3v4h-3zM595 125h3v4h-3zM608 125h3v4h-3zM755 125h3v4h-3zM786 125h3v4h-3zM799 125h3v4h-3zM807 125h3v4h-3zM815 125h3v4h-3zM679 129h2v4h-2zM771 129h2v4h-2zM792 129h2v4h-2zM595 133h3v4h-3zM621 133h3v4h-3zM676 133h3v4h-3zM771 133h2v4h-2zM642 137h3v4h-3zM794 137h3v4h-3zM802 137h3v4h-3zM653 141h2v4h-2zM794 141h3v4h-3zM645 145h2v4h-2zM653 145h2v4h-2zM647 149h3v3h-3zM653 149h2v3h-2zM768 149h3v3h-3zM794 149h3v3h-3zM632 152h2v4h-2zM647 152h3v4h-3zM752 152h3v4h-3zM637 156h3v4h-3zM650 156h3v4h-3z"/>
<path fill="#00ff38" d="M590 59h2v4h-2zM603 63h2v4h-2zM611 63h2v4h-2zM687 63h2v4h-2zM695 63h2v4h-2zM716 63h2v4h-2zM726 63h3v4h-3zM571 67h3v4h-3zM629 67h3v4h-3zM658 67h3v4h-3zM687 67h2v4h-2zM595 71h3v4h-3zM608 71h3v4h-3zM674 71h2v4h-2zM684 71h3v4h-3zM587 75h3v3h-3zM595 75h3v3h-3zM619 75h2v3h-2zM619 78h2v4h-2zM663 82h3v4h-3zM679 82h2v4h-2zM692 82h3v4h-3zM721 82h2v4h-2zM752 82h3v4h-3zM600 86h3v4h-3zM663 86h3v4h-3zM721 86h2v4h-2zM592 90h3v4h-3zM629 90h3v4h-3zM647 90h3v4h-3zM689 90h3v4h-3zM834 90h2v4h-2zM642 94h3v4h-3zM823 94h3v4h-3zM613 98h3v4h-3zM587 102h3v4h-3zM634 102h3v4h-3zM671 102h3v4h-3zM718 102h3v4h-3zM603 106h2v4h-2zM645 106h2v4h-2zM771 106h2v4h-2zM802 106h3v4h-3zM621 110h3v4h-3zM650 110h3v4h-3zM794 110h3v4h-3zM815 110h3v4h-3zM642 114h3v3h-3zM792 114h2v3h-2zM828 114h3v3h-3zM839 114h2v3h-2zM671 117h3v4h-3zM676 117h3v4h-3zM613 121h3v4h-3zM629 121h3v4h-3zM695 121h2v4h-2zM642 125h3v4h-3zM655 125h3v4h-3zM603 129h2v4h-2zM640 129h2v4h-2zM605 133h3v4h-3zM624 133h2v4h-2zM655 133h6v4h-6zM671 133h3v4h-3zM729 133h2v4h-2zM750 133h2v4h-2zM807 133h3v4h-3zM600 137h3v4h-3zM624 137h2v4h-2zM632 137h2v4h-2zM742 137h2v4h-2zM752 137h3v4h-3zM619 141h2v4h-2zM624 141h2v4h-2zM645 141h2v4h-2zM650 141h3v4h-3zM760 141h3v4h-3zM778 141h3v4h-3zM613 145h3v4h-3zM731 145h3v4h-3zM737 145h2v4h-2zM752 145h3v4h-3zM629 152h3v4h-3zM784 152h2v4h-2zM773 156h3v4h-3zM716 160h2v4h-2zM655 164h3v4h-3zM776 164h2v4h-2zM760 184h3v4h-3z"/>
<path fill="#00ff27" d="M695 59h2v4h-2zM592 63h3v4h-3zM613 63h3v4h-3zM692 63h3v4h-3zM721 63h2v4h-2zM605 67h3v4h-3zM647 67h3v4h-3zM671 67h3v4h-3zM718 67h3v4h-3zM563 71h3v4h-3zM629 71h3v4h-3zM642 71h3v4h-3zM663 71h3v4h-3zM574 75h3v3h-3zM608 75h5v3h-5zM624 75h2v3h-2zM700 75h2v3h-2zM742 75h2v3h-2zM577 78h2v4h-2zM584 78h3v4h-3zM616 78h3v4h-3zM713 78h3v4h-3zM768 78h3v4h-3zM571 82h3v4h-3zM598 82h2v4h-2zM629 82h3v4h-3zM634 82h3v4h-3zM676 82h3v4h-3zM687 82h2v4h-2zM713 82h3v4h-3zM718 82h3v4h-3zM742 82h2v4h-2zM747 82h3v4h-3zM595 86h3v4h-3zM624 86h2v4h-2zM634 86h3v4h-3zM723 86h3v4h-3zM598 90h7v4h-7zM626 90h3v4h-3zM661 90h2v4h-2zM574 94h3v4h-3zM584 94h3v4h-3zM645 94h2v4h-2zM731 94h3v4h-3zM760 94h3v4h-3zM847 94h2v4h-2zM611 98h2v4h-2zM621 98h3v4h-3zM671 98h3v4h-3zM773 98h3v4h-3zM844 98h3v4h-3zM595 102h3v4h-3zM621 102h3v4h-3zM663 102h3v4h-3zM763 102h2v4h-2zM771 102h2v4h-2zM776 102h2v4h-2zM605 106h3v4h-3zM616 106h3v4h-3zM624 106h5v4h-5zM634 106h3v4h-3zM658 106h3v4h-3zM776 106h2v4h-2zM831 106h3v4h-3zM571 110h3v4h-3zM603 110h2v4h-2zM758 110h2v4h-2zM828 110h3v4h-3zM595 114h3v3h-3zM616 114h3v3h-3zM742 114h2v3h-2zM629 117h3v4h-3zM645 117h2v4h-2zM653 117h2v4h-2zM661 117h2v4h-2zM818 117h2v4h-2zM600 121h3v4h-3zM645 121h2v4h-2zM650 121h3v4h-3zM786 121h3v4h-3zM802 121h5v4h-5zM815 121h3v4h-3zM621 125h3v4h-3zM695 125h2v4h-2zM778 125h3v4h-3zM598 129h2v4h-2zM582 133h5v4h-5zM592 133h3v4h-3zM645 133h2v4h-2zM666 133h2v4h-2zM810 133h3v4h-3zM603 137h2v4h-2zM616 137h3v4h-3zM655 137h3v4h-3zM737 137h2v4h-2zM784 137h5v4h-5zM640 141h5v4h-5zM768 141h3v4h-3zM661 145h2v4h-2zM739 145h3v4h-3zM626 149h3v3h-3zM653 152h2v4h-2zM668 152h3v4h-3zM647 156h3v4h-3zM739 156h3v4h-3zM653 164h2v4h-2zM763 164h2v4h-2zM807 164h3v4h-3z"/>
<path fill="#00ff17" d="M634 59h3v4h-3zM582 63h2v4h-2zM605 63h3v4h-3zM661 63h2v4h-2zM697 63h3v4h-3zM561 67h2v4h-2zM621 67h3v4h-3zM713 67h3v4h-3zM566 71h3v4h-3zM587 71h3v4h-3zM600 71h3v4h-3zM611 71h2v4h-2zM676 71h3v4h-3zM592 75h3v3h-3zM621 75h3v3h-3zM671 75h3v3h-3zM702 75h6v3h-6zM716 75h2v3h-2zM600 78h3v4h-3zM611 78h2v4h-2zM645 78h2v4h-2zM747 78h3v4h-3zM755 78h3v4h-3zM600 82h3v4h-3zM616 82h3v4h-3zM645 82h2v4h-2zM666 82h2v4h-2zM681 82h3v4h-3zM731 82h3v4h-3zM619 86h2v4h-2zM629 86h3v4h-3zM668 86h3v4h-3zM836 86h3v4h-3zM619 90h2v4h-2zM637 90h3v4h-3zM653 90h2v4h-2zM726 90h3v4h-3zM734 90h3v4h-3zM841 90h6v4h-6zM857 90h3v4h-3zM577 94h2v4h-2zM632 94h2v4h-2zM661 94h2v4h-2zM818 94h2v4h-2zM640 98h2v4h-2zM668 98h3v4h-3zM723 98h3v4h-3zM734 98h3v4h-3zM763 98h2v4h-2zM813 98h2v4h-2zM818 98h2v4h-2zM839 98h2v4h-2zM632 102h2v4h-2zM658 102h3v4h-3zM681 102h3v4h-3zM729 102h2v4h-2zM737 102h2v4h-2zM758 102h2v4h-2zM810 102h3v4h-3zM595 106h3v4h-3zM629 106h3v4h-3zM739 106h3v4h-3zM598 110h2v4h-2zM661 110h2v4h-2zM737 110h2v4h-2zM797 110h2v4h-2zM826 110h2v4h-2zM582 114h2v3h-2zM587 114h3v3h-3zM621 114h3v3h-3zM807 114h3v3h-3zM813 114h2v3h-2zM820 114h3v3h-3zM831 114h3v3h-3zM577 117h2v4h-2zM632 117h2v4h-2zM655 117h6v4h-6zM773 117h3v4h-3zM566 121h3v4h-3zM587 121h3v4h-3zM595 121h3v4h-3zM603 121h2v4h-2zM784 121h2v4h-2zM579 125h3v4h-3zM611 125h2v4h-2zM726 125h3v4h-3zM789 125h3v4h-3zM611 129h5v4h-5zM621 129h3v4h-3zM781 129h3v4h-3zM566 133h3v4h-3zM590 133h2v4h-2zM611 133h2v4h-2zM632 133h2v4h-2zM781 133h5v4h-5zM799 133h3v4h-3zM805 133h2v4h-2zM574 137h8v4h-8zM587 137h5v4h-5zM605 137h3v4h-3zM647 137h3v4h-3zM658 137h3v4h-3zM705 137h3v4h-3zM758 137h2v4h-2zM813 137h5v4h-5zM566 141h3v4h-3zM571 141h3v4h-3zM592 141h3v4h-3zM747 141h3v4h-3zM619 145h2v4h-2zM723 145h3v4h-3zM776 145h2v4h-2zM786 145h3v4h-3zM587 149h3v3h-3zM663 149h3v3h-3zM729 149h2v3h-2zM773 149h3v3h-3zM786 149h3v3h-3zM799 149h3v3h-3zM624 152h2v4h-2zM794 152h3v4h-3zM574 156h3v4h-3zM784 156h2v4h-2zM805 156h2v4h-2zM729 164h2v4h-2zM708 168h2v4h-2zM776 168h2v4h-2zM789 168h3v4h-3zM773 172h3v4h-3zM765 191h3v4h-3zM729 199h2v4h-2zM758 199h2v4h-2z"/>
<path fill="#00ff06" d="M577 59h2v4h-2zM587 59h3v4h-3zM592 59h3v4h-3zM642 59h3v4h-3zM713 59h3v4h-3zM577 63h2v4h-2zM600 63h3v4h-3zM619 63h2v4h-2zM626 63h3v4h-3zM634 63h3v4h-3zM663 63h3v4h-3zM713 63h3v4h-3zM577 67h2v4h-2zM582 67h2v4h-2zM590 67h2v4h-2zM598 67h2v4h-2zM642 67h3v4h-3zM700 67h2v4h-2zM582 71h2v4h-2zM605 71h3v4h-3zM679 71h2v4h-2zM747 71h3v4h-3zM582 75h2v3h-2zM603 75h2v3h-2zM616 75h3v3h-3zM566 78h3v4h-3zM595 78h3v4h-3zM721 78h5v4h-5zM758 78h2v4h-2zM569 82h2v4h-2zM642 82h3v4h-3zM647 82h3v4h-3zM689 82h3v4h-3zM632 86h2v4h-2zM642 86h3v4h-3zM716 86h5v4h-5zM726 86h3v4h-3zM765 86h3v4h-3zM771 86h2v4h-2zM561 90h2v4h-2zM566 90h3v4h-3zM590 90h2v4h-2zM613 90h3v4h-3zM634 90h3v4h-3zM668 90h3v4h-3zM723 90h3v4h-3zM742 90h5v4h-5zM750 90h2v4h-2zM592 94h3v4h-3zM650 94h3v4h-3zM734 94h3v4h-3zM836 94h3v4h-3zM737 98h5v4h-5zM776 98h2v4h-2zM841 98h3v4h-3zM574 102h3v4h-3zM582 102h2v4h-2zM590 102h5v4h-5zM619 102h2v4h-2zM765 102h3v4h-3zM797 102h2v4h-2zM807 102h3v4h-3zM820 102h3v4h-3zM569 106h2v4h-2zM619 106h5v4h-5zM729 106h2v4h-2zM763 106h2v4h-2zM561 110h2v4h-2zM584 110h3v4h-3zM760 110h3v4h-3zM773 110h3v4h-3zM818 110h2v4h-2zM579 114h3v3h-3zM600 114h3v3h-3zM755 114h3v3h-3zM765 114h3v3h-3zM810 114h3v3h-3zM823 114h3v3h-3zM834 114h2v3h-2zM605 117h3v4h-3zM640 117h2v4h-2zM710 117h6v4h-6zM760 117h3v4h-3zM786 117h3v4h-3zM815 117h3v4h-3zM823 117h3v4h-3zM640 121h2v4h-2zM755 121h3v4h-3zM765 121h3v4h-3zM799 121h3v4h-3zM813 121h2v4h-2zM603 125h2v4h-2zM689 125h3v4h-3zM705 125h3v4h-3zM818 125h2v4h-2zM577 129h2v4h-2zM590 129h2v4h-2zM634 129h3v4h-3zM674 129h2v4h-2zM702 129h3v4h-3zM763 129h2v4h-2zM789 129h3v4h-3zM799 129h3v4h-3zM805 129h2v4h-2zM820 129h3v4h-3zM561 133h5v4h-5zM571 133h3v4h-3zM587 133h3v4h-3zM626 133h3v4h-3zM647 133h3v4h-3zM681 133h3v4h-3zM695 133h2v4h-2zM713 133h3v4h-3zM778 133h3v4h-3zM695 137h2v4h-2zM718 137h3v4h-3zM739 137h3v4h-3zM744 137h3v4h-3zM773 137h3v4h-3zM805 137h2v4h-2zM574 141h3v4h-3zM603 141h2v4h-2zM608 141h3v4h-3zM616 141h3v4h-3zM637 141h3v4h-3zM689 141h3v4h-3zM731 141h3v4h-3zM737 141h2v4h-2zM784 141h2v4h-2zM587 145h3v4h-3zM744 145h3v4h-3zM763 145h2v4h-2zM584 149h3v3h-3zM621 149h3v3h-3zM661 149h2v3h-2zM626 152h3v4h-3zM640 152h2v4h-2zM645 152h2v4h-2zM663 152h5v4h-5zM718 152h3v4h-3zM723 152h3v4h-3zM737 152h2v4h-2zM789 152h3v4h-3zM658 160h3v4h-3zM731 164h3v4h-3zM773 164h3v4h-3zM797 164h2v4h-2zM705 168h3v4h-3zM799 168h3v4h-3zM794 172h3v4h-3zM776 180h5v4h-5z"/>
<path fill="#11ff00" d="M571 59h3v4h-3zM584 59h3v4h-3zM613 59h3v4h-3zM619 59h2v4h-2zM666 59h2v4h-2zM689 59h3v4h-3zM697 59h3v4h-3zM584 63h3v4h-3zM563 67h3v4h-3zM569 67h2v4h-2zM584 67h6v4h-6zM616 67h3v4h-3zM697 67h3v4h-3zM734 67h3v4h-3zM661 71h2v4h-2zM718 71h3v4h-3zM579 75h3v3h-3zM640 75h2v3h-2zM710 75h6v3h-6zM587 78h3v4h-3zM626 78h3v4h-3zM632 78h2v4h-2zM695 78h2v4h-2zM731 78h3v4h-3zM716 82h2v4h-2zM739 82h3v4h-3zM611 86h5v4h-5zM611 90h2v4h-2zM616 90h3v4h-3zM632 90h2v4h-2zM676 90h3v4h-3zM702 90h6v4h-6zM710 90h3v4h-3zM763 90h2v4h-2zM590 94h2v4h-2zM611 94h8v4h-8zM629 94h3v4h-3zM634 94h3v4h-3zM653 94h2v4h-2zM577 98h2v4h-2zM598 98h2v4h-2zM619 98h2v4h-2zM658 98h3v4h-3zM689 98h3v4h-3zM721 98h2v4h-2zM750 98h2v4h-2zM828 98h3v4h-3zM655 102h3v4h-3zM697 102h3v4h-3zM747 102h3v4h-3zM826 102h5v4h-5zM563 106h3v4h-3zM587 106h3v4h-3zM632 106h2v4h-2zM655 106h3v4h-3zM807 106h3v4h-3zM826 106h2v4h-2zM582 110h2v4h-2zM642 110h3v4h-3zM647 110h3v4h-3zM695 110h2v4h-2zM619 114h2v3h-2zM624 114h2v3h-2zM658 114h3v3h-3zM708 114h2v3h-2zM726 114h5v3h-5zM737 114h2v3h-2zM624 117h2v4h-2zM642 117h3v4h-3zM674 117h2v4h-2zM778 117h3v4h-3zM582 121h2v4h-2zM653 121h2v4h-2zM739 121h3v4h-3zM818 121h2v4h-2zM823 121h3v4h-3zM687 125h2v4h-2zM710 125h3v4h-3zM731 125h3v4h-3zM768 125h3v4h-3zM805 125h2v4h-2zM571 129h6v4h-6zM632 129h2v4h-2zM658 129h3v4h-3zM710 129h3v4h-3zM721 129h2v4h-2zM807 129h6v4h-6zM608 133h3v4h-3zM642 133h3v4h-3zM663 133h3v4h-3zM608 137h3v4h-3zM626 137h3v4h-3zM781 137h3v4h-3zM577 141h2v4h-2zM595 141h3v4h-3zM708 141h2v4h-2zM739 141h3v4h-3zM776 141h2v4h-2zM813 141h2v4h-2zM684 145h3v4h-3zM789 145h3v4h-3zM794 145h8v4h-8zM805 145h2v4h-2zM611 149h2v3h-2zM574 152h3v4h-3zM650 152h3v4h-3zM658 152h3v4h-3zM708 152h2v4h-2zM768 152h3v4h-3zM810 152h3v4h-3zM637 160h3v4h-3zM784 160h2v4h-2zM689 168h3v4h-3zM684 172h3v4h-3zM792 172h2v4h-2zM687 176h2v4h-2zM689 191h3v4h-3zM697 191h3v4h-3zM763 195h2v4h-2z"/>
<path fill="#2cff00" d="M605 59h3v4h-3zM653 59h2v4h-2zM710 59h3v4h-3zM579 63h3v4h-3zM590 63h2v4h-2zM632 63h2v4h-2zM650 63h3v4h-3zM658 63h3v4h-3zM558 67h3v4h-3zM603 67h2v4h-2zM608 67h3v4h-3zM613 67h3v4h-3zM619 67h2v4h-2zM634 67h3v4h-3zM640 67h2v4h-2zM666 67h2v4h-2zM723 67h3v4h-3zM574 71h3v4h-3zM579 71h3v4h-3zM590 71h2v4h-2zM598 71h2v4h-2zM603 71h2v4h-2zM637 71h3v4h-3zM655 71h3v4h-3zM681 71h3v4h-3zM563 75h3v3h-3zM577 75h2v3h-2zM634 75h3v3h-3zM663 75h3v3h-3zM674 75h2v3h-2zM681 75h3v3h-3zM689 75h3v3h-3zM747 75h3v3h-3zM561 78h2v4h-2zM590 78h2v4h-2zM624 78h2v4h-2zM629 78h3v4h-3zM634 78h3v4h-3zM655 78h3v4h-3zM684 78h5v4h-5zM726 78h3v4h-3zM737 78h2v4h-2zM742 78h2v4h-2zM561 82h5v4h-5zM587 82h3v4h-3zM613 82h3v4h-3zM668 82h3v4h-3zM723 82h3v4h-3zM571 86h3v4h-3zM582 86h2v4h-2zM592 86h3v4h-3zM621 86h3v4h-3zM655 86h3v4h-3zM689 86h3v4h-3zM571 90h3v4h-3zM587 90h3v4h-3zM621 90h3v4h-3zM695 90h2v4h-2zM718 90h3v4h-3zM820 90h3v4h-3zM563 94h6v4h-6zM603 94h2v4h-2zM626 94h3v4h-3zM723 94h3v4h-3zM737 94h2v4h-2zM584 98h3v4h-3zM666 98h2v4h-2zM823 98h3v4h-3zM558 102h3v4h-3zM579 102h3v4h-3zM613 102h3v4h-3zM726 102h3v4h-3zM558 106h3v4h-3zM582 106h2v4h-2zM650 106h3v4h-3zM805 106h2v4h-2zM563 110h3v4h-3zM592 110h6v4h-6zM626 110h3v4h-3zM632 110h2v4h-2zM637 110h3v4h-3zM653 110h2v4h-2zM771 110h2v4h-2zM802 110h3v4h-3zM626 114h3v3h-3zM674 114h2v3h-2zM684 114h3v3h-3zM710 114h6v3h-6zM758 114h2v3h-2zM794 114h3v3h-3zM802 114h3v3h-3zM595 117h3v4h-3zM611 117h5v4h-5zM647 117h3v4h-3zM574 121h3v4h-3zM616 121h3v4h-3zM734 121h3v4h-3zM789 121h3v4h-3zM797 121h2v4h-2zM826 121h5v4h-5zM571 125h3v4h-3zM590 125h2v4h-2zM616 125h3v4h-3zM650 125h3v4h-3zM671 125h3v4h-3zM700 125h2v4h-2zM750 125h2v4h-2zM760 125h3v4h-3zM765 125h3v4h-3zM781 125h3v4h-3zM797 125h2v4h-2zM579 129h3v4h-3zM600 129h3v4h-3zM661 129h2v4h-2zM700 129h2v4h-2zM708 129h2v4h-2zM716 129h2v4h-2zM755 129h3v4h-3zM813 129h2v4h-2zM569 133h2v4h-2zM603 133h2v4h-2zM629 133h3v4h-3zM661 133h2v4h-2zM692 133h3v4h-3zM721 133h2v4h-2zM739 133h3v4h-3zM765 133h6v4h-6zM566 137h3v4h-3zM584 137h3v4h-3zM592 137h3v4h-3zM729 137h2v4h-2zM763 137h2v4h-2zM584 141h6v4h-6zM668 141h3v4h-3zM721 141h2v4h-2zM815 141h3v4h-3zM584 145h3v4h-3zM626 145h3v4h-3zM640 145h2v4h-2zM650 145h3v4h-3zM666 145h2v4h-2zM716 145h2v4h-2zM750 145h2v4h-2zM792 145h2v4h-2zM807 145h3v4h-3zM577 149h2v3h-2zM616 149h3v3h-3zM632 149h2v3h-2zM642 149h5v3h-5zM716 149h2v3h-2zM763 149h2v3h-2zM797 149h2v3h-2zM802 149h3v3h-3zM807 149h3v3h-3zM592 152h3v4h-3zM642 152h3v4h-3zM716 152h2v4h-2zM747 152h3v4h-3zM776 152h2v4h-2zM781 152h3v4h-3zM797 152h2v4h-2zM590 156h2v4h-2zM658 156h3v4h-3zM666 156h2v4h-2zM679 156h2v4h-2zM778 156h3v4h-3zM760 160h5v4h-5zM797 160h5v4h-5zM810 160h3v4h-3zM637 164h3v4h-3zM647 164h3v4h-3zM687 164h2v4h-2zM771 164h2v4h-2zM655 168h3v4h-3zM744 168h3v4h-3zM755 168h3v4h-3zM642 172h3v4h-3zM786 172h6v4h-6zM642 176h3v4h-3zM647 176h3v4h-3zM710 176h3v4h-3zM773 180h3v4h-3zM747 188h3v3h-3z"/>
<path fill="#46ff00" d="M569 59h2v4h-2zM582 59h2v4h-2zM587 63h3v4h-3zM637 63h3v4h-3zM642 63h3v4h-3zM666 63h2v4h-2zM723 63h3v4h-3zM566 67h3v4h-3zM574 67h3v4h-3zM600 67h3v4h-3zM626 67h3v4h-3zM632 67h2v4h-2zM708 67h2v4h-2zM729 67h2v4h-2zM632 71h2v4h-2zM645 71h2v4h-2zM723 71h3v4h-3zM613 75h3v3h-3zM626 75h3v3h-3zM684 75h5v3h-5zM723 75h3v3h-3zM671 78h3v4h-3zM679 78h2v4h-2zM729 78h2v4h-2zM750 78h2v4h-2zM603 82h2v4h-2zM619 82h2v4h-2zM632 82h2v4h-2zM708 82h2v4h-2zM561 86h5v4h-5zM574 86h3v4h-3zM598 86h2v4h-2zM647 86h3v4h-3zM679 86h2v4h-2zM684 86h5v4h-5zM844 86h3v4h-3zM658 90h3v4h-3zM684 90h3v4h-3zM729 90h5v4h-5zM823 90h3v4h-3zM569 94h2v4h-2zM579 94h3v4h-3zM587 94h3v4h-3zM702 94h3v4h-3zM729 94h2v4h-2zM765 94h6v4h-6zM828 94h3v4h-3zM563 98h3v4h-3zM579 98h3v4h-3zM587 98h3v4h-3zM624 98h2v4h-2zM653 98h2v4h-2zM679 98h2v4h-2zM702 98h3v4h-3zM626 102h3v4h-3zM668 102h3v4h-3zM734 102h3v4h-3zM831 102h3v4h-3zM566 106h3v4h-3zM571 106h3v4h-3zM653 106h2v4h-2zM810 106h3v4h-3zM815 106h3v4h-3zM566 110h3v4h-3zM579 110h3v4h-3zM587 110h3v4h-3zM634 110h3v4h-3zM640 110h2v4h-2zM721 110h2v4h-2zM763 110h2v4h-2zM799 110h3v4h-3zM810 110h3v4h-3zM563 114h3v3h-3zM661 114h5v3h-5zM676 114h3v3h-3zM695 114h2v3h-2zM760 114h3v3h-3zM771 114h2v3h-2zM786 114h3v3h-3zM574 117h3v4h-3zM582 117h5v4h-5zM592 117h3v4h-3zM637 117h3v4h-3zM695 117h2v4h-2zM731 117h3v4h-3zM758 117h2v4h-2zM797 117h2v4h-2zM820 117h3v4h-3zM563 121h3v4h-3zM619 121h2v4h-2zM655 121h3v4h-3zM661 121h2v4h-2zM689 121h3v4h-3zM705 121h3v4h-3zM716 121h2v4h-2zM721 121h2v4h-2zM744 121h3v4h-3zM582 125h2v4h-2zM640 125h2v4h-2zM784 125h2v4h-2zM605 129h3v4h-3zM647 129h6v4h-6zM655 129h3v4h-3zM687 129h2v4h-2zM695 129h2v4h-2zM750 129h2v4h-2zM784 129h5v4h-5zM802 129h3v4h-3zM598 133h2v4h-2zM697 133h3v4h-3zM742 133h2v4h-2zM755 133h3v4h-3zM794 133h3v4h-3zM613 137h3v4h-3zM760 137h3v4h-3zM771 137h2v4h-2zM778 137h3v4h-3zM799 141h6v4h-6zM603 145h5v4h-5zM642 145h3v4h-3zM658 145h3v4h-3zM689 145h3v4h-3zM579 149h3v3h-3zM710 149h3v3h-3zM726 149h3v3h-3zM792 149h2v3h-2zM582 152h2v4h-2zM605 152h3v4h-3zM611 152h2v4h-2zM634 152h3v4h-3zM758 152h2v4h-2zM792 152h2v4h-2zM799 152h3v4h-3zM584 156h3v4h-3zM626 156h8v4h-8zM640 156h2v4h-2zM645 156h2v4h-2zM702 156h3v4h-3zM723 156h3v4h-3zM758 156h2v4h-2zM650 160h3v4h-3zM744 160h3v4h-3zM773 160h3v4h-3zM786 160h3v4h-3zM582 164h2v4h-2zM629 164h3v4h-3zM640 164h2v4h-2zM645 164h2v4h-2zM658 164h3v4h-3zM592 168h3v4h-3zM600 168h3v4h-3zM637 168h3v4h-3zM647 168h3v4h-3zM742 168h2v4h-2zM765 168h3v4h-3zM655 172h3v4h-3zM713 172h3v4h-3zM726 172h3v4h-3zM705 176h3v4h-3zM752 176h3v4h-3zM697 180h3v4h-3zM792 180h5v4h-5zM744 184h3v4h-3zM729 188h2v3h-2z"/>
<path fill="#61ff00" d="M616 59h3v4h-3zM626 59h3v4h-3zM668 59h3v4h-3zM674 59h2v4h-2zM569 63h2v4h-2zM653 63h2v4h-2zM681 63h3v4h-3zM710 63h3v4h-3zM645 67h2v4h-2zM663 67h3v4h-3zM674 67h5v4h-5zM571 71h3v4h-3zM624 71h2v4h-2zM647 71h3v4h-3zM668 71h3v4h-3zM598 75h2v3h-2zM697 75h3v3h-3zM726 75h3v3h-3zM763 75h2v3h-2zM605 78h3v4h-3zM708 78h2v4h-2zM716 78h2v4h-2zM739 78h3v4h-3zM566 82h3v4h-3zM608 82h3v4h-3zM661 82h2v4h-2zM726 82h3v4h-3zM676 86h3v4h-3zM692 86h5v4h-5zM731 86h3v4h-3zM737 86h5v4h-5zM650 90h3v4h-3zM571 94h3v4h-3zM674 94h2v4h-2zM681 94h3v4h-3zM721 94h2v4h-2zM750 94h2v4h-2zM566 98h3v4h-3zM582 98h2v4h-2zM616 98h3v4h-3zM655 98h3v4h-3zM708 98h2v4h-2zM742 98h2v4h-2zM571 102h3v4h-3zM739 102h3v4h-3zM768 102h3v4h-3zM742 106h8v4h-8zM773 106h3v4h-3zM799 106h3v4h-3zM834 106h2v4h-2zM674 110h2v4h-2zM705 110h3v4h-3zM718 110h3v4h-3zM765 110h3v4h-3zM813 110h2v4h-2zM571 114h3v3h-3zM666 114h2v3h-2zM679 114h5v3h-5zM700 114h2v3h-2zM768 114h3v3h-3zM818 114h2v3h-2zM563 117h3v4h-3zM626 117h3v4h-3zM700 117h2v4h-2zM716 117h2v4h-2zM765 117h3v4h-3zM784 117h2v4h-2zM642 121h3v4h-3zM810 121h3v4h-3zM653 125h2v4h-2zM692 125h3v4h-3zM587 129h3v4h-3zM645 129h2v4h-2zM663 129h3v4h-3zM734 129h3v4h-3zM776 129h2v4h-2zM818 129h2v4h-2zM674 133h2v4h-2zM731 133h3v4h-3zM737 133h2v4h-2zM758 133h2v4h-2zM786 133h3v4h-3zM792 133h2v4h-2zM813 133h2v4h-2zM619 137h2v4h-2zM765 137h3v4h-3zM789 137h3v4h-3zM582 141h2v4h-2zM629 141h3v4h-3zM658 141h3v4h-3zM674 141h2v4h-2zM744 141h3v4h-3zM755 141h3v4h-3zM781 141h3v4h-3zM590 145h2v4h-2zM629 145h3v4h-3zM697 145h3v4h-3zM718 145h3v4h-3zM755 145h3v4h-3zM760 145h3v4h-3zM605 149h3v3h-3zM624 149h2v3h-2zM640 149h2v3h-2zM658 149h3v3h-3zM684 149h3v3h-3zM778 149h3v3h-3zM805 149h2v3h-2zM577 152h2v4h-2zM598 152h2v4h-2zM616 152h3v4h-3zM661 152h2v4h-2zM742 152h2v4h-2zM755 152h3v4h-3zM598 156h2v4h-2zM763 156h5v4h-5zM799 156h3v4h-3zM626 160h3v4h-3zM632 160h2v4h-2zM768 160h3v4h-3zM708 164h2v4h-2zM723 164h3v4h-3zM755 164h3v4h-3zM640 168h2v4h-2zM679 168h2v4h-2zM702 168h3v4h-3zM805 168h2v4h-2zM752 172h3v4h-3zM771 172h2v4h-2zM797 172h2v4h-2zM786 176h3v4h-3zM666 180h2v4h-2zM674 180h2v4h-2zM718 180h3v4h-3zM729 180h2v4h-2zM744 180h3v4h-3zM611 184h2v4h-2zM650 184h3v4h-3zM713 184h3v4h-3zM752 184h3v4h-3zM655 188h3v3h-3zM755 188h3v3h-3zM771 188h2v3h-2zM768 191h3v4h-3zM786 242h3v4h-3z"/>
<path fill="#7bff00" d="M566 59h3v4h-3zM574 59h3v4h-3zM595 59h3v4h-3zM608 59h3v4h-3zM637 59h3v4h-3zM658 59h8v4h-8zM676 59h5v4h-5zM702 59h3v4h-3zM676 63h3v4h-3zM689 63h3v4h-3zM702 63h3v4h-3zM679 67h5v4h-5zM561 71h2v4h-2zM584 71h3v4h-3zM621 71h3v4h-3zM634 71h3v4h-3zM671 71h3v4h-3zM702 71h3v4h-3zM600 75h3v3h-3zM645 75h2v3h-2zM569 78h2v4h-2zM579 78h3v4h-3zM598 78h2v4h-2zM653 78h2v4h-2zM702 78h3v4h-3zM579 82h3v4h-3zM587 86h3v4h-3zM674 86h2v4h-2zM729 86h2v4h-2zM744 86h3v4h-3zM763 86h2v4h-2zM574 90h3v4h-3zM700 90h2v4h-2zM747 90h3v4h-3zM765 90h3v4h-3zM561 94h2v4h-2zM582 94h2v4h-2zM647 94h3v4h-3zM658 94h3v4h-3zM820 94h3v4h-3zM700 98h2v4h-2zM713 98h3v4h-3zM566 102h3v4h-3zM640 102h5v4h-5zM713 102h3v4h-3zM574 106h5v4h-5zM663 106h3v4h-3zM671 106h3v4h-3zM679 106h2v4h-2zM692 106h5v4h-5zM700 106h2v4h-2zM726 106h3v4h-3zM737 106h2v4h-2zM760 106h3v4h-3zM624 110h2v4h-2zM702 110h3v4h-3zM723 110h3v4h-3zM805 110h2v4h-2zM668 114h6v3h-6zM702 114h3v3h-3zM721 114h2v3h-2zM799 114h3v3h-3zM603 117h2v4h-2zM689 117h3v4h-3zM708 117h2v4h-2zM734 117h3v4h-3zM776 117h2v4h-2zM781 117h3v4h-3zM802 117h3v4h-3zM807 117h3v4h-3zM605 121h3v4h-3zM666 121h5v4h-5zM684 121h3v4h-3zM692 121h3v4h-3zM708 121h5v4h-5zM587 125h3v4h-3zM661 125h2v4h-2zM674 125h2v4h-2zM713 125h3v4h-3zM747 125h3v4h-3zM771 125h2v4h-2zM569 129h2v4h-2zM582 129h2v4h-2zM731 129h3v4h-3zM815 129h3v4h-3zM574 133h3v4h-3zM818 133h2v4h-2zM571 137h3v4h-3zM697 137h3v4h-3zM734 137h3v4h-3zM755 137h3v4h-3zM768 137h3v4h-3zM700 141h2v4h-2zM734 141h3v4h-3zM742 141h2v4h-2zM765 141h3v4h-3zM792 141h2v4h-2zM637 145h3v4h-3zM742 145h2v4h-2zM574 149h3v3h-3zM590 149h2v3h-2zM650 149h3v3h-3zM695 149h2v3h-2zM713 149h3v3h-3zM755 149h3v3h-3zM760 149h3v3h-3zM765 149h3v3h-3zM595 152h3v4h-3zM695 152h2v4h-2zM710 152h3v4h-3zM744 152h3v4h-3zM750 152h2v4h-2zM786 152h3v4h-3zM805 152h2v4h-2zM642 156h3v4h-3zM661 156h5v4h-5zM577 160h2v4h-2zM624 160h2v4h-2zM640 160h2v4h-2zM687 160h2v4h-2zM723 160h3v4h-3zM742 160h2v4h-2zM750 160h2v4h-2zM765 160h3v4h-3zM771 160h2v4h-2zM642 164h3v4h-3zM661 164h5v4h-5zM802 164h3v4h-3zM734 168h3v4h-3zM760 172h3v4h-3zM768 172h3v4h-3zM799 172h6v4h-6zM731 180h3v4h-3zM771 184h2v4h-2zM731 188h6v3h-6zM661 195h2v4h-2zM737 195h2v4h-2zM752 195h3v4h-3zM661 199h2v4h-2zM702 207h3v4h-3zM778 215h3v4h-3z"/>
<path fill="#96ff00" d="M700 59h2v4h-2zM629 63h3v4h-3zM684 63h3v4h-3zM700 63h2v4h-2zM650 67h3v4h-3zM661 67h2v4h-2zM619 71h2v4h-2zM689 71h3v4h-3zM721 71h2v4h-2zM637 75h3v3h-3zM650 75h3v3h-3zM739 75h3v3h-3zM663 78h3v4h-3zM681 78h3v4h-3zM710 78h3v4h-3zM765 78h3v4h-3zM605 82h3v4h-3zM729 82h2v4h-2zM658 86h3v4h-3zM700 86h2v4h-2zM750 86h2v4h-2zM563 90h3v4h-3zM584 90h3v4h-3zM666 90h2v4h-2zM697 90h3v4h-3zM760 90h3v4h-3zM666 94h2v4h-2zM697 94h3v4h-3zM747 94h3v4h-3zM590 98h5v4h-5zM645 98h2v4h-2zM692 98h3v4h-3zM731 98h3v4h-3zM831 98h3v4h-3zM561 102h2v4h-2zM584 102h3v4h-3zM689 102h3v4h-3zM721 102h2v4h-2zM823 102h3v4h-3zM579 106h3v4h-3zM640 106h2v4h-2zM674 106h2v4h-2zM689 106h3v4h-3zM818 106h2v4h-2zM823 106h3v4h-3zM558 110h3v4h-3zM569 110h2v4h-2zM658 110h3v4h-3zM671 110h3v4h-3zM689 110h3v4h-3zM700 110h2v4h-2zM739 110h3v4h-3zM731 114h3v3h-3zM763 114h2v3h-2zM826 114h2v3h-2zM569 117h2v4h-2zM598 117h2v4h-2zM705 117h3v4h-3zM794 117h3v4h-3zM577 121h2v4h-2zM584 121h3v4h-3zM676 121h3v4h-3zM737 121h2v4h-2zM742 121h2v4h-2zM758 121h5v4h-5zM771 121h2v4h-2zM778 121h3v4h-3zM561 125h5v4h-5zM697 125h3v4h-3zM702 125h3v4h-3zM718 125h3v4h-3zM758 125h2v4h-2zM813 125h2v4h-2zM563 129h3v4h-3zM642 129h3v4h-3zM692 129h3v4h-3zM739 129h3v4h-3zM758 129h2v4h-2zM765 129h3v4h-3zM579 133h3v4h-3zM708 133h2v4h-2zM723 133h3v4h-3zM744 133h3v4h-3zM797 133h2v4h-2zM595 137h3v4h-3zM700 137h2v4h-2zM713 137h3v4h-3zM713 141h3v4h-3zM752 141h3v4h-3zM805 141h2v4h-2zM582 145h2v4h-2zM729 145h2v4h-2zM734 145h3v4h-3zM778 145h6v4h-6zM608 149h3v3h-3zM705 149h3v3h-3zM718 149h5v3h-5zM637 152h3v4h-3zM705 152h3v4h-3zM713 152h3v4h-3zM773 152h3v4h-3zM608 156h3v4h-3zM692 156h3v4h-3zM718 156h3v4h-3zM789 156h3v4h-3zM807 156h3v4h-3zM619 160h2v4h-2zM708 160h2v4h-2zM734 160h3v4h-3zM755 160h3v4h-3zM750 164h2v4h-2zM747 168h3v4h-3zM768 168h3v4h-3zM778 168h3v4h-3zM640 172h2v4h-2zM718 172h3v4h-3zM653 176h2v4h-2zM658 176h3v4h-3zM716 180h2v4h-2zM763 180h2v4h-2zM755 184h3v4h-3zM768 184h3v4h-3zM634 188h3v3h-3zM647 188h3v3h-3zM716 188h2v3h-2zM737 188h5v3h-5zM744 188h3v3h-3zM776 188h2v3h-2zM752 191h3v4h-3zM695 203h2v4h-2zM734 211h3v4h-3zM786 223h3v4h-3zM786 227h3v3h-3z"/>
<path fill="#b0ff00" d="M640 59h2v4h-2zM684 59h3v4h-3zM595 63h3v4h-3zM621 63h3v4h-3zM637 67h3v4h-3zM702 67h3v4h-3zM710 67h3v4h-3zM569 71h2v4h-2zM616 71h3v4h-3zM697 71h3v4h-3zM561 75h2v3h-2zM653 75h2v3h-2zM658 75h3v3h-3zM708 75h2v3h-2zM658 78h3v4h-3zM674 78h5v4h-5zM705 78h3v4h-3zM752 78h3v4h-3zM710 82h3v4h-3zM579 86h3v4h-3zM653 86h2v4h-2zM663 90h3v4h-3zM674 90h2v4h-2zM708 90h2v4h-2zM713 94h3v4h-3zM742 94h2v4h-2zM813 94h2v4h-2zM844 94h3v4h-3zM561 98h2v4h-2zM687 98h2v4h-2zM826 98h2v4h-2zM563 102h3v4h-3zM653 102h2v4h-2zM815 102h3v4h-3zM718 106h3v4h-3zM663 110h3v4h-3zM668 110h3v4h-3zM679 110h2v4h-2zM684 110h3v4h-3zM726 110h3v4h-3zM823 110h3v4h-3zM566 114h3v3h-3zM584 114h3v3h-3zM645 114h2v3h-2zM653 114h2v3h-2zM718 114h3v3h-3zM579 117h3v4h-3zM679 117h2v4h-2zM702 117h3v4h-3zM789 117h3v4h-3zM799 117h3v4h-3zM813 117h2v4h-2zM598 121h2v4h-2zM679 121h2v4h-2zM763 121h2v4h-2zM666 125h2v4h-2zM723 125h3v4h-3zM734 125h3v4h-3zM773 125h3v4h-3zM794 125h3v4h-3zM820 125h3v4h-3zM592 129h3v4h-3zM718 129h3v4h-3zM723 129h3v4h-3zM729 129h2v4h-2zM737 129h2v4h-2zM760 129h3v4h-3zM768 129h3v4h-3zM773 129h3v4h-3zM577 133h2v4h-2zM653 133h2v4h-2zM668 133h3v4h-3zM734 133h3v4h-3zM671 137h3v4h-3zM684 137h3v4h-3zM731 137h3v4h-3zM747 137h3v4h-3zM697 141h3v4h-3zM716 141h2v4h-2zM723 141h3v4h-3zM763 141h2v4h-2zM577 145h2v4h-2zM592 145h3v4h-3zM705 145h3v4h-3zM721 145h2v4h-2zM771 145h2v4h-2zM784 145h2v4h-2zM571 149h3v3h-3zM619 149h2v3h-2zM734 149h3v3h-3zM781 149h5v3h-5zM579 152h3v4h-3zM584 152h3v4h-3zM608 152h3v4h-3zM619 152h2v4h-2zM655 152h3v4h-3zM700 152h2v4h-2zM595 156h3v4h-3zM600 156h3v4h-3zM655 156h3v4h-3zM697 156h3v4h-3zM781 156h3v4h-3zM786 156h3v4h-3zM590 160h5v4h-5zM634 160h3v4h-3zM642 160h5v4h-5zM681 160h3v4h-3zM739 160h3v4h-3zM776 160h2v4h-2zM781 160h3v4h-3zM802 160h3v4h-3zM705 164h3v4h-3zM744 164h3v4h-3zM778 164h3v4h-3zM784 164h2v4h-2zM582 168h2v4h-2zM663 168h3v4h-3zM710 168h3v4h-3zM718 168h3v4h-3zM758 168h2v4h-2zM784 168h2v4h-2zM794 168h5v4h-5zM634 172h3v4h-3zM647 172h3v4h-3zM661 172h5v4h-5zM681 172h3v4h-3zM708 172h2v4h-2zM731 172h3v4h-3zM763 172h2v4h-2zM655 176h3v4h-3zM718 176h3v4h-3zM744 176h3v4h-3zM645 180h2v4h-2zM789 180h3v4h-3zM616 184h3v4h-3zM737 184h2v4h-2zM742 184h2v4h-2zM750 184h2v4h-2zM663 188h3v3h-3zM750 188h2v3h-2zM658 195h3v4h-3zM731 199h3v4h-3zM763 199h2v4h-2zM760 203h3v4h-3z"/>
<path fill="#cbff00" d="M600 59h3v4h-3zM629 59h3v4h-3zM624 63h2v4h-2zM653 67h2v4h-2zM689 67h3v4h-3zM592 71h3v4h-3zM705 71h3v4h-3zM632 75h2v3h-2zM655 75h3v3h-3zM571 78h3v4h-3zM692 78h3v4h-3zM700 78h2v4h-2zM734 78h3v4h-3zM744 78h3v4h-3zM760 78h3v4h-3zM574 82h3v4h-3zM584 82h3v4h-3zM592 82h3v4h-3zM621 82h3v4h-3zM626 82h3v4h-3zM671 82h3v4h-3zM695 82h2v4h-2zM650 86h3v4h-3zM713 86h3v4h-3zM579 90h3v4h-3zM681 90h3v4h-3zM687 94h2v4h-2zM705 94h3v4h-3zM718 94h3v4h-3zM739 94h3v4h-3zM569 98h2v4h-2zM681 98h3v4h-3zM705 98h3v4h-3zM718 98h3v4h-3zM834 98h2v4h-2zM674 102h2v4h-2zM687 102h2v4h-2zM700 102h5v4h-5zM818 102h2v4h-2zM705 106h3v4h-3zM731 106h3v4h-3zM687 110h2v4h-2zM710 110h8v4h-8zM561 114h2v3h-2zM598 114h2v3h-2zM637 114h5v3h-5zM744 114h3v3h-3zM805 114h2v3h-2zM616 117h3v4h-3zM663 117h3v4h-3zM723 117h3v4h-3zM750 117h2v4h-2zM792 117h2v4h-2zM810 117h3v4h-3zM647 121h3v4h-3zM700 121h2v4h-2zM729 121h2v4h-2zM558 125h3v4h-3zM569 125h2v4h-2zM566 129h3v4h-3zM752 133h3v4h-3zM773 133h3v4h-3zM563 137h3v4h-3zM681 137h3v4h-3zM692 137h3v4h-3zM726 137h3v4h-3zM750 137h2v4h-2zM797 137h2v4h-2zM600 141h3v4h-3zM702 141h3v4h-3zM750 141h2v4h-2zM771 141h2v4h-2zM668 145h3v4h-3zM679 145h2v4h-2zM758 145h2v4h-2zM802 145h3v4h-3zM603 149h2v3h-2zM700 149h2v3h-2zM742 149h2v3h-2zM747 149h5v3h-5zM758 149h2v3h-2zM771 149h2v3h-2zM674 152h2v4h-2zM702 152h3v4h-3zM778 152h3v4h-3zM802 152h3v4h-3zM592 156h3v4h-3zM624 156h2v4h-2zM634 156h3v4h-3zM671 156h3v4h-3zM726 156h3v4h-3zM731 156h3v4h-3zM742 156h5v4h-5zM776 156h2v4h-2zM579 160h3v4h-3zM598 160h2v4h-2zM671 160h3v4h-3zM700 160h2v4h-2zM729 160h2v4h-2zM737 160h2v4h-2zM747 160h3v4h-3zM758 160h2v4h-2zM621 164h5v4h-5zM632 164h2v4h-2zM674 164h2v4h-2zM713 164h3v4h-3zM734 164h3v4h-3zM758 164h2v4h-2zM792 164h2v4h-2zM805 164h2v4h-2zM661 168h2v4h-2zM687 168h2v4h-2zM700 168h2v4h-2zM792 168h2v4h-2zM653 172h2v4h-2zM700 172h2v4h-2zM710 172h3v4h-3zM742 172h2v4h-2zM773 176h3v4h-3zM778 176h3v4h-3zM792 176h2v4h-2zM671 180h3v4h-3zM700 180h2v4h-2zM726 180h3v4h-3zM737 180h2v4h-2zM765 180h3v4h-3zM640 184h2v4h-2zM647 184h3v4h-3zM676 184h3v4h-3zM718 184h3v4h-3zM726 184h3v4h-3zM653 188h2v3h-2zM666 188h2v3h-2zM695 191h2v4h-2zM718 191h3v4h-3zM739 191h5v4h-5zM758 191h2v4h-2zM763 191h2v4h-2zM781 191h3v4h-3zM663 199h3v4h-3zM721 199h2v4h-2zM765 199h3v4h-3zM768 203h3v4h-3zM786 234h3v4h-3z"/>
<path fill="#e5ff00" d="M624 59h2v4h-2zM647 59h3v4h-3zM645 63h2v4h-2zM671 63h3v4h-3zM595 67h3v4h-3zM640 71h2v4h-2zM695 71h2v4h-2zM629 75h3v3h-3zM661 75h2v3h-2zM666 78h2v4h-2zM747 86h3v4h-3zM655 90h3v4h-3zM671 90h3v4h-3zM668 94h3v4h-3zM674 98h2v4h-2zM697 98h3v4h-3zM624 102h2v4h-2zM684 102h3v4h-3zM716 102h2v4h-2zM744 102h3v4h-3zM721 106h2v4h-2zM734 106h3v4h-3zM574 110h3v4h-3zM731 110h6v4h-6zM742 110h5v4h-5zM629 114h3v3h-3zM689 114h3v3h-3zM716 114h2v3h-2zM747 114h3v3h-3zM571 117h3v4h-3zM752 117h3v4h-3zM763 117h2v4h-2zM658 125h3v4h-3zM716 125h2v4h-2zM737 125h2v4h-2zM763 125h2v4h-2zM776 125h2v4h-2zM810 125h3v4h-3zM608 129h3v4h-3zM668 129h3v4h-3zM744 129h3v4h-3zM752 129h3v4h-3zM700 133h2v4h-2zM716 133h2v4h-2zM747 133h3v4h-3zM776 133h2v4h-2zM653 137h2v4h-2zM663 137h3v4h-3zM668 137h3v4h-3zM689 137h3v4h-3zM702 137h3v4h-3zM708 137h5v4h-5zM723 137h3v4h-3zM598 141h2v4h-2zM621 141h3v4h-3zM647 141h3v4h-3zM671 141h3v4h-3zM681 141h3v4h-3zM695 141h2v4h-2zM758 141h2v4h-2zM571 145h3v4h-3zM700 145h2v4h-2zM768 145h3v4h-3zM569 149h2v3h-2zM592 149h3v3h-3zM668 149h3v3h-3zM687 149h2v3h-2zM708 149h2v3h-2zM723 149h3v3h-3zM737 149h2v3h-2zM752 149h3v3h-3zM600 152h3v4h-3zM687 152h2v4h-2zM731 152h3v4h-3zM760 152h3v4h-3zM587 156h3v4h-3zM668 156h3v4h-3zM674 156h2v4h-2zM689 156h3v4h-3zM737 156h2v4h-2zM752 156h3v4h-3zM792 156h2v4h-2zM810 156h3v4h-3zM676 160h5v4h-5zM710 160h3v4h-3zM726 160h3v4h-3zM789 160h3v4h-3zM590 164h2v4h-2zM598 164h2v4h-2zM666 164h2v4h-2zM718 164h3v4h-3zM747 164h3v4h-3zM760 164h3v4h-3zM713 168h3v4h-3zM729 168h2v4h-2zM737 168h5v4h-5zM752 168h3v4h-3zM760 168h3v4h-3zM747 172h3v4h-3zM776 172h2v4h-2zM650 176h3v4h-3zM679 176h5v4h-5zM726 176h3v4h-3zM768 176h5v4h-5zM794 176h3v4h-3zM640 180h2v4h-2zM676 180h3v4h-3zM695 180h2v4h-2zM781 180h5v4h-5zM655 184h3v4h-3zM684 184h3v4h-3zM731 184h3v4h-3zM765 184h3v4h-3zM773 184h3v4h-3zM642 188h3v3h-3zM658 188h5v3h-5zM702 188h3v3h-3zM729 191h2v4h-2zM755 191h3v4h-3zM674 199h2v4h-2zM705 199h3v4h-3zM726 199h3v4h-3zM742 199h2v4h-2zM771 203h2v4h-2zM784 223h2v4h-2zM781 230h3v4h-3zM786 230h3v4h-3zM784 238h8v4h-8z"/>
<path fill="#ffff00" d="M645 59h2v4h-2zM679 63h2v4h-2zM655 67h3v4h-3zM668 67h3v4h-3zM695 67h2v4h-2zM705 67h3v4h-3zM692 71h3v4h-3zM661 78h2v4h-2zM689 78h3v4h-3zM697 78h3v4h-3zM700 82h2v4h-2zM584 86h3v4h-3zM710 86h3v4h-3zM692 90h3v4h-3zM713 90h3v4h-3zM708 94h2v4h-2zM831 94h3v4h-3zM695 98h2v4h-2zM629 102h3v4h-3zM647 102h3v4h-3zM666 102h2v4h-2zM679 102h2v4h-2zM799 102h3v4h-3zM661 106h2v4h-2zM666 106h2v4h-2zM716 106h2v4h-2zM577 110h2v4h-2zM747 110h3v4h-3zM561 117h2v4h-2zM566 117h3v4h-3zM668 117h3v4h-3zM687 117h2v4h-2zM718 117h5v4h-5zM747 117h3v4h-3zM671 121h5v4h-5zM723 121h3v4h-3zM747 121h5v4h-5zM776 121h2v4h-2zM566 125h3v4h-3zM663 125h3v4h-3zM676 125h5v4h-5zM739 125h3v4h-3zM666 129h2v4h-2zM671 129h3v4h-3zM697 129h3v4h-3zM705 129h3v4h-3zM702 133h3v4h-3zM718 133h3v4h-3zM716 137h2v4h-2zM776 137h2v4h-2zM661 141h2v4h-2zM692 141h3v4h-3zM786 141h3v4h-3zM569 145h2v4h-2zM574 145h3v4h-3zM655 145h3v4h-3zM726 145h3v4h-3zM747 145h3v4h-3zM773 145h3v4h-3zM571 152h3v4h-3zM590 152h2v4h-2zM613 152h3v4h-3zM671 152h3v4h-3zM676 152h3v4h-3zM763 152h2v4h-2zM807 152h3v4h-3zM611 156h5v4h-5zM716 156h2v4h-2zM750 156h2v4h-2zM574 160h3v4h-3zM621 160h3v4h-3zM684 160h3v4h-3zM695 160h5v4h-5zM702 160h3v4h-3zM752 160h3v4h-3zM577 164h5v4h-5zM650 164h3v4h-3zM679 164h2v4h-2zM689 164h3v4h-3zM695 164h2v4h-2zM710 164h3v4h-3zM721 164h2v4h-2zM742 164h2v4h-2zM634 168h3v4h-3zM658 168h3v4h-3zM676 168h3v4h-3zM763 168h2v4h-2zM771 168h2v4h-2zM781 168h3v4h-3zM666 172h2v4h-2zM702 172h3v4h-3zM640 176h2v4h-2zM661 176h2v4h-2zM671 176h3v4h-3zM692 176h3v4h-3zM763 176h2v4h-2zM647 180h3v4h-3zM663 180h3v4h-3zM758 180h2v4h-2zM600 184h3v4h-3zM645 184h2v4h-2zM661 184h2v4h-2zM739 184h3v4h-3zM784 184h2v4h-2zM789 184h3v4h-3zM676 191h3v4h-3zM737 191h2v4h-2zM750 191h2v4h-2zM771 191h2v4h-2zM776 191h2v4h-2zM768 195h3v4h-3zM781 195h3v4h-3zM760 199h3v4h-3zM676 203h3v4h-3zM773 203h3v4h-3zM778 203h6v4h-6zM737 207h2v4h-2zM695 211h2v4h-2zM781 211h3v4h-3zM778 219h3v4h-3zM789 230h3v4h-3z"/>
<path fill="#fff300" d="M692 59h3v4h-3zM647 63h3v4h-3zM668 63h3v4h-3zM705 63h3v4h-3zM653 71h2v4h-2zM708 71h2v4h-2zM666 75h5v3h-5zM621 78h3v4h-3zM655 82h3v4h-3zM684 82h3v4h-3zM661 86h2v4h-2zM705 86h3v4h-3zM687 90h2v4h-2zM716 90h2v4h-2zM684 94h3v4h-3zM710 98h3v4h-3zM705 102h3v4h-3zM561 106h2v4h-2zM687 106h2v4h-2zM702 106h3v4h-3zM676 110h3v4h-3zM697 110h3v4h-3zM768 110h3v4h-3zM692 114h3v3h-3zM705 114h3v3h-3zM681 117h6v4h-6zM729 117h2v4h-2zM739 117h3v4h-3zM561 121h2v4h-2zM731 121h3v4h-3zM752 121h3v4h-3zM768 121h3v4h-3zM773 121h3v4h-3zM592 125h3v4h-3zM681 125h3v4h-3zM708 125h2v4h-2zM729 125h2v4h-2zM584 129h3v4h-3zM684 129h3v4h-3zM689 129h3v4h-3zM747 129h3v4h-3zM797 129h2v4h-2zM687 133h2v4h-2zM687 137h2v4h-2zM684 141h3v4h-3zM718 141h3v4h-3zM726 141h3v4h-3zM773 141h3v4h-3zM789 141h3v4h-3zM671 145h3v4h-3zM692 145h3v4h-3zM600 149h3v3h-3zM674 149h2v3h-2zM731 149h3v3h-3zM689 152h6v4h-6zM726 152h3v4h-3zM577 156h2v4h-2zM616 156h3v4h-3zM653 156h2v4h-2zM681 156h3v4h-3zM700 156h2v4h-2zM705 156h5v4h-5zM747 156h3v4h-3zM595 160h3v4h-3zM616 160h3v4h-3zM663 160h8v4h-8zM689 160h3v4h-3zM713 160h3v4h-3zM692 164h3v4h-3zM700 164h2v4h-2zM716 164h2v4h-2zM626 168h6v4h-6zM697 168h3v4h-3zM721 168h2v4h-2zM626 172h3v4h-3zM687 172h5v4h-5zM697 172h3v4h-3zM781 172h3v4h-3zM613 176h3v4h-3zM695 176h2v4h-2zM734 176h3v4h-3zM742 176h2v4h-2zM747 176h3v4h-3zM781 176h3v4h-3zM653 180h2v4h-2zM710 180h3v4h-3zM723 180h3v4h-3zM739 180h3v4h-3zM747 180h3v4h-3zM760 180h3v4h-3zM658 184h3v4h-3zM702 184h3v4h-3zM718 188h3v3h-3zM723 188h3v3h-3zM752 188h3v3h-3zM763 188h2v3h-2zM744 191h3v4h-3zM655 195h3v4h-3zM721 195h2v4h-2zM734 195h3v4h-3zM776 195h2v4h-2zM681 199h3v4h-3zM739 199h3v4h-3zM750 199h5v4h-5zM768 199h3v4h-3zM773 199h3v4h-3zM671 203h3v4h-3zM731 203h3v4h-3zM739 203h3v4h-3zM763 203h2v4h-2zM671 207h3v4h-3zM731 207h3v4h-3zM739 207h3v4h-3zM773 207h5v4h-5zM781 207h3v4h-3zM708 211h2v4h-2zM778 211h3v4h-3zM700 215h2v4h-2zM781 215h3v4h-3zM689 219h3v4h-3zM781 223h3v4h-3z"/>
<path fill="#ffe800" d="M655 59h3v4h-3zM584 75h3v3h-3zM676 75h3v3h-3zM563 78h3v4h-3zM650 78h3v4h-3zM750 82h2v4h-2zM590 86h2v4h-2zM671 86h3v4h-3zM569 90h2v4h-2zM679 90h2v4h-2zM721 90h2v4h-2zM692 94h5v4h-5zM700 94h2v4h-2zM710 94h3v4h-3zM684 98h3v4h-3zM708 102h2v4h-2zM668 106h3v4h-3zM697 106h3v4h-3zM708 106h5v4h-5zM729 110h2v4h-2zM687 114h2v3h-2zM723 114h3v3h-3zM742 117h2v4h-2zM771 117h2v4h-2zM569 121h2v4h-2zM687 121h2v4h-2zM702 121h3v4h-3zM807 121h3v4h-3zM668 125h3v4h-3zM721 125h2v4h-2zM794 129h3v4h-3zM679 133h2v4h-2zM689 133h3v4h-3zM676 137h5v4h-5zM663 141h5v4h-5zM598 145h2v4h-2zM598 149h2v3h-2zM692 149h3v3h-3zM739 152h3v4h-3zM603 156h2v4h-2zM619 156h5v4h-5zM687 156h2v4h-2zM695 156h2v4h-2zM713 156h3v4h-3zM721 156h2v4h-2zM760 156h3v4h-3zM647 160h3v4h-3zM661 160h2v4h-2zM718 160h5v4h-5zM792 160h5v4h-5zM595 164h3v4h-3zM603 164h2v4h-2zM634 164h3v4h-3zM671 164h3v4h-3zM684 164h3v4h-3zM702 164h3v4h-3zM616 168h5v4h-5zM666 168h5v4h-5zM681 168h3v4h-3zM692 168h5v4h-5zM750 168h2v4h-2zM676 172h3v4h-3zM692 172h3v4h-3zM723 172h3v4h-3zM755 172h3v4h-3zM765 172h3v4h-3zM603 176h2v4h-2zM626 176h3v4h-3zM663 176h5v4h-5zM731 176h3v4h-3zM739 176h3v4h-3zM750 176h2v4h-2zM765 176h3v4h-3zM687 180h2v4h-2zM721 180h2v4h-2zM742 180h2v4h-2zM752 180h6v4h-6zM786 180h3v4h-3zM621 184h3v4h-3zM653 184h2v4h-2zM687 184h2v4h-2zM705 184h3v4h-3zM716 184h2v4h-2zM781 184h3v4h-3zM650 188h3v3h-3zM674 188h2v3h-2zM768 188h3v3h-3zM786 188h3v3h-3zM653 191h2v4h-2zM658 191h3v4h-3zM692 191h3v4h-3zM700 195h2v4h-2zM726 195h5v4h-5zM760 195h3v4h-3zM778 195h3v4h-3zM708 199h2v4h-2zM747 199h3v4h-3zM778 199h3v4h-3zM776 203h2v4h-2zM668 207h3v4h-3zM710 211h3v4h-3zM778 223h3v4h-3zM784 227h2v3h-2zM789 234h3v4h-3z"/>
<path fill="#ffdd00" d="M650 59h3v4h-3zM558 63h3v4h-3zM650 71h3v4h-3zM695 75h2v3h-2zM658 82h3v4h-3zM674 82h2v4h-2zM697 86h3v4h-3zM702 86h3v4h-3zM671 94h3v4h-3zM676 94h5v4h-5zM716 94h2v4h-2zM710 102h3v4h-3zM684 106h3v4h-3zM697 117h3v4h-3zM710 133h3v4h-3zM674 137h2v4h-2zM569 141h2v4h-2zM679 141h2v4h-2zM687 141h2v4h-2zM710 145h3v4h-3zM582 149h2v3h-2zM671 149h3v3h-3zM679 149h2v3h-2zM710 156h3v4h-3zM755 156h3v4h-3zM797 156h2v4h-2zM802 156h3v4h-3zM584 160h3v4h-3zM600 160h3v4h-3zM608 160h3v4h-3zM655 160h3v4h-3zM692 160h3v4h-3zM807 160h3v4h-3zM592 164h3v4h-3zM626 164h3v4h-3zM668 164h3v4h-3zM676 164h3v4h-3zM739 164h3v4h-3zM768 164h3v4h-3zM789 164h3v4h-3zM603 168h2v4h-2zM632 168h2v4h-2zM642 168h3v4h-3zM684 168h3v4h-3zM723 168h3v4h-3zM629 172h3v4h-3zM645 172h2v4h-2zM650 172h3v4h-3zM668 172h3v4h-3zM721 172h2v4h-2zM729 172h2v4h-2zM744 172h3v4h-3zM750 172h2v4h-2zM778 172h3v4h-3zM598 176h2v4h-2zM629 176h3v4h-3zM684 176h3v4h-3zM755 176h3v4h-3zM621 180h3v4h-3zM626 180h3v4h-3zM658 180h3v4h-3zM684 180h3v4h-3zM702 180h3v4h-3zM629 184h3v4h-3zM642 184h3v4h-3zM697 184h5v4h-5zM763 184h2v4h-2zM776 184h2v4h-2zM640 188h2v3h-2zM726 188h3v3h-3zM760 188h3v3h-3zM778 188h3v3h-3zM634 191h3v4h-3zM663 191h3v4h-3zM671 191h3v4h-3zM679 191h2v4h-2zM723 191h3v4h-3zM674 195h2v4h-2zM679 195h2v4h-2zM723 195h3v4h-3zM744 195h3v4h-3zM758 195h2v4h-2zM765 195h3v4h-3zM700 199h2v4h-2zM734 199h5v4h-5zM679 203h2v4h-2zM723 203h3v4h-3zM705 207h3v4h-3zM723 207h3v4h-3zM776 211h2v4h-2zM784 215h2v4h-2zM687 219h2v4h-2zM778 227h3v3h-3zM784 230h2v4h-2zM784 234h2v4h-2z"/>
<path fill="#ffd200" d="M632 59h2v4h-2zM640 63h2v4h-2zM647 75h3v3h-3zM582 78h2v4h-2zM653 82h2v4h-2zM697 82h3v4h-3zM689 94h3v4h-3zM716 98h2v4h-2zM681 106h3v4h-3zM723 106h3v4h-3zM692 110h3v4h-3zM734 114h3v3h-3zM666 117h2v4h-2zM663 121h3v4h-3zM697 121h3v4h-3zM726 121h3v4h-3zM742 129h2v4h-2zM726 133h3v4h-3zM676 141h3v4h-3zM705 141h3v4h-3zM676 145h3v4h-3zM702 145h3v4h-3zM708 145h2v4h-2zM765 145h3v4h-3zM666 149h2v3h-2zM689 149h3v3h-3zM587 152h3v4h-3zM697 152h3v4h-3zM582 156h2v4h-2zM729 156h2v4h-2zM771 156h2v4h-2zM611 160h2v4h-2zM674 160h2v4h-2zM705 160h3v4h-3zM805 160h2v4h-2zM697 164h3v4h-3zM752 164h3v4h-3zM786 164h3v4h-3zM794 164h3v4h-3zM579 168h3v4h-3zM584 168h3v4h-3zM590 168h2v4h-2zM624 168h2v4h-2zM671 168h5v4h-5zM716 168h2v4h-2zM726 168h3v4h-3zM731 168h3v4h-3zM598 172h2v4h-2zM705 172h3v4h-3zM634 176h3v4h-3zM689 176h3v4h-3zM713 176h3v4h-3zM760 176h3v4h-3zM603 180h2v4h-2zM632 180h5v4h-5zM692 180h3v4h-3zM734 180h3v4h-3zM750 180h2v4h-2zM721 184h5v4h-5zM626 188h3v3h-3zM700 188h2v3h-2zM765 188h3v3h-3zM773 188h3v3h-3zM655 191h3v4h-3zM674 191h2v4h-2zM702 191h3v4h-3zM713 191h3v4h-3zM731 191h6v4h-6zM773 191h3v4h-3zM697 195h3v4h-3zM747 195h3v4h-3zM773 195h3v4h-3zM692 199h5v4h-5zM713 199h8v4h-8zM734 203h3v4h-3zM666 207h2v4h-2zM697 207h3v4h-3zM778 207h3v4h-3zM737 211h2v4h-2zM692 215h3v4h-3zM784 219h5v4h-5zM695 223h2v4h-2zM781 227h3v3h-3zM789 227h3v3h-3zM781 234h3v4h-3z"/>
<path fill="#ffc700" d="M705 82h3v4h-3zM692 102h3v4h-3zM713 106h3v4h-3zM681 110h3v4h-3zM697 114h3v3h-3zM744 117h3v4h-3zM579 121h3v4h-3zM681 121h3v4h-3zM792 125h2v4h-2zM726 129h3v4h-3zM705 133h3v4h-3zM681 145h3v4h-3zM687 145h2v4h-2zM713 145h3v4h-3zM613 149h3v3h-3zM603 152h2v4h-2zM679 152h2v4h-2zM721 152h2v4h-2zM729 152h2v4h-2zM734 152h3v4h-3zM605 156h3v4h-3zM676 156h3v4h-3zM582 160h2v4h-2zM584 164h3v4h-3zM595 168h5v4h-5zM650 168h5v4h-5zM786 168h3v4h-3zM584 172h6v4h-6zM632 172h2v4h-2zM671 172h3v4h-3zM679 172h2v4h-2zM737 172h2v4h-2zM758 172h2v4h-2zM619 176h2v4h-2zM716 176h2v4h-2zM721 176h2v4h-2zM758 176h2v4h-2zM776 176h2v4h-2zM784 176h2v4h-2zM637 180h3v4h-3zM642 180h3v4h-3zM650 180h3v4h-3zM668 180h3v4h-3zM771 180h2v4h-2zM619 184h2v4h-2zM624 184h2v4h-2zM671 184h3v4h-3zM747 184h3v4h-3zM758 184h2v4h-2zM778 184h3v4h-3zM632 188h2v3h-2zM689 188h3v3h-3zM742 188h2v3h-2zM781 188h5v3h-5zM661 191h2v4h-2zM710 191h3v4h-3zM778 191h3v4h-3zM784 191h2v4h-2zM671 195h3v4h-3zM681 195h3v4h-3zM755 195h3v4h-3zM710 199h3v4h-3zM723 199h3v4h-3zM755 199h3v4h-3zM781 199h3v4h-3zM666 203h5v4h-5zM708 203h2v4h-2zM713 203h3v4h-3zM729 203h2v4h-2zM765 203h3v4h-3zM716 207h2v4h-2zM705 215h3v4h-3z"/>
<path fill="#ffbc00" d="M655 63h3v4h-3zM658 71h3v4h-3zM679 75h2v3h-2zM702 82h3v4h-3zM676 102h3v4h-3zM676 106h3v4h-3zM708 110h2v4h-2zM692 117h3v4h-3zM742 125h2v4h-2zM752 125h3v4h-3zM561 129h2v4h-2zM676 129h3v4h-3zM590 141h2v4h-2zM663 145h3v4h-3zM695 145h2v4h-2zM676 149h3v3h-3zM681 149h3v3h-3zM702 149h3v3h-3zM681 152h3v4h-3zM579 156h3v4h-3zM611 164h2v4h-2zM681 164h3v4h-3zM802 168h3v4h-3zM619 172h2v4h-2zM624 172h2v4h-2zM637 172h3v4h-3zM739 172h3v4h-3zM592 176h3v4h-3zM708 176h2v4h-2zM723 176h3v4h-3zM729 176h2v4h-2zM595 180h3v4h-3zM655 180h3v4h-3zM679 180h2v4h-2zM679 184h2v4h-2zM729 184h2v4h-2zM637 188h3v3h-3zM668 188h3v3h-3zM684 191h3v4h-3zM687 195h2v4h-2zM695 195h2v4h-2zM671 199h3v4h-3zM663 203h3v4h-3zM718 203h3v4h-3zM713 207h3v4h-3zM718 207h3v4h-3zM729 207h2v4h-2zM734 207h3v4h-3zM784 207h2v4h-2zM668 211h3v4h-3zM705 211h3v4h-3zM781 219h3v4h-3z"/>
<path fill="#ffb100" d="M692 67h3v4h-3zM731 102h3v4h-3zM750 114h2v3h-2zM684 125h3v4h-3zM681 129h3v4h-3zM763 133h2v4h-2zM684 152h3v4h-3zM734 156h3v4h-3zM587 164h3v4h-3zM619 164h2v4h-2zM590 172h2v4h-2zM608 172h3v4h-3zM695 172h2v4h-2zM600 176h3v4h-3zM668 176h3v4h-3zM674 176h2v4h-2zM697 176h3v4h-3zM702 176h3v4h-3zM789 176h3v4h-3zM605 180h3v4h-3zM689 180h3v4h-3zM603 184h2v4h-2zM608 184h3v4h-3zM637 184h3v4h-3zM695 184h2v4h-2zM786 184h3v4h-3zM621 188h3v3h-3zM645 188h2v3h-2zM676 188h3v3h-3zM758 188h2v3h-2zM668 191h3v4h-3zM681 191h3v4h-3zM721 191h2v4h-2zM760 191h3v4h-3zM666 195h2v4h-2zM676 195h3v4h-3zM702 195h3v4h-3zM750 195h2v4h-2zM668 199h3v4h-3zM684 199h3v4h-3zM702 199h3v4h-3zM744 199h3v4h-3zM776 199h2v4h-2zM661 203h2v4h-2zM689 207h3v4h-3zM700 207h2v4h-2zM700 211h2v4h-2zM695 219h2v4h-2zM700 219h2v4h-2zM689 223h3v4h-3z"/>
<path fill="#ffa600" d="M792 121h2v4h-2zM744 125h3v4h-3zM710 141h3v4h-3zM587 160h3v4h-3zM613 160h3v4h-3zM731 160h3v4h-3zM616 164h3v4h-3zM737 164h2v4h-2zM799 164h3v4h-3zM587 168h3v4h-3zM592 172h3v4h-3zM600 172h3v4h-3zM674 172h2v4h-2zM716 172h2v4h-2zM621 176h3v4h-3zM681 180h3v4h-3zM605 184h3v4h-3zM632 184h2v4h-2zM663 184h3v4h-3zM689 184h3v4h-3zM624 188h2v3h-2zM687 188h2v3h-2zM705 188h3v3h-3zM713 188h3v3h-3zM637 191h3v4h-3zM700 191h2v4h-2zM668 195h3v4h-3zM713 195h3v4h-3zM739 195h3v4h-3zM666 199h2v4h-2zM771 199h2v4h-2zM674 203h2v4h-2zM687 203h2v4h-2zM692 203h3v4h-3zM705 203h3v4h-3zM710 203h3v4h-3zM679 207h5v4h-5zM692 207h5v4h-5zM784 211h2v4h-2zM697 230h3v4h-3z"/>
<path fill="#ff9b00" d="M695 102h2v4h-2zM726 117h3v4h-3zM755 117h3v4h-3zM613 164h3v4h-3zM784 172h2v4h-2zM624 176h2v4h-2zM676 176h3v4h-3zM624 180h2v4h-2zM768 180h3v4h-3zM634 184h3v4h-3zM734 184h3v4h-3zM629 188h3v3h-3zM684 188h3v3h-3zM697 188h3v3h-3zM621 191h8v4h-8zM666 191h2v4h-2zM708 191h2v4h-2zM747 191h3v4h-3zM705 195h3v4h-3zM710 195h3v4h-3zM718 195h3v4h-3zM771 195h2v4h-2zM679 199h2v4h-2zM687 199h2v4h-2zM697 199h3v4h-3zM702 203h3v4h-3zM716 203h2v4h-2zM663 207h3v4h-3zM708 207h2v4h-2zM702 215h3v4h-3z"/>
<path fill="#ff9000" d="M676 98h3v4h-3zM666 110h2v4h-2zM603 160h2v4h-2zM726 164h3v4h-3zM605 168h3v4h-3zM621 168h3v4h-3zM595 172h3v4h-3zM621 172h3v4h-3zM734 172h3v4h-3zM645 176h2v4h-2zM700 176h2v4h-2zM737 176h2v4h-2zM661 180h2v4h-2zM705 180h3v4h-3zM668 184h3v4h-3zM674 184h2v4h-2zM616 188h3v3h-3zM681 188h3v3h-3zM726 191h3v4h-3zM708 195h2v4h-2zM742 195h2v4h-2zM681 203h3v4h-3zM689 203h3v4h-3zM697 203h3v4h-3zM726 203h3v4h-3zM684 207h3v4h-3zM684 211h3v4h-3zM684 215h3v4h-3zM692 219h3v4h-3zM692 223h3v4h-3zM695 227h2v3h-2zM695 230h2v4h-2z"/>
<path fill="#ff8500" d="M605 160h3v4h-3zM611 176h2v4h-2zM616 176h3v4h-3zM626 184h3v4h-3zM708 184h2v4h-2zM671 188h3v3h-3zM721 188h2v3h-2zM640 191h2v4h-2zM687 191h2v4h-2zM716 191h2v4h-2zM684 195h3v4h-3zM689 195h3v4h-3zM676 199h3v4h-3zM721 203h2v4h-2zM710 207h3v4h-3zM726 207h3v4h-3zM666 211h2v4h-2zM689 211h3v4h-3zM697 215h3v4h-3z"/>
<path fill="#ff7a00" d="M684 133h3v4h-3zM608 164h3v4h-3zM613 168h3v4h-3zM611 172h2v4h-2zM658 172h3v4h-3zM708 180h2v4h-2zM713 180h3v4h-3zM613 184h3v4h-3zM666 184h2v4h-2zM692 184h3v4h-3zM708 188h5v3h-5zM687 211h2v4h-2z"/>
<path fill="#ff6f00" d="M616 172h3v4h-3zM637 176h3v4h-3zM616 180h3v4h-3zM629 180h3v4h-3zM710 184h3v4h-3zM632 191h2v4h-2zM705 191h3v4h-3zM716 195h2v4h-2zM687 207h2v4h-2zM681 211h3v4h-3z"/>
<path fill="#ff6400" d="M605 164h3v4h-3zM605 176h3v4h-3zM598 180h2v4h-2zM608 180h3v4h-3zM613 180h3v4h-3zM629 191h3v4h-3zM731 195h3v4h-3zM695 215h2v4h-2zM697 223h3v4h-3zM697 227h3v3h-3z"/>
<path fill="#ff5900" d="M684 156h3v4h-3zM608 168h3v4h-3zM603 172h2v4h-2zM613 172h3v4h-3zM595 176h3v4h-3zM600 180h3v4h-3zM598 184h2v4h-2zM692 188h3v3h-3zM700 203h2v4h-2zM702 211h3v4h-3zM697 234h3v4h-3z"/>
<path fill="#ff4d00" d="M619 180h2v4h-2zM695 188h2v3h-2zM689 199h3v4h-3zM684 203h3v4h-3zM692 211h3v4h-3zM687 215h2v4h-2z"/>
<path fill="#ff4200" d="M600 164h3v4h-3zM611 168h2v4h-2zM608 176h3v4h-3zM632 176h2v4h-2zM611 180h2v4h-2zM681 184h3v4h-3zM663 195h3v4h-3zM692 195h3v4h-3zM697 211h3v4h-3z"/>
<path fill="#ff3700" d="M605 172h3v4h-3zM679 188h2v3h-2zM692 227h3v3h-3zM695 234h2v4h-2z"/>
<path fill="#ff2c00" d="M613 188h3v3h-3zM619 188h2v3h-2zM689 215h3v4h-3z"/>
<path fill="#ff2100" d="M697 219h3v4h-3z"/>
</g>
<g>
<rect x="542.5" y="52.5" width="334" height="201" fill="none" stroke="#000" stroke-width="1"/>
<path d="M545.5 253v5M551.5 253v5M556.5 253v5M561.5 253v5M566.5 253v5M571.5 253v5M577.5 253v5M582.5 253v10M587.5 253v5M592.5 253v5M598.5 253v5M603.5 253v5M608.5 253v5M613.5 253v5M618.5 253v5M624.5 253v5M629.5 253v5M634.5 253v10M639.5 253v5M645.5 253v5M650.5 253v5M655.5 253v5M660.5 253v5M665.5 253v5M671.5 253v5M676.5 253v5M681.5 253v5M686.5 253v10M692.5 253v5M697.5 253v5M702.5 253v5M707.5 253v5M712.5 253v5M718.5 253v5M723.5 253v5M728.5 253v5M733.5 253v5M739.5 253v10M744.5 253v5M749.5 253v5M754.5 253v5M759.5 253v5M765.5 253v5M770.5 253v5M775.5 253v5M780.5 253v5M786.5 253v5M791.5 253v10M796.5 253v5M801.5 253v5M806.5 253v5M812.5 253v5M817.5 253v5M822.5 253v5M827.5 253v5M833.5 253v5M838.5 253v5M843.5 253v10M848.5 253v5M853.5 253v5M859.5 253v5M864.5 253v5M869.5 253v5M874.5 253v5M542 245.5h-9M542 237.5h-4M542 230.5h-4M542 222.5h-4M542 214.5h-4M542 206.5h-9M542 199.5h-4M542 191.5h-4M542 183.5h-4M542 175.5h-4M542 168.5h-9M542 160.5h-4M542 152.5h-4M542 144.5h-4M542 137.5h-4M542 129.5h-9M542 121.5h-4M542 113.5h-4M542 106.5h-4M542 98.5h-4M542 90.5h-9M542 82.5h-4M542 75.5h-4M542 67.5h-4M542 59.5h-4M902.5 52V254M903 251.5h4M903 247.5h4M903 243.5h4M903 238.5h4M903 234.5h4M903 230.5h4M903 225.5h4M903 221.5h4M903 217.5h9M903 212.5h4M903 208.5h4M903 204.5h4M903 199.5h4M903 195.5h4M903 191.5h4M903 186.5h4M903 182.5h4M903 178.5h4M903 173.5h9M903 169.5h4M903 165.5h4M903 160.5h4M903 156.5h4M903 152.5h4M903 147.5h4M903 143.5h4M903 139.5h4M903 134.5h4M903 130.5h9M903 126.5h4M903 121.5h4M903 117.5h4M903 113.5h4M903 108.5h4M903 104.5h4M903 100.5h4M903 95.5h4M903 91.5h4M903 87.5h9M903 82.5h4M903 78.5h4M903 74.5h4M903 69.5h4M903 65.5h4M903 61.5h4M903 56.5h4M903 52.5h4" stroke="#000" stroke-width="1" fill="none"/>
<rect x="889" y="52" width="13" height="202" fill="url(#cb)"/>
<text x="582.4" y="279" text-anchor="middle">-120</text>
<text x="634.6" y="279" text-anchor="middle">-110</text>
<text x="686.8" y="279" text-anchor="middle">-100</text>
<text x="739.1" y="279" text-anchor="middle">-90</text>
<text x="791.3" y="279" text-anchor="middle">-80</text>
<text x="843.5" y="279" text-anchor="middle">-70</text>
<text x="528.5" y="250.0" text-anchor="end">25</text>
<text x="528.5" y="211.2" text-anchor="end">30</text>
<text x="528.5" y="172.5" text-anchor="end">35</text>
<text x="528.5" y="133.8" text-anchor="end">40</text>
<text x="528.5" y="95.0" text-anchor="end">45</text>
<text x="915.5" y="221.8">0</text>
<text x="915.5" y="178.5">10</text>
<text x="915.5" y="135.1">20</text>
<text x="915.5" y="91.8">30</text>
<text x="709" y="42" text-anchor="middle">TMAX[100]</text>
</g>
<g shape-rendering="crispEdges">
<path fill="#0000d3" d="M102 312h3v4h-3zM110 312h8v4h-8zM128 312h3v4h-3zM134 312h7v4h-7zM147 312h2v4h-2zM118 316h5v4h-5zM131 316h21v4h-21zM257 316h8v4h-8zM94 320h8v4h-8zM107 320h3v4h-3zM134 320h7v4h-7zM147 320h5v4h-5zM246 320h3v4h-3zM252 320h18v4h-18zM273 320h2v4h-2zM97 324h16v4h-16zM136 324h21v4h-21zM181 324h2v4h-2zM246 324h3v4h-3zM254 324h3v4h-3zM262 324h3v4h-3zM97 328h2v4h-2zM102 328h13v4h-13zM123 328h3v4h-3zM128 328h8v4h-8zM139 328h8v4h-8zM152 328h10v4h-10zM176 328h2v4h-2zM181 328h5v4h-5zM246 328h3v4h-3zM252 328h13v4h-13zM267 328h3v4h-3zM275 328h13v4h-13zM299 328h2v4h-2zM383 328h5v4h-5zM97 332h2v4h-2zM102 332h5v4h-5zM110 332h5v4h-5zM131 332h13v4h-13zM155 332h2v4h-2zM168 332h5v4h-5zM178 332h3v4h-3zM186 332h8v4h-8zM202 332h2v4h-2zM246 332h13v4h-13zM265 332h10v4h-10zM280 332h8v4h-8zM299 332h5v4h-5zM383 332h8v4h-8zM105 336h5v3h-5zM128 336h6v3h-6zM139 336h8v3h-8zM152 336h3v3h-3zM178 336h3v3h-3zM199 336h5v3h-5zM249 336h5v3h-5zM257 336h16v3h-16zM278 336h8v3h-8zM301 336h3v3h-3zM377 336h16v3h-16zM97 339h13v4h-13zM141 339h3v4h-3zM149 339h3v4h-3zM165 339h3v4h-3zM170 339h3v4h-3zM178 339h3v4h-3zM199 339h8v4h-8zM262 339h8v4h-8zM278 339h5v4h-5zM299 339h10v4h-10zM377 339h16v4h-16zM97 343h8v4h-8zM118 343h5v4h-5zM162 343h3v4h-3zM199 343h5v4h-5zM265 343h2v4h-2zM296 343h13v4h-13zM351 343h11v4h-11zM364 343h11v4h-11zM377 343h19v4h-19zM102 347h3v4h-3zM139 347h2v4h-2zM144 347h3v4h-3zM162 347h6v4h-6zM183 347h3v4h-3zM273 347h5v4h-5zM283 347h3v4h-3zM296 347h8v4h-8zM354 347h21v4h-21zM383 347h2v4h-2zM107 351h6v4h-6zM162 351h6v4h-6zM197 351h2v4h-2zM273 351h5v4h-5zM294 351h10v4h-10zM309 351h5v4h-5zM354 351h13v4h-13zM370 351h5v4h-5zM99 355h11v4h-11zM162 355h6v4h-6zM173 355h3v4h-3zM294 355h13v4h-13zM333 355h8v4h-8zM343 355h8v4h-8zM362 355h5v4h-5zM370 355h5v4h-5zM97 359h5v4h-5zM141 359h3v4h-3zM149 359h3v4h-3zM160 359h5v4h-5zM296 359h18v4h-18zM333 359h18v4h-18zM362 359h13v4h-13zM97 363h5v4h-5zM189 363h2v4h-2zM294 363h10v4h-10zM307 363h5v4h-5zM330 363h8v4h-8zM346 363h29v4h-29zM97 367h13v4h-13zM128 367h3v4h-3zM157 367h3v4h-3zM191 367h6v4h-6zM294 367h10v4h-10zM322 367h19v4h-19zM351 367h26v4h-26zM97 371h5v4h-5zM105 371h5v4h-5zM160 371h2v4h-2zM178 371h3v4h-3zM191 371h8v4h-8zM294 371h23v4h-23zM325 371h21v4h-21zM354 371h10v4h-10zM97 375h8v4h-8zM110 375h3v4h-3zM134 375h2v4h-2zM149 375h3v4h-3zM186 375h3v4h-3zM194 375h3v4h-3zM299 375h23v4h-23zM328 375h23v4h-23zM359 375h3v4h-3zM94 379h5v3h-5zM118 379h2v3h-2zM160 379h2v3h-2zM183 379h3v3h-3zM191 379h8v3h-8zM294 379h10v3h-10zM314 379h32v3h-32zM97 382h2v4h-2zM113 382h2v4h-2zM118 382h5v4h-5zM168 382h2v4h-2zM186 382h8v4h-8zM288 382h16v4h-16zM314 382h29v4h-29zM351 382h8v4h-8zM97 386h5v4h-5zM110 386h10v4h-10zM178 386h3v4h-3zM183 386h3v4h-3zM294 386h13v4h-13zM312 386h21v4h-21zM343 386h8v4h-8zM354 386h2v4h-2zM110 390h13v4h-13zM136 390h3v4h-3zM168 390h2v4h-2zM183 390h3v4h-3zM294 390h5v4h-5zM312 390h21v4h-21zM341 390h5v4h-5zM349 390h5v4h-5zM110 394h16v4h-16zM139 394h2v4h-2zM162 394h3v4h-3zM294 394h2v4h-2zM312 394h21v4h-21zM338 394h8v4h-8zM349 394h5v4h-5zM105 398h13v4h-13zM165 398h3v4h-3zM178 398h3v4h-3zM197 398h2v4h-2zM265 398h2v4h-2zM275 398h3v4h-3zM286 398h8v4h-8zM299 398h10v4h-10zM314 398h16v4h-16zM338 398h8v4h-8zM105 402h13v4h-13zM136 402h3v4h-3zM155 402h2v4h-2zM173 402h3v4h-3zM186 402h3v4h-3zM194 402h3v4h-3zM265 402h18v4h-18zM286 402h5v4h-5zM299 402h13v4h-13zM317 402h16v4h-16zM338 402h8v4h-8zM110 406h5v4h-5zM120 406h3v4h-3zM265 406h8v4h-8zM280 406h3v4h-3zM299 406h13v4h-13zM320 406h13v4h-13zM341 406h8v4h-8zM120 410h3v4h-3zM157 410h3v4h-3zM189 410h5v4h-5zM259 410h8v4h-8zM278 410h5v4h-5zM299 410h5v4h-5zM307 410h26v4h-26zM338 410h3v4h-3zM249 414h3v4h-3zM257 414h8v4h-8zM278 414h5v4h-5zM288 414h16v4h-16zM309 414h24v4h-24zM338 414h3v4h-3zM262 418h3v4h-3zM278 418h8v4h-8zM288 418h16v4h-16zM309 418h26v4h-26zM338 418h5v4h-5zM115 422h3v4h-3zM162 422h3v4h-3zM278 422h5v4h-5zM291 422h34v4h-34zM328 422h5v4h-5zM335 422h6v4h-6zM126 426h2v4h-2zM168 426h2v4h-2zM246 426h8v4h-8zM262 426h3v4h-3zM275 426h5v4h-5zM291 426h34v4h-34zM338 426h3v4h-3zM246 430h6v3h-6zM254 430h3v3h-3zM262 430h5v3h-5zM275 430h8v3h-8zM288 430h3v3h-3zM294 430h10v3h-10zM307 430h23v3h-23zM170 433h3v4h-3zM246 433h8v4h-8zM257 433h5v4h-5zM273 433h10v4h-10zM288 433h6v4h-6zM299 433h5v4h-5zM309 433h24v4h-24zM246 437h8v4h-8zM257 437h5v4h-5zM286 437h8v4h-8zM317 437h3v4h-3zM325 437h3v4h-3zM162 441h3v4h-3zM252 441h13v4h-13zM278 441h5v4h-5zM291 441h16v4h-16zM312 441h13v4h-13zM241 445h5v4h-5zM252 445h13v4h-13zM270 445h5v4h-5zM278 445h5v4h-5zM294 445h13v4h-13zM312 445h10v4h-10zM241 449h3v4h-3zM249 449h8v4h-8zM267 449h13v4h-13zM294 449h15v4h-15zM314 449h6v4h-6zM197 453h2v4h-2zM249 453h5v4h-5zM259 453h3v4h-3zM267 453h16v4h-16zM299 453h15v4h-15zM317 453h3v4h-3zM249 457h3v4h-3zM257 457h2v4h-2zM275 457h3v4h-3zM299 457h18v4h-18zM199 461h5v4h-5zM215 461h5v4h-5zM309 461h11v4h-11zM202 465h2v4h-2zM217 465h3v4h-3zM312 465h10v4h-10zM314 469h6v4h-6zM314 473h6v3h-6zM314 476h6v4h-6zM314 480h6v4h-6zM317 484h3v4h-3z"/>
<path fill="#0000e3" d="M105 312h5v4h-5zM141 312h3v4h-3zM94 316h3v4h-3zM105 316h13v4h-13zM102 320h5v4h-5zM110 320h5v4h-5zM144 320h3v4h-3zM249 320h3v4h-3zM270 320h3v4h-3zM183 324h3v4h-3zM249 324h5v4h-5zM283 324h3v4h-3zM383 324h2v4h-2zM388 324h3v4h-3zM99 328h3v4h-3zM147 328h5v4h-5zM170 328h3v4h-3zM186 328h11v4h-11zM249 328h3v4h-3zM380 328h3v4h-3zM388 328h3v4h-3zM99 332h3v4h-3zM128 332h3v4h-3zM144 332h11v4h-11zM157 332h5v4h-5zM259 332h6v4h-6zM275 332h5v4h-5zM288 332h6v4h-6zM296 332h3v4h-3zM304 332h3v4h-3zM380 332h3v4h-3zM97 336h8v3h-8zM157 336h8v3h-8zM173 336h5v3h-5zM275 336h3v3h-3zM286 336h5v3h-5zM144 339h3v4h-3zM152 339h3v4h-3zM157 339h8v4h-8zM173 339h5v4h-5zM273 339h5v4h-5zM283 339h5v4h-5zM372 339h5v4h-5zM105 343h5v4h-5zM115 343h3v4h-3zM123 343h3v4h-3zM147 343h2v4h-2zM165 343h11v4h-11zM270 343h18v4h-18zM362 343h2v4h-2zM375 343h2v4h-2zM97 347h5v4h-5zM105 347h5v4h-5zM115 347h3v4h-3zM126 347h2v4h-2zM168 347h5v4h-5zM199 347h3v4h-3zM278 347h5v4h-5zM286 347h2v4h-2zM304 347h5v4h-5zM349 347h5v4h-5zM375 347h8v4h-8zM97 351h10v4h-10zM304 351h3v4h-3zM351 351h3v4h-3zM367 351h3v4h-3zM375 351h8v4h-8zM94 355h5v4h-5zM307 355h7v4h-7zM351 355h11v4h-11zM367 355h3v4h-3zM375 355h2v4h-2zM94 359h3v4h-3zM102 359h3v4h-3zM351 359h11v4h-11zM94 363h3v4h-3zM102 363h3v4h-3zM186 363h3v4h-3zM304 363h3v4h-3zM338 363h8v4h-8zM183 367h3v4h-3zM189 367h2v4h-2zM304 367h5v4h-5zM341 367h10v4h-10zM173 371h3v4h-3zM183 371h6v4h-6zM317 371h8v4h-8zM346 371h8v4h-8zM113 375h2v4h-2zM160 375h8v4h-8zM197 375h2v4h-2zM294 375h5v4h-5zM322 375h6v4h-6zM351 375h8v4h-8zM362 375h5v4h-5zM99 379h6v3h-6zM113 379h5v3h-5zM162 379h6v3h-6zM186 379h3v3h-3zM304 379h10v3h-10zM346 379h13v3h-13zM99 382h6v4h-6zM107 382h3v4h-3zM115 382h3v4h-3zM128 382h3v4h-3zM162 382h3v4h-3zM176 382h10v4h-10zM194 382h3v4h-3zM304 382h10v4h-10zM343 382h8v4h-8zM102 386h3v4h-3zM157 386h11v4h-11zM181 386h2v4h-2zM189 386h8v4h-8zM307 386h5v4h-5zM333 386h10v4h-10zM123 390h3v4h-3zM147 390h2v4h-2zM152 390h16v4h-16zM181 390h2v4h-2zM191 390h8v4h-8zM262 390h13v4h-13zM299 390h13v4h-13zM333 390h8v4h-8zM152 394h10v4h-10zM165 394h5v4h-5zM173 394h5v4h-5zM259 394h16v4h-16zM296 394h16v4h-16zM333 394h5v4h-5zM118 398h8v4h-8zM149 398h3v4h-3zM157 398h8v4h-8zM168 398h5v4h-5zM176 398h2v4h-2zM191 398h6v4h-6zM262 398h3v4h-3zM267 398h8v4h-8zM278 398h8v4h-8zM294 398h5v4h-5zM309 398h5v4h-5zM330 398h8v4h-8zM120 402h6v4h-6zM157 402h8v4h-8zM168 402h5v4h-5zM178 402h3v4h-3zM189 402h5v4h-5zM283 402h3v4h-3zM296 402h3v4h-3zM312 402h5v4h-5zM333 402h5v4h-5zM107 406h3v4h-3zM157 406h5v4h-5zM178 406h3v4h-3zM186 406h3v4h-3zM312 406h8v4h-8zM333 406h8v4h-8zM160 410h2v4h-2zM267 410h3v4h-3zM304 410h3v4h-3zM333 410h5v4h-5zM341 410h5v4h-5zM110 414h5v4h-5zM254 414h3v4h-3zM265 414h2v4h-2zM304 414h5v4h-5zM333 414h5v4h-5zM341 414h5v4h-5zM113 418h2v4h-2zM157 418h5v4h-5zM252 418h7v4h-7zM265 418h2v4h-2zM275 418h3v4h-3zM286 418h2v4h-2zM304 418h5v4h-5zM335 418h3v4h-3zM118 422h2v4h-2zM160 422h2v4h-2zM246 422h16v4h-16zM275 422h3v4h-3zM283 422h8v4h-8zM325 422h3v4h-3zM333 422h2v4h-2zM173 426h3v4h-3zM254 426h8v4h-8zM280 426h11v4h-11zM325 426h10v4h-10zM178 430h3v3h-3zM194 430h3v3h-3zM257 430h2v3h-2zM283 430h5v3h-5zM291 430h3v3h-3zM304 430h3v3h-3zM194 433h5v4h-5zM283 433h5v4h-5zM294 433h5v4h-5zM304 433h5v4h-5zM191 437h8v4h-8zM262 437h3v4h-3zM273 437h13v4h-13zM294 437h23v4h-23zM194 441h5v4h-5zM249 441h3v4h-3zM270 441h8v4h-8zM283 441h8v4h-8zM307 441h5v4h-5zM246 445h6v4h-6zM275 445h3v4h-3zM283 445h11v4h-11zM307 445h5v4h-5zM244 449h5v4h-5zM257 449h5v4h-5zM280 449h14v4h-14zM309 449h5v4h-5zM254 453h5v4h-5zM283 453h16v4h-16zM246 457h3v4h-3zM252 457h5v4h-5zM296 457h3v4h-3zM317 457h3v4h-3zM320 461h2v4h-2zM320 469h2v4h-2zM320 473h5v3h-5zM325 480h3v4h-3zM317 488h3v4h-3z"/>
<path fill="#000aff" d="M131 312h3v4h-3zM144 312h3v4h-3zM131 324h3v4h-3zM157 324h3v4h-3zM155 336h2v3h-2zM105 359h10v4h-10zM105 363h10v4h-10zM113 367h2v4h-2zM170 375h3v4h-3zM183 375h3v4h-3zM168 379h2v3h-2zM173 379h8v3h-8zM189 379h2v3h-2zM160 382h2v4h-2zM165 382h3v4h-3zM173 382h3v4h-3zM168 386h2v4h-2zM99 390h6v4h-6zM170 390h8v4h-8zM189 390h2v4h-2zM102 394h3v4h-3zM170 394h3v4h-3zM178 394h5v4h-5zM186 394h3v4h-3zM194 394h5v4h-5zM147 398h2v4h-2zM155 398h2v4h-2zM181 398h10v4h-10zM118 402h2v4h-2zM165 402h3v4h-3zM181 402h5v4h-5zM197 402h2v4h-2zM115 406h5v4h-5zM155 406h2v4h-2zM162 406h3v4h-3zM181 406h5v4h-5zM189 406h5v4h-5zM110 410h8v4h-8zM123 410h3v4h-3zM155 410h2v4h-2zM181 410h2v4h-2zM186 410h3v4h-3zM115 414h11v4h-11zM152 414h3v4h-3zM157 414h5v4h-5zM191 414h6v4h-6zM202 414h5v4h-5zM115 418h13v4h-13zM178 418h3v4h-3zM189 418h13v4h-13zM204 418h6v4h-6zM120 422h6v4h-6zM157 422h3v4h-3zM168 422h15v4h-15zM189 422h5v4h-5zM202 422h2v4h-2zM120 426h6v4h-6zM160 426h8v4h-8zM170 426h3v4h-3zM178 426h5v4h-5zM162 430h3v3h-3zM170 430h3v3h-3zM162 433h3v4h-3zM168 433h2v4h-2zM202 453h5v4h-5zM197 457h2v4h-2zM202 457h8v4h-8zM204 461h3v4h-3z"/>
<path fill="#0066ff" d="M254 336h3v3h-3zM115 339h3v4h-3zM249 339h13v4h-13zM270 339h3v4h-3zM254 343h11v4h-11zM267 343h3v4h-3zM252 347h21v4h-21zM252 351h21v4h-21zM278 351h10v4h-10zM252 355h34v4h-34zM246 359h3v4h-3zM252 359h34v4h-34zM249 363h37v4h-37zM118 367h2v4h-2zM241 367h47v4h-47zM291 367h3v4h-3zM102 371h3v4h-3zM238 371h56v4h-56zM105 375h5v4h-5zM131 375h3v4h-3zM238 375h56v4h-56zM105 379h8v3h-8zM238 379h56v3h-56zM241 382h47v4h-47zM176 386h2v4h-2zM238 386h56v4h-56zM241 390h21v4h-21zM275 390h19v4h-19zM241 394h18v4h-18zM275 394h19v4h-19zM152 398h3v4h-3zM241 398h21v4h-21zM241 402h5v4h-5zM249 402h16v4h-16zM291 402h5v4h-5zM246 406h19v4h-19zM283 406h16v4h-16zM136 410h3v4h-3zM246 410h13v4h-13zM283 410h16v4h-16zM136 414h3v4h-3zM236 414h13v4h-13zM252 414h2v4h-2zM283 414h5v4h-5zM238 418h14v4h-14zM220 422h5v4h-5zM228 422h5v4h-5zM241 422h5v4h-5zM220 426h13v4h-13zM236 426h2v4h-2zM128 430h3v3h-3zM141 430h3v3h-3zM215 430h26v3h-26zM215 433h26v4h-26zM217 437h27v4h-27zM181 441h2v4h-2zM215 441h26v4h-26zM215 445h26v4h-26zM215 449h26v4h-26zM217 453h3v4h-3zM223 453h18v4h-18zM220 457h21v4h-21zM220 461h21v4h-21zM220 465h21v4h-21zM220 469h21v4h-21zM223 473h15v3h-15zM225 476h11v4h-11zM228 480h8v4h-8zM231 484h5v4h-5zM231 488h5v4h-5z"/>
<path fill="#00a3ff" d="M123 312h3v4h-3zM152 312h92v4h-92zM152 316h94v4h-94zM152 320h94v4h-94zM160 324h21v4h-21zM186 324h60v4h-60zM165 328h5v4h-5zM173 328h3v4h-3zM197 328h49v4h-49zM194 332h8v4h-8zM204 332h42v4h-42zM181 336h2v3h-2zM186 336h13v3h-13zM204 336h45v3h-45zM181 339h18v4h-18zM207 339h42v4h-42zM186 343h13v4h-13zM204 343h50v4h-50zM173 347h3v4h-3zM186 347h13v4h-13zM204 347h48v4h-48zM189 351h8v4h-8zM199 351h53v4h-53zM189 355h63v4h-63zM191 359h55v4h-55zM249 359h3v4h-3zM191 363h58v4h-58zM110 367h3v4h-3zM139 367h2v4h-2zM197 367h44v4h-44zM110 371h5v4h-5zM199 371h39v4h-39zM168 375h2v4h-2zM199 375h39v4h-39zM199 379h39v3h-39zM105 382h2v4h-2zM110 382h3v4h-3zM197 382h44v4h-44zM105 386h5v4h-5zM197 386h41v4h-41zM105 390h5v4h-5zM199 390h42v4h-42zM105 394h2v4h-2zM199 394h42v4h-42zM199 398h42v4h-42zM176 402h2v4h-2zM199 402h42v4h-42zM246 402h3v4h-3zM168 406h10v4h-10zM197 406h49v4h-49zM165 410h13v4h-13zM197 410h49v4h-49zM162 414h8v4h-8zM197 414h5v4h-5zM207 414h29v4h-29zM131 418h3v4h-3zM162 418h3v4h-3zM170 418h3v4h-3zM202 418h2v4h-2zM210 418h28v4h-28zM134 422h2v4h-2zM194 422h8v4h-8zM204 422h16v4h-16zM225 422h3v4h-3zM233 422h8v4h-8zM191 426h29v4h-29zM233 426h3v4h-3zM238 426h8v4h-8zM197 430h18v3h-18zM241 430h5v3h-5zM149 433h3v4h-3zM199 433h16v4h-16zM241 433h5v4h-5zM176 437h2v4h-2zM202 437h2v4h-2zM207 437h10v4h-10zM204 441h8v4h-8zM197 445h2v4h-2z"/>
<path fill="#00e0ff" d="M118 312h5v4h-5zM126 312h2v4h-2zM149 312h3v4h-3zM123 316h8v4h-8zM115 320h19v4h-19zM141 320h3v4h-3zM113 324h18v4h-18zM134 324h2v4h-2zM115 328h8v4h-8zM126 328h2v4h-2zM136 328h3v4h-3zM162 328h3v4h-3zM178 328h3v4h-3zM107 332h3v4h-3zM115 332h13v4h-13zM162 332h6v4h-6zM173 332h5v4h-5zM181 332h5v4h-5zM110 336h18v3h-18zM134 336h5v3h-5zM147 336h5v3h-5zM165 336h8v3h-8zM183 336h3v3h-3zM110 339h5v4h-5zM118 339h23v4h-23zM147 339h2v4h-2zM155 339h2v4h-2zM168 339h2v4h-2zM110 343h5v4h-5zM126 343h21v4h-21zM149 343h13v4h-13zM176 343h10v4h-10zM110 347h5v4h-5zM118 347h8v4h-8zM128 347h11v4h-11zM141 347h3v4h-3zM147 347h15v4h-15zM176 347h7v4h-7zM202 347h2v4h-2zM113 351h49v4h-49zM168 351h21v4h-21zM110 355h52v4h-52zM168 355h5v4h-5zM176 355h13v4h-13zM115 359h26v4h-26zM144 359h5v4h-5zM152 359h8v4h-8zM165 359h26v4h-26zM115 363h71v4h-71zM115 367h3v4h-3zM120 367h8v4h-8zM131 367h8v4h-8zM141 367h16v4h-16zM160 367h23v4h-23zM186 367h3v4h-3zM115 371h40v4h-40zM162 371h11v4h-11zM176 371h2v4h-2zM181 371h2v4h-2zM189 371h2v4h-2zM115 375h16v4h-16zM136 375h13v4h-13zM152 375h8v4h-8zM173 375h10v4h-10zM189 375h5v4h-5zM120 379h40v3h-40zM170 379h3v3h-3zM181 379h2v3h-2zM123 382h5v4h-5zM131 382h29v4h-29zM170 382h3v4h-3zM120 386h37v4h-37zM170 386h6v4h-6zM186 386h3v4h-3zM126 390h10v4h-10zM139 390h8v4h-8zM149 390h3v4h-3zM178 390h3v4h-3zM186 390h3v4h-3zM126 394h13v4h-13zM141 394h11v4h-11zM183 394h3v4h-3zM189 394h5v4h-5zM126 398h21v4h-21zM173 398h3v4h-3zM126 402h10v4h-10zM139 402h16v4h-16zM123 406h32v4h-32zM165 406h3v4h-3zM194 406h3v4h-3zM126 410h10v4h-10zM139 410h16v4h-16zM162 410h3v4h-3zM178 410h3v4h-3zM183 410h3v4h-3zM194 410h3v4h-3zM126 414h10v4h-10zM139 414h13v4h-13zM155 414h2v4h-2zM170 414h21v4h-21zM128 418h3v4h-3zM134 418h23v4h-23zM165 418h5v4h-5zM173 418h5v4h-5zM181 418h8v4h-8zM126 422h8v4h-8zM136 422h21v4h-21zM165 422h3v4h-3zM183 422h6v4h-6zM128 426h32v4h-32zM176 426h2v4h-2zM183 426h8v4h-8zM131 430h10v3h-10zM144 430h18v3h-18zM165 430h5v3h-5zM173 430h5v3h-5zM181 430h13v3h-13zM131 433h18v4h-18zM152 433h10v4h-10zM165 433h3v4h-3zM173 433h21v4h-21zM134 437h42v4h-42zM178 437h13v4h-13zM199 437h3v4h-3zM204 437h3v4h-3zM244 437h2v4h-2zM149 441h13v4h-13zM165 441h16v4h-16zM183 441h11v4h-11zM199 441h5v4h-5zM212 441h3v4h-3zM241 441h8v4h-8zM157 445h21v4h-21zM189 445h8v4h-8zM199 445h16v4h-16zM191 449h24v4h-24zM199 453h3v4h-3zM207 453h10v4h-10zM220 453h3v4h-3zM241 453h8v4h-8zM199 457h3v4h-3zM210 457h10v4h-10zM241 457h5v4h-5zM259 457h8v4h-8zM207 461h3v4h-3zM241 461h13v4h-13zM204 465h3v4h-3zM241 465h8v4h-8zM241 469h3v4h-3z"/>
<path fill="#ff2c00" d="M244 312h8v4h-8zM283 312h11v4h-11zM246 316h11v4h-11zM278 316h18v4h-18zM275 320h26v4h-26zM257 324h5v4h-5zM265 324h18v4h-18zM286 324h18v4h-18zM265 328h2v4h-2zM270 328h5v4h-5zM288 328h11v4h-11zM301 328h3v4h-3zM294 332h2v4h-2zM273 336h2v3h-2zM291 336h10v3h-10zM304 336h24v3h-24zM288 339h11v4h-11zM309 339h21v4h-21zM288 343h8v4h-8zM309 343h11v4h-11zM322 343h6v4h-6zM288 347h6v4h-6zM309 347h11v4h-11zM288 351h6v4h-6zM307 351h2v4h-2zM314 351h6v4h-6zM333 351h18v4h-18zM286 355h8v4h-8zM314 355h3v4h-3zM330 355h3v4h-3zM341 355h2v4h-2zM286 359h10v4h-10zM325 359h8v4h-8zM286 363h8v4h-8zM314 363h16v4h-16zM288 367h3v4h-3zM309 367h13v4h-13zM155 371h5v4h-5zM107 394h3v4h-3zM273 406h7v4h-7zM118 410h2v4h-2zM270 410h8v4h-8zM346 410h3v4h-3zM267 414h11v4h-11zM346 414h3v4h-3zM259 418h3v4h-3zM267 418h8v4h-8zM343 418h3v4h-3zM262 422h13v4h-13zM341 422h2v4h-2zM265 426h10v4h-10zM335 426h3v4h-3zM252 430h2v3h-2zM259 430h3v3h-3zM267 430h8v3h-8zM330 430h3v3h-3zM254 433h3v4h-3zM262 433h11v4h-11zM254 437h3v4h-3zM265 437h8v4h-8zM320 437h5v4h-5zM265 441h5v4h-5zM265 445h5v4h-5zM262 449h5v4h-5zM262 453h5v4h-5zM314 453h3v4h-3zM267 457h8v4h-8zM254 461h3v4h-3zM259 461h19v4h-19zM270 465h5v4h-5zM320 476h5v4h-5zM320 480h5v4h-5zM320 484h8v4h-8zM320 488h8v4h-8zM320 492h8v4h-8zM322 496h3v4h-3z"/>
</g>
<g>
<rect x="78.5" y="305.5" width="334" height="202" fill="none" stroke="#000" stroke-width="1"/>
<path d="M81.5 507v5M87.5 507v5M92.5 507v5M97.5 507v5M102.5 507v5M107.5 507v5M113.5 507v5M118.5 507v10M123.5 507v5M128.5 507v5M134.5 507v5M139.5 507v5M144.5 507v5M149.5 507v5M154.5 507v5M160.5 507v5M165.5 507v5M170.5 507v10M175.5 507v5M181.5 507v5M186.5 507v5M191.5 507v5M196.5 507v5M201.5 507v5M207.5 507v5M212.5 507v5M217.5 507v5M222.5 507v10M228.5 507v5M233.5 507v5M238.5 507v5M243.5 507v5M248.5 507v5M254.5 507v5M259.5 507v5M264.5 507v5M269.5 507v5M275.5 507v10M280.5 507v5M285.5 507v5M290.5 507v5M295.5 507v5M301.5 507v5M306.5 507v5M311.5 507v5M316.5 507v5M322.5 507v5M327.5 507v10M332.5 507v5M337.5 507v5M342.5 507v5M348.5 507v5M353.5 507v5M358.5 507v5M363.5 507v5M369.5 507v5M374.5 507v5M379.5 507v10M384.5 507v5M389.5 507v5M395.5 507v5M400.5 507v5M405.5 507v5M410.5 507v5M78 499.5h-9M78 491.5h-4M78 483.5h-4M78 476.5h-4M78 468.5h-4M78 460.5h-9M78 452.5h-4M78 444.5h-4M78 437.5h-4M78 429.5h-4M78 421.5h-9M78 413.5h-4M78 405.5h-4M78 398.5h-4M78 390.5h-4M78 382.5h-9M78 374.5h-4M78 366.5h-4M78 359.5h-4M78 351.5h-4M78 343.5h-9M78 335.5h-4M78 327.5h-4M78 320.5h-4M78 312.5h-4M438.5 305V508M439 499.5h9M439 479.5h4M439 459.5h9M439 439.5h4M439 418.5h9M439 398.5h4M439 378.5h9M439 358.5h4M439 338.5h9M439 318.5h4" stroke="#000" stroke-width="1" fill="none"/>
<rect x="425" y="305" width="13" height="203" fill="url(#cb)"/>
<text x="118.4" y="533" text-anchor="middle">-120</text>
<text x="170.6" y="533" text-anchor="middle">-110</text>
<text x="222.8" y="533" text-anchor="middle">-100</text>
<text x="275.1" y="533" text-anchor="middle">-90</text>
<text x="327.3" y="533" text-anchor="middle">-80</text>
<text x="379.5" y="533" text-anchor="middle">-70</text>
<text x="64.5" y="503.9" text-anchor="end">25</text>
<text x="64.5" y="464.9" text-anchor="end">30</text>
<text x="64.5" y="425.9" text-anchor="end">35</text>
<text x="64.5" y="386.9" text-anchor="end">40</text>
<text x="64.5" y="347.9" text-anchor="end">45</text>
<text x="451.5" y="503.9">0</text>
<text x="451.5" y="463.7">20</text>
<text x="451.5" y="423.4">40</text>
<text x="451.5" y="383.2">60</text>
<text x="451.5" y="342.9">80</text>
<text x="245" y="295" text-anchor="middle">VVEG</text>
</g>
<g shape-rendering="crispEdges">
<path fill="#0000b2" d="M710 320h3v4h-3z"/>
<path fill="#0000c2" d="M726 332h3v4h-3zM734 332h3v4h-3z"/>
<path fill="#0000d3" d="M731 328h3v4h-3zM695 332h2v4h-2z"/>
<path fill="#0000e3" d="M684 324h3v4h-3zM723 324h3v4h-3zM729 332h2v4h-2z"/>
<path fill="#0000f4" d="M726 316h3v4h-3zM716 343h2v4h-2z"/>
<path fill="#000aff" d="M689 316h3v4h-3zM708 320h2v4h-2zM744 332h3v4h-3zM702 339h3v4h-3z"/>
<path fill="#0028ff" d="M679 320h2v4h-2zM695 320h2v4h-2zM713 324h3v4h-3zM676 328h3v4h-3zM689 332h3v4h-3zM713 336h3v3h-3zM718 351h3v4h-3zM713 355h3v4h-3z"/>
<path fill="#0047ff" d="M663 312h3v4h-3zM700 324h2v4h-2zM681 328h3v4h-3zM716 328h2v4h-2zM695 339h2v4h-2zM700 339h2v4h-2zM668 351h3v4h-3zM700 363h2v4h-2z"/>
<path fill="#0066ff" d="M658 312h3v4h-3zM684 312h3v4h-3zM713 312h3v4h-3zM697 339h3v4h-3zM718 343h3v4h-3zM747 347h3v4h-3z"/>
<path fill="#0084ff" d="M708 316h2v4h-2zM718 316h5v4h-5zM692 320h3v4h-3zM705 324h3v4h-3zM689 328h3v4h-3zM671 332h3v4h-3zM687 339h2v4h-2zM737 386h2v4h-2z"/>
<path fill="#00a3ff" d="M700 312h5v4h-5zM661 316h2v4h-2zM705 316h3v4h-3zM713 316h3v4h-3zM684 320h3v4h-3zM687 324h2v4h-2zM695 324h2v4h-2zM710 324h3v4h-3zM692 328h3v4h-3zM849 328h3v4h-3zM681 332h3v4h-3zM710 339h3v4h-3zM681 343h3v4h-3zM697 343h3v4h-3zM739 343h3v4h-3zM681 379h3v3h-3z"/>
<path fill="#00c2ff" d="M681 312h3v4h-3zM695 312h2v4h-2zM705 312h3v4h-3zM681 316h3v4h-3zM700 316h5v4h-5zM716 316h2v4h-2zM723 316h3v4h-3zM674 320h2v4h-2zM681 320h3v4h-3zM702 320h3v4h-3zM676 324h3v4h-3zM689 324h3v4h-3zM718 328h3v4h-3zM674 332h2v4h-2zM676 336h3v3h-3zM710 336h3v3h-3zM721 336h2v3h-2zM737 336h2v3h-2zM708 339h2v4h-2zM721 339h2v4h-2zM695 343h2v4h-2zM734 343h3v4h-3zM684 347h3v4h-3zM716 347h2v4h-2zM758 355h2v4h-2zM666 359h2v4h-2z"/>
<path fill="#00e0ff" d="M697 312h3v4h-3zM710 312h3v4h-3zM687 316h2v4h-2zM692 316h3v4h-3zM697 316h3v4h-3zM710 316h3v4h-3zM713 320h3v4h-3zM721 320h5v4h-5zM697 324h3v4h-3zM708 324h2v4h-2zM674 328h2v4h-2zM697 328h3v4h-3zM710 328h3v4h-3zM723 328h3v4h-3zM692 332h3v4h-3zM847 332h2v4h-2zM668 336h3v3h-3zM718 336h3v3h-3zM729 336h2v3h-2zM734 336h3v3h-3zM849 336h3v3h-3zM692 339h3v4h-3zM687 343h2v4h-2zM852 343h3v4h-3zM689 347h3v4h-3zM695 347h2v4h-2zM737 347h2v4h-2zM676 351h3v4h-3zM713 351h5v4h-5zM679 359h2v4h-2zM716 371h2v4h-2z"/>
<path fill="#00ffff" d="M647 312h3v4h-3zM668 312h3v4h-3zM679 312h2v4h-2zM674 316h2v4h-2zM695 316h2v4h-2zM671 320h3v4h-3zM689 320h3v4h-3zM697 320h3v4h-3zM705 320h3v4h-3zM716 320h2v4h-2zM726 320h3v4h-3zM731 320h3v4h-3zM737 320h2v4h-2zM666 324h5v4h-5zM702 324h3v4h-3zM847 324h2v4h-2zM679 328h2v4h-2zM687 328h2v4h-2zM695 328h2v4h-2zM708 328h2v4h-2zM713 328h3v4h-3zM726 328h3v4h-3zM747 328h3v4h-3zM697 332h3v4h-3zM713 332h5v4h-5zM742 332h2v4h-2zM679 336h2v3h-2zM700 336h5v3h-5zM708 336h2v3h-2zM747 336h3v3h-3zM844 336h3v3h-3zM674 339h2v4h-2zM723 339h3v4h-3zM739 339h3v4h-3zM671 343h5v4h-5zM702 343h3v4h-3zM742 343h2v4h-2zM681 351h6v4h-6zM700 355h2v4h-2zM731 355h3v4h-3zM702 359h3v4h-3z"/>
<path fill="#00ffee" d="M676 312h3v4h-3zM692 312h3v4h-3zM708 312h2v4h-2zM671 316h3v4h-3zM679 316h2v4h-2zM684 316h3v4h-3zM668 320h3v4h-3zM676 320h3v4h-3zM671 324h3v4h-3zM679 324h5v4h-5zM716 324h2v4h-2zM684 328h3v4h-3zM700 328h5v4h-5zM739 328h3v4h-3zM844 328h3v4h-3zM676 332h3v4h-3zM705 332h3v4h-3zM747 332h5v4h-5zM758 332h2v4h-2zM844 332h3v4h-3zM692 336h3v3h-3zM697 336h3v3h-3zM716 336h2v3h-2zM676 339h3v4h-3zM689 339h3v4h-3zM737 343h2v4h-2zM744 343h3v4h-3zM844 343h3v4h-3zM697 347h3v4h-3zM705 347h3v4h-3zM836 351h3v4h-3zM679 355h2v4h-2zM668 359h3v4h-3zM681 363h3v4h-3zM716 363h2v4h-2zM731 363h6v4h-6zM758 367h2v4h-2z"/>
<path fill="#00ffde" d="M674 312h2v4h-2zM687 312h5v4h-5zM661 324h2v4h-2zM726 324h3v4h-3zM671 328h3v4h-3zM742 328h2v4h-2zM684 332h3v4h-3zM700 332h2v4h-2zM731 332h3v4h-3zM737 332h5v4h-5zM658 336h3v3h-3zM671 336h5v3h-5zM689 336h3v3h-3zM731 336h3v3h-3zM713 339h5v4h-5zM726 339h3v4h-3zM744 339h3v4h-3zM765 339h3v4h-3zM836 339h3v4h-3zM841 339h3v4h-3zM852 339h3v4h-3zM676 343h3v4h-3zM684 343h3v4h-3zM705 343h3v4h-3zM710 343h3v4h-3zM857 343h3v4h-3zM666 347h2v4h-2zM671 347h3v4h-3zM687 347h2v4h-2zM700 347h2v4h-2zM708 347h2v4h-2zM721 347h2v4h-2zM739 347h3v4h-3zM839 347h2v4h-2zM679 351h2v4h-2zM689 351h6v4h-6zM723 351h3v4h-3zM744 351h8v4h-8zM763 351h2v4h-2zM687 355h2v4h-2zM702 355h3v4h-3zM726 355h3v4h-3zM773 355h3v4h-3zM681 359h3v4h-3zM708 359h2v4h-2zM747 359h3v4h-3zM834 359h2v4h-2zM713 363h3v4h-3zM718 363h3v4h-3zM705 375h3v4h-3zM708 379h2v3h-2z"/>
<path fill="#00ffcd" d="M645 312h2v4h-2zM650 312h3v4h-3zM642 316h3v4h-3zM676 316h3v4h-3zM700 320h2v4h-2zM718 320h3v4h-3zM721 324h2v4h-2zM668 328h3v4h-3zM705 328h3v4h-3zM721 328h2v4h-2zM744 328h3v4h-3zM679 332h2v4h-2zM687 332h2v4h-2zM710 332h3v4h-3zM718 332h5v4h-5zM752 332h3v4h-3zM760 332h3v4h-3zM695 336h2v3h-2zM705 336h3v3h-3zM726 336h3v3h-3zM742 336h2v3h-2zM679 339h2v4h-2zM718 339h3v4h-3zM729 339h2v4h-2zM763 339h2v4h-2zM768 339h3v4h-3zM666 343h2v4h-2zM689 343h3v4h-3zM700 343h2v4h-2zM713 343h3v4h-3zM726 343h3v4h-3zM731 343h3v4h-3zM765 343h3v4h-3zM815 343h3v4h-3zM823 343h3v4h-3zM831 343h3v4h-3zM855 343h2v4h-2zM702 347h3v4h-3zM771 347h2v4h-2zM823 347h3v4h-3zM687 351h2v4h-2zM708 351h5v4h-5zM737 351h2v4h-2zM818 351h5v4h-5zM671 355h3v4h-3zM681 355h3v4h-3zM716 355h5v4h-5zM723 355h3v4h-3zM734 355h3v4h-3zM807 355h3v4h-3zM836 355h3v4h-3zM716 359h2v4h-2zM742 359h5v4h-5zM684 363h3v4h-3zM697 363h3v4h-3zM721 363h2v4h-2zM705 367h3v4h-3zM818 367h2v4h-2zM799 375h3v4h-3zM723 382h3v4h-3z"/>
<path fill="#00ffbd" d="M619 312h2v4h-2zM661 312h2v4h-2zM671 312h3v4h-3zM668 316h3v4h-3zM640 320h2v4h-2zM687 320h2v4h-2zM729 320h2v4h-2zM650 324h3v4h-3zM663 324h3v4h-3zM674 324h2v4h-2zM692 324h3v4h-3zM747 324h3v4h-3zM852 324h3v4h-3zM647 328h3v4h-3zM624 332h2v4h-2zM637 332h3v4h-3zM663 332h3v4h-3zM702 332h3v4h-3zM768 332h3v4h-3zM681 336h8v3h-8zM739 336h3v3h-3zM752 336h3v3h-3zM855 336h2v3h-2zM663 339h5v4h-5zM671 339h3v4h-3zM705 339h3v4h-3zM742 339h2v4h-2zM747 339h3v4h-3zM839 339h2v4h-2zM844 339h5v4h-5zM855 339h2v4h-2zM679 343h2v4h-2zM692 343h3v4h-3zM721 343h5v4h-5zM729 343h2v4h-2zM750 343h2v4h-2zM820 343h3v4h-3zM828 343h3v4h-3zM681 347h3v4h-3zM723 347h3v4h-3zM734 347h3v4h-3zM744 347h3v4h-3zM760 347h3v4h-3zM813 347h5v4h-5zM831 347h3v4h-3zM637 351h3v4h-3zM661 351h2v4h-2zM702 351h3v4h-3zM841 351h3v4h-3zM695 355h2v4h-2zM710 355h3v4h-3zM742 355h2v4h-2zM747 355h3v4h-3zM760 355h3v4h-3zM815 355h3v4h-3zM839 355h2v4h-2zM718 359h3v4h-3zM818 359h2v4h-2zM723 363h3v4h-3zM729 363h2v4h-2zM760 363h3v4h-3zM831 363h3v4h-3zM765 367h3v4h-3zM794 367h3v4h-3zM813 367h2v4h-2zM784 371h2v4h-2zM737 382h2v4h-2zM755 382h3v4h-3z"/>
<path fill="#00ffac" d="M642 312h3v4h-3zM666 312h2v4h-2zM645 316h2v4h-2zM650 316h5v4h-5zM663 316h3v4h-3zM642 320h3v4h-3zM663 320h3v4h-3zM647 324h3v4h-3zM650 328h3v4h-3zM663 328h5v4h-5zM847 328h2v4h-2zM723 332h3v4h-3zM755 332h3v4h-3zM763 332h2v4h-2zM629 336h3v3h-3zM723 336h3v3h-3zM621 339h3v4h-3zM645 339h2v4h-2zM658 339h3v4h-3zM668 339h3v4h-3zM681 339h3v4h-3zM734 339h5v4h-5zM771 339h2v4h-2zM658 343h3v4h-3zM708 343h2v4h-2zM760 343h3v4h-3zM768 343h5v4h-5zM836 343h3v4h-3zM847 343h2v4h-2zM679 347h2v4h-2zM710 347h6v4h-6zM731 347h3v4h-3zM742 347h2v4h-2zM768 347h3v4h-3zM828 347h3v4h-3zM836 347h3v4h-3zM844 347h3v4h-3zM674 351h2v4h-2zM721 351h2v4h-2zM726 351h5v4h-5zM758 351h5v4h-5zM765 351h3v4h-3zM674 355h2v4h-2zM684 355h3v4h-3zM692 355h3v4h-3zM721 355h2v4h-2zM763 355h10v4h-10zM820 355h3v4h-3zM661 359h2v4h-2zM695 359h2v4h-2zM710 359h3v4h-3zM729 359h2v4h-2zM760 359h5v4h-5zM771 359h5v4h-5zM815 359h3v4h-3zM687 363h2v4h-2zM708 363h2v4h-2zM739 363h3v4h-3zM744 363h3v4h-3zM758 363h2v4h-2zM692 367h3v4h-3zM713 367h3v4h-3zM718 367h3v4h-3zM729 367h2v4h-2zM750 367h2v4h-2zM810 367h3v4h-3zM836 367h3v4h-3zM705 371h3v4h-3zM729 371h2v4h-2zM744 371h3v4h-3zM679 375h2v4h-2zM752 375h3v4h-3zM763 375h2v4h-2zM697 379h3v3h-3zM755 379h3v3h-3zM768 379h3v3h-3zM697 382h3v4h-3zM676 386h3v4h-3zM734 386h3v4h-3z"/>
<path fill="#00ff9b" d="M647 316h3v4h-3zM655 316h6v4h-6zM650 320h5v4h-5zM658 320h3v4h-3zM734 320h3v4h-3zM658 324h3v4h-3zM718 324h3v4h-3zM642 328h3v4h-3zM661 328h2v4h-2zM852 328h3v4h-3zM613 332h3v4h-3zM653 332h2v4h-2zM658 332h5v4h-5zM668 332h3v4h-3zM765 332h3v4h-3zM849 332h3v4h-3zM645 336h2v3h-2zM663 336h5v3h-5zM847 336h2v3h-2zM852 336h3v3h-3zM637 339h3v4h-3zM661 339h2v4h-2zM684 339h3v4h-3zM731 339h3v4h-3zM750 339h2v4h-2zM663 343h3v4h-3zM668 343h3v4h-3zM747 343h3v4h-3zM839 343h2v4h-2zM658 347h3v4h-3zM668 347h3v4h-3zM692 347h3v4h-3zM726 347h5v4h-5zM750 347h2v4h-2zM765 347h3v4h-3zM826 347h2v4h-2zM834 347h2v4h-2zM841 347h3v4h-3zM629 351h3v4h-3zM666 351h2v4h-2zM695 351h7v4h-7zM768 351h3v4h-3zM813 351h2v4h-2zM844 351h3v4h-3zM653 355h2v4h-2zM666 355h2v4h-2zM729 355h2v4h-2zM739 355h3v4h-3zM826 355h5v4h-5zM647 359h3v4h-3zM687 359h5v4h-5zM705 359h3v4h-3zM723 359h3v4h-3zM768 359h3v4h-3zM776 359h2v4h-2zM810 359h3v4h-3zM820 359h3v4h-3zM676 363h3v4h-3zM668 367h3v4h-3zM726 367h3v4h-3zM831 367h3v4h-3zM671 371h3v4h-3zM689 371h3v4h-3zM702 371h3v4h-3zM718 371h3v4h-3zM750 371h2v4h-2zM776 371h5v4h-5zM792 371h2v4h-2zM815 371h3v4h-3zM634 375h6v4h-6zM650 375h3v4h-3zM758 375h2v4h-2zM771 375h2v4h-2zM684 379h3v3h-3zM710 390h3v4h-3zM731 390h3v4h-3z"/>
<path fill="#00ff8b" d="M653 312h2v4h-2zM634 316h3v4h-3zM640 316h2v4h-2zM666 316h2v4h-2zM619 320h2v4h-2zM647 320h3v4h-3zM661 320h2v4h-2zM666 320h2v4h-2zM653 328h8v4h-8zM750 328h2v4h-2zM626 332h3v4h-3zM666 332h2v4h-2zM708 332h2v4h-2zM637 336h3v3h-3zM653 336h5v3h-5zM661 336h2v3h-2zM744 336h3v3h-3zM750 336h2v3h-2zM626 339h3v4h-3zM647 339h3v4h-3zM619 343h2v4h-2zM626 343h3v4h-3zM653 343h5v4h-5zM826 343h2v4h-2zM653 347h5v4h-5zM674 347h2v4h-2zM763 347h2v4h-2zM847 347h2v4h-2zM600 351h3v4h-3zM632 351h5v4h-5zM663 351h3v4h-3zM705 351h3v4h-3zM731 351h6v4h-6zM739 351h3v4h-3zM773 351h3v4h-3zM828 351h8v4h-8zM737 355h2v4h-2zM810 355h3v4h-3zM624 359h2v4h-2zM700 359h2v4h-2zM713 359h3v4h-3zM726 359h3v4h-3zM731 359h11v4h-11zM758 359h2v4h-2zM765 359h3v4h-3zM823 359h3v4h-3zM836 359h3v4h-3zM642 363h3v4h-3zM689 363h3v4h-3zM695 363h2v4h-2zM705 363h3v4h-3zM710 363h3v4h-3zM737 363h2v4h-2zM763 363h2v4h-2zM794 363h8v4h-8zM807 363h3v4h-3zM681 367h3v4h-3zM689 367h3v4h-3zM695 367h2v4h-2zM702 367h3v4h-3zM710 367h3v4h-3zM716 367h2v4h-2zM731 367h3v4h-3zM737 367h2v4h-2zM744 367h6v4h-6zM815 367h3v4h-3zM823 367h5v4h-5zM632 371h2v4h-2zM679 371h5v4h-5zM687 371h2v4h-2zM695 371h2v4h-2zM710 371h3v4h-3zM721 371h2v4h-2zM726 371h3v4h-3zM734 371h3v4h-3zM818 371h2v4h-2zM668 375h3v4h-3zM695 375h2v4h-2zM708 375h5v4h-5zM742 375h2v4h-2zM789 375h3v4h-3zM828 375h3v4h-3zM689 379h3v3h-3zM705 379h3v3h-3zM718 379h3v3h-3zM731 379h3v3h-3zM747 379h3v3h-3zM771 379h2v3h-2zM726 382h3v4h-3zM758 382h2v4h-2zM805 382h2v4h-2zM634 386h3v4h-3zM710 386h3v4h-3zM755 386h3v4h-3zM755 398h3v4h-3zM750 406h2v4h-2z"/>
<path fill="#00ff7a" d="M600 312h3v4h-3zM626 312h3v4h-3zM655 312h3v4h-3zM629 316h3v4h-3zM637 316h3v4h-3zM608 320h3v4h-3zM655 320h3v4h-3zM645 324h2v4h-2zM653 324h2v4h-2zM647 332h6v4h-6zM852 332h3v4h-3zM632 336h2v3h-2zM765 336h3v3h-3zM849 339h3v4h-3zM621 343h3v4h-3zM642 343h3v4h-3zM661 343h2v4h-2zM634 347h3v4h-3zM645 347h2v4h-2zM820 347h3v4h-3zM608 351h3v4h-3zM645 351h2v4h-2zM653 351h2v4h-2zM823 351h3v4h-3zM839 351h2v4h-2zM655 355h3v4h-3zM661 355h2v4h-2zM689 355h3v4h-3zM697 355h3v4h-3zM744 355h3v4h-3zM797 355h5v4h-5zM818 355h2v4h-2zM831 355h5v4h-5zM640 359h2v4h-2zM684 359h3v4h-3zM692 359h3v4h-3zM721 359h2v4h-2zM805 359h5v4h-5zM828 359h3v4h-3zM619 363h2v4h-2zM637 363h5v4h-5zM650 363h3v4h-3zM742 363h2v4h-2zM747 363h3v4h-3zM765 363h6v4h-6zM802 363h3v4h-3zM820 363h6v4h-6zM836 363h3v4h-3zM661 367h2v4h-2zM679 367h2v4h-2zM684 367h3v4h-3zM708 367h2v4h-2zM742 367h2v4h-2zM760 367h3v4h-3zM820 367h3v4h-3zM834 367h2v4h-2zM700 371h2v4h-2zM713 371h3v4h-3zM723 371h3v4h-3zM747 371h3v4h-3zM760 371h3v4h-3zM781 371h3v4h-3zM807 371h3v4h-3zM632 375h2v4h-2zM681 375h6v4h-6zM702 375h3v4h-3zM750 375h2v4h-2zM765 375h3v4h-3zM773 375h3v4h-3zM784 375h2v4h-2zM794 375h3v4h-3zM650 379h3v3h-3zM679 379h2v3h-2zM721 379h2v3h-2zM734 379h3v3h-3zM739 379h3v3h-3zM760 379h5v3h-5zM815 379h3v3h-3zM640 382h5v4h-5zM689 382h3v4h-3zM700 382h2v4h-2zM768 382h5v4h-5zM781 382h3v4h-3zM713 386h3v4h-3zM763 386h2v4h-2zM619 390h2v4h-2zM642 390h3v4h-3zM710 394h3v4h-3zM752 394h3v4h-3zM647 398h3v4h-3zM726 402h3v4h-3zM695 406h2v4h-2zM702 406h3v4h-3z"/>
<path fill="#00ff6a" d="M629 312h3v4h-3zM616 316h3v4h-3zM626 316h3v4h-3zM603 320h2v4h-2zM613 320h3v4h-3zM645 320h2v4h-2zM619 324h2v4h-2zM640 324h2v4h-2zM603 328h2v4h-2zM645 328h2v4h-2zM603 332h2v4h-2zM634 332h3v4h-3zM634 336h3v3h-3zM642 336h3v3h-3zM650 336h3v3h-3zM841 336h3v3h-3zM605 339h3v4h-3zM611 339h2v4h-2zM632 339h2v4h-2zM655 339h3v4h-3zM645 343h2v4h-2zM763 343h2v4h-2zM818 343h2v4h-2zM849 343h3v4h-3zM595 347h3v4h-3zM603 347h2v4h-2zM611 347h5v4h-5zM621 347h5v4h-5zM661 347h2v4h-2zM718 347h3v4h-3zM818 347h2v4h-2zM613 351h3v4h-3zM742 351h2v4h-2zM826 351h2v4h-2zM603 355h2v4h-2zM619 355h2v4h-2zM629 355h3v4h-3zM640 355h2v4h-2zM776 355h2v4h-2zM629 359h3v4h-3zM634 359h3v4h-3zM645 359h2v4h-2zM697 359h3v4h-3zM831 359h3v4h-3zM653 363h2v4h-2zM658 363h3v4h-3zM663 363h3v4h-3zM668 363h3v4h-3zM679 363h2v4h-2zM692 363h3v4h-3zM726 363h3v4h-3zM771 363h2v4h-2zM810 363h5v4h-5zM828 363h3v4h-3zM834 363h2v4h-2zM626 367h3v4h-3zM634 367h3v4h-3zM666 367h2v4h-2zM763 367h2v4h-2zM771 367h2v4h-2zM805 367h5v4h-5zM839 367h2v4h-2zM634 371h3v4h-3zM642 371h3v4h-3zM647 371h3v4h-3zM655 371h3v4h-3zM737 371h2v4h-2zM755 371h3v4h-3zM763 371h5v4h-5zM771 371h2v4h-2zM786 371h3v4h-3zM794 371h3v4h-3zM799 371h6v4h-6zM810 371h3v4h-3zM820 371h6v4h-6zM629 375h3v4h-3zM689 375h6v4h-6zM697 375h3v4h-3zM713 375h3v4h-3zM755 375h3v4h-3zM760 375h3v4h-3zM792 375h2v4h-2zM805 375h2v4h-2zM624 379h2v3h-2zM716 379h2v3h-2zM729 379h2v3h-2zM758 379h2v3h-2zM778 379h3v3h-3zM792 379h2v3h-2zM805 379h2v3h-2zM786 382h3v4h-3zM700 386h2v4h-2zM716 386h2v4h-2zM729 386h2v4h-2zM768 386h3v4h-3zM813 386h2v4h-2zM697 390h3v4h-3zM702 390h3v4h-3zM737 390h2v4h-2zM658 394h3v4h-3zM645 398h2v4h-2zM692 398h3v4h-3zM697 398h3v4h-3zM758 398h2v4h-2zM658 402h3v4h-3zM752 406h3v4h-3z"/>
<path fill="#00ff59" d="M603 312h2v4h-2zM632 312h2v4h-2zM579 316h3v4h-3zM590 316h2v4h-2zM600 320h3v4h-3zM605 320h3v4h-3zM632 320h2v4h-2zM605 324h3v4h-3zM616 324h3v4h-3zM624 324h2v4h-2zM634 328h3v4h-3zM763 328h2v4h-2zM619 332h2v4h-2zM640 332h2v4h-2zM655 332h3v4h-3zM582 336h2v3h-2zM619 336h2v3h-2zM640 336h2v3h-2zM647 336h3v3h-3zM603 339h2v4h-2zM608 339h3v4h-3zM629 339h3v4h-3zM634 339h3v4h-3zM629 343h3v4h-3zM637 343h3v4h-3zM650 343h3v4h-3zM834 343h2v4h-2zM841 343h3v4h-3zM600 347h3v4h-3zM637 347h3v4h-3zM642 347h3v4h-3zM663 347h3v4h-3zM676 347h3v4h-3zM626 351h3v4h-3zM776 351h2v4h-2zM815 351h3v4h-3zM613 355h3v4h-3zM658 355h3v4h-3zM663 355h3v4h-3zM668 355h3v4h-3zM705 355h5v4h-5zM621 359h3v4h-3zM653 359h5v4h-5zM645 363h2v4h-2zM773 363h3v4h-3zM805 363h2v4h-2zM815 363h3v4h-3zM826 363h2v4h-2zM658 367h3v4h-3zM671 367h3v4h-3zM687 367h2v4h-2zM697 367h5v4h-5zM734 367h3v4h-3zM739 367h3v4h-3zM755 367h3v4h-3zM786 367h3v4h-3zM799 367h6v4h-6zM613 371h3v4h-3zM640 371h2v4h-2zM663 371h5v4h-5zM692 371h3v4h-3zM697 371h3v4h-3zM708 371h2v4h-2zM789 371h3v4h-3zM797 371h2v4h-2zM700 375h2v4h-2zM716 375h5v4h-5zM723 375h3v4h-3zM747 375h3v4h-3zM776 375h2v4h-2zM810 375h5v4h-5zM820 375h3v4h-3zM655 379h3v3h-3zM692 379h3v3h-3zM713 379h3v3h-3zM723 379h3v3h-3zM737 379h2v3h-2zM744 379h3v3h-3zM807 379h3v3h-3zM626 382h3v4h-3zM634 382h3v4h-3zM645 382h2v4h-2zM668 382h3v4h-3zM679 382h2v4h-2zM692 382h3v4h-3zM705 382h3v4h-3zM713 382h3v4h-3zM734 382h3v4h-3zM747 382h3v4h-3zM773 382h5v4h-5zM784 382h2v4h-2zM810 382h3v4h-3zM653 386h2v4h-2zM695 386h2v4h-2zM747 386h8v4h-8zM765 386h3v4h-3zM771 386h2v4h-2zM776 386h2v4h-2zM794 386h3v4h-3zM810 386h3v4h-3zM695 390h2v4h-2zM713 390h3v4h-3zM747 390h3v4h-3zM765 390h3v4h-3zM603 394h2v4h-2zM681 394h3v4h-3zM729 394h2v4h-2zM637 398h3v4h-3zM734 398h3v4h-3zM674 402h2v4h-2zM737 402h2v4h-2zM731 406h3v4h-3zM710 418h3v4h-3z"/>
<path fill="#00ff48" d="M605 312h3v4h-3zM613 312h3v4h-3zM640 312h2v4h-2zM600 316h3v4h-3zM605 316h3v4h-3zM598 320h2v4h-2zM621 320h5v4h-5zM634 320h3v4h-3zM621 324h3v4h-3zM634 324h3v4h-3zM642 324h3v4h-3zM592 328h6v4h-6zM608 328h3v4h-3zM616 328h3v4h-3zM626 328h3v4h-3zM637 328h5v4h-5zM616 332h3v4h-3zM600 336h3v3h-3zM613 336h3v3h-3zM592 339h3v4h-3zM613 339h3v4h-3zM624 339h2v4h-2zM650 339h3v4h-3zM587 343h3v4h-3zM613 343h3v4h-3zM634 343h3v4h-3zM640 343h2v4h-2zM587 347h3v4h-3zM616 347h3v4h-3zM647 347h3v4h-3zM616 351h3v4h-3zM647 351h3v4h-3zM655 351h3v4h-3zM671 351h3v4h-3zM592 355h3v4h-3zM624 355h2v4h-2zM632 355h2v4h-2zM647 355h3v4h-3zM802 355h3v4h-3zM813 355h2v4h-2zM637 359h3v4h-3zM674 359h5v4h-5zM797 359h2v4h-2zM802 359h3v4h-3zM600 363h3v4h-3zM616 363h3v4h-3zM624 363h5v4h-5zM661 363h2v4h-2zM666 363h2v4h-2zM702 363h3v4h-3zM818 363h2v4h-2zM632 367h2v4h-2zM653 367h2v4h-2zM676 367h3v4h-3zM723 367h3v4h-3zM792 367h2v4h-2zM797 367h2v4h-2zM828 367h3v4h-3zM592 371h3v4h-3zM684 371h3v4h-3zM742 371h2v4h-2zM752 371h3v4h-3zM758 371h2v4h-2zM813 371h2v4h-2zM611 375h2v4h-2zM626 375h3v4h-3zM647 375h3v4h-3zM655 375h3v4h-3zM661 375h2v4h-2zM721 375h2v4h-2zM729 375h2v4h-2zM739 375h3v4h-3zM781 375h3v4h-3zM818 375h2v4h-2zM645 379h2v3h-2zM676 379h3v3h-3zM695 379h2v3h-2zM776 379h2v3h-2zM784 379h5v3h-5zM813 379h2v3h-2zM603 382h2v4h-2zM621 382h3v4h-3zM661 382h5v4h-5zM702 382h3v4h-3zM708 382h2v4h-2zM721 382h2v4h-2zM731 382h3v4h-3zM752 382h3v4h-3zM792 382h2v4h-2zM799 382h3v4h-3zM815 382h3v4h-3zM655 386h3v4h-3zM663 386h3v4h-3zM692 386h3v4h-3zM705 386h3v4h-3zM721 386h5v4h-5zM744 386h3v4h-3zM760 386h3v4h-3zM784 386h2v4h-2zM805 386h2v4h-2zM640 390h2v4h-2zM645 390h2v4h-2zM655 390h3v4h-3zM705 390h3v4h-3zM721 390h2v4h-2zM726 390h5v4h-5zM734 390h3v4h-3zM744 390h3v4h-3zM750 390h2v4h-2zM755 390h3v4h-3zM802 390h3v4h-3zM650 394h3v4h-3zM689 394h3v4h-3zM700 394h2v4h-2zM731 394h3v4h-3zM737 394h2v4h-2zM747 394h5v4h-5zM773 394h3v4h-3zM650 398h3v4h-3zM681 398h3v4h-3zM702 398h3v4h-3zM726 398h3v4h-3zM731 398h3v4h-3zM742 398h2v4h-2zM752 398h3v4h-3zM805 398h2v4h-2zM642 402h3v4h-3zM710 402h3v4h-3zM729 402h2v4h-2zM739 402h5v4h-5zM752 402h3v4h-3zM718 406h3v4h-3zM773 406h3v4h-3zM702 414h6v4h-6zM760 414h3v4h-3zM763 418h2v4h-2zM747 422h3v4h-3z"/>
<path fill="#00ff38" d="M566 312h3v4h-3zM621 312h5v4h-5zM634 312h3v4h-3zM621 316h5v4h-5zM637 320h3v4h-3zM582 324h2v4h-2zM590 324h2v4h-2zM598 324h2v4h-2zM637 324h3v4h-3zM613 328h3v4h-3zM619 328h2v4h-2zM624 328h2v4h-2zM629 328h3v4h-3zM582 332h2v4h-2zM632 332h2v4h-2zM584 336h3v3h-3zM603 336h2v3h-2zM621 336h8v3h-8zM616 339h5v4h-5zM642 339h3v4h-3zM653 339h2v4h-2zM603 343h2v4h-2zM632 343h2v4h-2zM590 347h5v4h-5zM619 347h2v4h-2zM598 351h2v4h-2zM621 351h5v4h-5zM650 351h3v4h-3zM582 355h2v4h-2zM595 355h3v4h-3zM608 355h3v4h-3zM616 355h3v4h-3zM621 355h3v4h-3zM634 355h6v4h-6zM642 355h5v4h-5zM650 355h3v4h-3zM676 355h3v4h-3zM823 355h3v4h-3zM587 359h3v4h-3zM603 359h2v4h-2zM608 359h3v4h-3zM626 359h3v4h-3zM632 359h2v4h-2zM650 359h3v4h-3zM658 359h3v4h-3zM663 359h3v4h-3zM671 359h3v4h-3zM799 359h3v4h-3zM605 363h3v4h-3zM634 363h3v4h-3zM647 363h3v4h-3zM674 363h2v4h-2zM592 367h6v4h-6zM629 367h3v4h-3zM650 367h3v4h-3zM721 367h2v4h-2zM789 367h3v4h-3zM661 371h2v4h-2zM731 371h3v4h-3zM739 371h3v4h-3zM768 371h3v4h-3zM642 375h5v4h-5zM653 375h2v4h-2zM676 375h3v4h-3zM731 375h3v4h-3zM797 375h2v4h-2zM807 375h3v4h-3zM823 375h3v4h-3zM621 379h3v3h-3zM653 379h2v3h-2zM658 379h3v3h-3zM671 379h3v3h-3zM702 379h3v3h-3zM710 379h3v3h-3zM726 379h3v3h-3zM742 379h2v3h-2zM781 379h3v3h-3zM789 379h3v3h-3zM797 379h8v3h-8zM818 379h2v3h-2zM629 382h3v4h-3zM650 382h8v4h-8zM716 382h2v4h-2zM739 382h5v4h-5zM750 382h2v4h-2zM760 382h8v4h-8zM807 382h3v4h-3zM813 382h2v4h-2zM820 382h3v4h-3zM624 386h2v4h-2zM629 386h3v4h-3zM687 386h2v4h-2zM697 386h3v4h-3zM731 386h3v4h-3zM758 386h2v4h-2zM781 386h3v4h-3zM802 386h3v4h-3zM613 390h3v4h-3zM653 390h2v4h-2zM666 390h2v4h-2zM679 390h2v4h-2zM708 390h2v4h-2zM716 390h2v4h-2zM763 390h2v4h-2zM815 390h3v4h-3zM619 394h10v4h-10zM647 394h3v4h-3zM713 394h3v4h-3zM718 394h3v4h-3zM723 394h3v4h-3zM739 394h3v4h-3zM744 394h3v4h-3zM765 394h6v4h-6zM789 394h3v4h-3zM695 398h2v4h-2zM705 398h3v4h-3zM768 398h3v4h-3zM695 402h2v4h-2zM731 402h3v4h-3zM755 402h3v4h-3zM771 402h2v4h-2zM671 406h3v4h-3zM781 410h3v4h-3zM723 414h3v4h-3zM676 418h3v4h-3zM718 418h3v4h-3zM747 418h5v4h-5zM776 418h2v4h-2zM666 422h2v4h-2zM684 422h5v4h-5zM695 437h2v4h-2zM739 437h3v4h-3z"/>
<path fill="#00ff27" d="M577 312h2v4h-2zM584 312h3v4h-3zM598 312h2v4h-2zM608 312h5v4h-5zM637 312h3v4h-3zM584 316h3v4h-3zM603 316h2v4h-2zM632 316h2v4h-2zM584 320h3v4h-3zM626 320h6v4h-6zM595 324h3v4h-3zM603 324h2v4h-2zM611 324h2v4h-2zM629 324h3v4h-3zM582 328h2v4h-2zM598 328h5v4h-5zM590 332h5v4h-5zM605 332h3v4h-3zM642 332h5v4h-5zM579 336h3v3h-3zM592 336h3v3h-3zM611 336h2v3h-2zM616 336h3v3h-3zM579 339h3v4h-3zM584 339h3v4h-3zM579 343h3v4h-3zM584 343h3v4h-3zM600 343h3v4h-3zM605 343h3v4h-3zM624 343h2v4h-2zM584 347h3v4h-3zM629 347h5v4h-5zM640 347h2v4h-2zM595 351h3v4h-3zM619 351h2v4h-2zM642 351h3v4h-3zM658 351h3v4h-3zM571 355h3v4h-3zM626 355h3v4h-3zM592 359h3v4h-3zM600 359h3v4h-3zM605 359h3v4h-3zM613 359h8v4h-8zM826 359h2v4h-2zM629 363h5v4h-5zM671 363h3v4h-3zM598 367h2v4h-2zM619 367h2v4h-2zM624 367h2v4h-2zM642 367h3v4h-3zM647 367h3v4h-3zM674 367h2v4h-2zM587 371h3v4h-3zM595 371h3v4h-3zM605 371h3v4h-3zM624 371h2v4h-2zM650 371h5v4h-5zM668 371h3v4h-3zM674 371h5v4h-5zM773 371h3v4h-3zM805 371h2v4h-2zM826 371h2v4h-2zM577 375h2v4h-2zM624 375h2v4h-2zM640 375h2v4h-2zM671 375h3v4h-3zM734 375h3v4h-3zM786 375h3v4h-3zM826 375h2v4h-2zM600 379h3v3h-3zM605 379h3v3h-3zM626 379h3v3h-3zM637 379h3v3h-3zM642 379h3v3h-3zM661 379h2v3h-2zM750 379h2v3h-2zM765 379h3v3h-3zM773 379h3v3h-3zM695 382h2v4h-2zM710 382h3v4h-3zM729 382h2v4h-2zM778 382h3v4h-3zM789 382h3v4h-3zM818 382h2v4h-2zM598 386h2v4h-2zM613 386h3v4h-3zM619 386h5v4h-5zM632 386h2v4h-2zM637 386h3v4h-3zM645 386h2v4h-2zM650 386h3v4h-3zM661 386h2v4h-2zM666 386h2v4h-2zM708 386h2v4h-2zM718 386h3v4h-3zM739 386h3v4h-3zM799 386h3v4h-3zM818 386h2v4h-2zM590 390h2v4h-2zM621 390h5v4h-5zM634 390h3v4h-3zM647 390h3v4h-3zM658 390h3v4h-3zM689 390h3v4h-3zM700 390h2v4h-2zM723 390h3v4h-3zM739 390h3v4h-3zM752 390h3v4h-3zM758 390h2v4h-2zM792 390h5v4h-5zM799 390h3v4h-3zM807 390h3v4h-3zM813 390h2v4h-2zM653 394h5v4h-5zM661 394h2v4h-2zM674 394h2v4h-2zM679 394h2v4h-2zM721 394h2v4h-2zM734 394h3v4h-3zM778 394h3v4h-3zM805 394h2v4h-2zM653 398h2v4h-2zM666 398h2v4h-2zM687 398h2v4h-2zM621 402h3v4h-3zM684 402h3v4h-3zM734 402h3v4h-3zM760 402h3v4h-3zM773 402h3v4h-3zM781 402h3v4h-3zM710 406h3v4h-3zM723 406h3v4h-3zM729 406h2v4h-2zM765 406h6v4h-6zM805 406h2v4h-2zM647 410h3v4h-3zM668 410h3v4h-3zM695 410h2v4h-2zM747 410h3v4h-3zM797 410h2v4h-2zM771 414h2v4h-2zM695 418h2v4h-2zM742 418h5v4h-5zM773 418h3v4h-3zM676 422h3v4h-3zM697 422h3v4h-3zM713 422h3v4h-3zM647 426h3v4h-3zM697 430h3v3h-3zM721 430h2v3h-2z"/>
<path fill="#00ff17" d="M616 312h3v4h-3zM598 316h2v4h-2zM608 316h3v4h-3zM563 320h3v4h-3zM587 320h3v4h-3zM592 320h6v4h-6zM611 320h2v4h-2zM616 320h3v4h-3zM613 324h3v4h-3zM655 324h3v4h-3zM584 328h3v4h-3zM621 328h3v4h-3zM587 332h3v4h-3zM608 332h5v4h-5zM590 336h2v3h-2zM595 336h3v3h-3zM561 339h2v4h-2zM587 339h3v4h-3zM640 339h2v4h-2zM582 343h2v4h-2zM590 343h2v4h-2zM608 343h3v4h-3zM647 343h3v4h-3zM579 347h3v4h-3zM605 351h3v4h-3zM640 351h2v4h-2zM590 355h2v4h-2zM569 359h2v4h-2zM642 359h3v4h-3zM813 359h2v4h-2zM595 363h3v4h-3zM608 363h5v4h-5zM621 363h3v4h-3zM603 367h2v4h-2zM640 367h2v4h-2zM663 367h3v4h-3zM600 371h3v4h-3zM626 371h3v4h-3zM637 371h3v4h-3zM600 375h3v4h-3zM621 375h3v4h-3zM658 375h3v4h-3zM726 375h3v4h-3zM744 375h3v4h-3zM815 375h3v4h-3zM595 379h3v3h-3zM619 379h2v3h-2zM634 379h3v3h-3zM640 379h2v3h-2zM752 379h3v3h-3zM587 382h3v4h-3zM616 382h5v4h-5zM718 382h3v4h-3zM797 382h2v4h-2zM802 382h3v4h-3zM579 386h3v4h-3zM616 386h3v4h-3zM642 386h3v4h-3zM681 386h6v4h-6zM702 386h3v4h-3zM778 386h3v4h-3zM786 386h6v4h-6zM569 390h2v4h-2zM595 390h3v4h-3zM605 390h3v4h-3zM626 390h3v4h-3zM663 390h3v4h-3zM671 390h5v4h-5zM692 390h3v4h-3zM742 390h2v4h-2zM771 390h2v4h-2zM784 390h2v4h-2zM797 390h2v4h-2zM634 394h3v4h-3zM640 394h2v4h-2zM676 394h3v4h-3zM705 394h3v4h-3zM726 394h3v4h-3zM755 394h3v4h-3zM794 394h5v4h-5zM813 394h2v4h-2zM595 398h3v4h-3zM626 398h3v4h-3zM689 398h3v4h-3zM710 398h3v4h-3zM737 398h5v4h-5zM750 398h2v4h-2zM771 398h2v4h-2zM786 398h3v4h-3zM802 398h3v4h-3zM624 402h2v4h-2zM637 402h3v4h-3zM655 402h3v4h-3zM700 402h2v4h-2zM750 402h2v4h-2zM778 402h3v4h-3zM784 402h2v4h-2zM807 402h3v4h-3zM721 406h2v4h-2zM758 406h2v4h-2zM676 410h3v4h-3zM697 410h3v4h-3zM721 410h2v4h-2zM750 410h2v4h-2zM755 410h3v4h-3zM760 410h3v4h-3zM768 410h3v4h-3zM650 414h3v4h-3zM655 414h3v4h-3zM663 414h3v4h-3zM668 414h3v4h-3zM692 414h3v4h-3zM752 418h3v4h-3zM765 418h3v4h-3zM674 422h2v4h-2zM702 422h3v4h-3zM744 422h3v4h-3zM758 422h2v4h-2zM794 422h3v4h-3zM681 426h3v4h-3zM697 426h3v4h-3zM723 426h3v4h-3zM731 426h3v4h-3zM773 426h3v4h-3zM700 430h2v3h-2zM747 430h3v3h-3zM763 430h5v3h-5zM758 433h2v4h-2zM681 437h3v4h-3zM758 437h2v4h-2zM718 445h3v4h-3z"/>
<path fill="#00ff06" d="M587 312h3v4h-3zM587 316h3v4h-3zM613 316h3v4h-3zM619 316h2v4h-2zM561 320h2v4h-2zM566 320h3v4h-3zM574 320h3v4h-3zM561 324h2v4h-2zM584 324h3v4h-3zM600 324h3v4h-3zM608 324h3v4h-3zM632 324h2v4h-2zM566 328h3v4h-3zM571 328h3v4h-3zM577 328h2v4h-2zM605 328h3v4h-3zM611 328h2v4h-2zM632 328h2v4h-2zM577 332h2v4h-2zM629 332h3v4h-3zM566 336h3v3h-3zM571 336h3v3h-3zM598 339h2v4h-2zM598 343h2v4h-2zM616 343h3v4h-3zM608 347h3v4h-3zM626 347h3v4h-3zM587 351h3v4h-3zM592 351h3v4h-3zM611 351h2v4h-2zM598 355h5v4h-5zM605 355h3v4h-3zM611 355h2v4h-2zM595 359h5v4h-5zM582 363h2v4h-2zM598 363h2v4h-2zM613 363h3v4h-3zM590 367h2v4h-2zM621 367h3v4h-3zM768 367h3v4h-3zM590 371h2v4h-2zM611 371h2v4h-2zM629 371h3v4h-3zM645 371h2v4h-2zM658 371h3v4h-3zM574 375h3v4h-3zM587 375h3v4h-3zM605 375h3v4h-3zM613 375h3v4h-3zM674 375h2v4h-2zM687 375h2v4h-2zM737 375h2v4h-2zM768 375h3v4h-3zM603 379h2v3h-2zM608 379h3v3h-3zM663 379h3v3h-3zM674 379h2v3h-2zM820 379h3v3h-3zM571 382h3v4h-3zM658 382h3v4h-3zM674 382h2v4h-2zM687 382h2v4h-2zM584 386h3v4h-3zM626 386h3v4h-3zM671 386h5v4h-5zM679 386h2v4h-2zM726 386h3v4h-3zM603 390h2v4h-2zM608 390h3v4h-3zM616 390h3v4h-3zM632 390h2v4h-2zM637 390h3v4h-3zM676 390h3v4h-3zM684 390h5v4h-5zM718 390h3v4h-3zM768 390h3v4h-3zM781 390h3v4h-3zM708 394h2v4h-2zM716 394h2v4h-2zM763 394h2v4h-2zM786 394h3v4h-3zM799 394h3v4h-3zM603 398h5v4h-5zM621 398h3v4h-3zM632 398h2v4h-2zM658 398h3v4h-3zM668 398h3v4h-3zM674 398h5v4h-5zM708 398h2v4h-2zM718 398h8v4h-8zM763 398h2v4h-2zM773 398h5v4h-5zM807 398h3v4h-3zM645 402h2v4h-2zM650 402h3v4h-3zM676 402h3v4h-3zM689 402h3v4h-3zM702 402h3v4h-3zM713 402h3v4h-3zM776 402h2v4h-2zM650 406h3v4h-3zM655 406h3v4h-3zM684 406h3v4h-3zM697 406h3v4h-3zM726 406h3v4h-3zM771 406h2v4h-2zM786 406h3v4h-3zM634 410h3v4h-3zM666 410h2v4h-2zM679 410h2v4h-2zM718 410h3v4h-3zM771 410h2v4h-2zM794 410h3v4h-3zM697 414h3v4h-3zM718 414h3v4h-3zM729 414h2v4h-2zM744 414h6v4h-6zM752 414h3v4h-3zM802 414h3v4h-3zM684 418h3v4h-3zM702 418h3v4h-3zM768 418h3v4h-3zM778 418h3v4h-3zM792 418h2v4h-2zM705 422h3v4h-3zM729 422h2v4h-2zM739 422h3v4h-3zM750 422h2v4h-2zM760 422h3v4h-3zM655 426h3v4h-3zM695 426h2v4h-2zM702 426h3v4h-3zM739 426h5v4h-5zM663 430h3v3h-3zM692 430h3v3h-3zM702 430h3v3h-3zM726 430h3v3h-3zM734 430h3v3h-3zM742 430h2v3h-2zM755 430h3v3h-3zM705 433h3v4h-3zM742 433h2v4h-2zM689 445h3v4h-3zM760 445h3v4h-3zM723 453h3v4h-3z"/>
<path fill="#11ff00" d="M569 312h2v4h-2zM574 312h3v4h-3zM579 312h3v4h-3zM592 312h3v4h-3zM558 316h3v4h-3zM574 316h3v4h-3zM582 316h2v4h-2zM563 324h3v4h-3zM592 324h3v4h-3zM626 324h3v4h-3zM579 332h3v4h-3zM595 332h8v4h-8zM621 332h3v4h-3zM577 336h2v3h-2zM587 336h3v3h-3zM598 336h2v3h-2zM571 339h3v4h-3zM577 339h2v4h-2zM582 339h2v4h-2zM590 339h2v4h-2zM595 339h3v4h-3zM600 339h3v4h-3zM592 343h6v4h-6zM577 347h2v4h-2zM582 347h2v4h-2zM605 347h3v4h-3zM582 351h5v4h-5zM574 355h3v4h-3zM579 355h3v4h-3zM579 359h3v4h-3zM590 359h2v4h-2zM611 359h2v4h-2zM584 363h3v4h-3zM590 363h2v4h-2zM561 367h2v4h-2zM600 367h3v4h-3zM637 367h3v4h-3zM645 367h2v4h-2zM566 371h3v4h-3zM577 371h2v4h-2zM590 375h2v4h-2zM616 375h3v4h-3zM574 379h3v3h-3zM611 379h2v3h-2zM616 379h3v3h-3zM632 379h2v3h-2zM647 379h3v3h-3zM666 379h5v3h-5zM810 379h3v3h-3zM624 382h2v4h-2zM632 382h2v4h-2zM637 382h3v4h-3zM671 382h3v4h-3zM676 382h3v4h-3zM794 382h3v4h-3zM600 386h3v4h-3zM608 386h5v4h-5zM640 386h2v4h-2zM647 386h3v4h-3zM742 386h2v4h-2zM773 386h3v4h-3zM797 386h2v4h-2zM807 386h3v4h-3zM584 390h3v4h-3zM598 390h2v4h-2zM661 390h2v4h-2zM760 390h3v4h-3zM789 390h3v4h-3zM605 394h3v4h-3zM611 394h2v4h-2zM645 394h2v4h-2zM666 394h2v4h-2zM697 394h3v4h-3zM702 394h3v4h-3zM758 394h5v4h-5zM771 394h2v4h-2zM776 394h2v4h-2zM616 398h3v4h-3zM661 398h2v4h-2zM679 398h2v4h-2zM713 398h3v4h-3zM744 398h3v4h-3zM760 398h3v4h-3zM765 398h3v4h-3zM789 398h5v4h-5zM600 402h3v4h-3zM647 402h3v4h-3zM653 402h2v4h-2zM671 402h3v4h-3zM681 402h3v4h-3zM718 402h5v4h-5zM744 402h6v4h-6zM765 402h6v4h-6zM789 402h5v4h-5zM608 406h3v4h-3zM619 406h2v4h-2zM658 406h3v4h-3zM689 406h6v4h-6zM700 406h2v4h-2zM737 406h5v4h-5zM760 406h3v4h-3zM792 406h2v4h-2zM611 410h2v4h-2zM640 410h2v4h-2zM684 410h3v4h-3zM692 410h3v4h-3zM708 410h2v4h-2zM716 410h2v4h-2zM737 410h2v4h-2zM744 410h3v4h-3zM773 410h3v4h-3zM666 414h2v4h-2zM674 414h2v4h-2zM679 414h2v4h-2zM687 414h2v4h-2zM716 414h2v4h-2zM737 414h2v4h-2zM755 414h3v4h-3zM789 414h5v4h-5zM642 418h3v4h-3zM687 418h2v4h-2zM716 418h2v4h-2zM731 418h3v4h-3zM755 418h3v4h-3zM645 422h2v4h-2zM695 422h2v4h-2zM700 422h2v4h-2zM721 422h2v4h-2zM726 422h3v4h-3zM776 422h2v4h-2zM786 422h3v4h-3zM692 426h3v4h-3zM700 426h2v4h-2zM713 426h3v4h-3zM721 426h2v4h-2zM647 430h3v3h-3zM750 430h2v3h-2zM768 430h3v3h-3zM786 430h3v3h-3zM702 437h3v4h-3zM713 437h3v4h-3zM768 437h3v4h-3zM674 445h2v4h-2zM716 445h2v4h-2zM744 445h3v4h-3zM750 445h2v4h-2zM755 449h3v4h-3z"/>
<path fill="#2cff00" d="M590 312h2v4h-2zM595 312h3v4h-3zM595 316h3v4h-3zM611 316h2v4h-2zM558 320h3v4h-3zM582 320h2v4h-2zM590 320h2v4h-2zM569 324h2v4h-2zM561 332h2v4h-2zM571 332h6v4h-6zM561 336h5v3h-5zM605 336h3v3h-3zM561 343h2v4h-2zM571 343h8v4h-8zM611 343h2v4h-2zM561 347h5v4h-5zM571 347h3v4h-3zM571 351h3v4h-3zM577 351h2v4h-2zM584 359h3v4h-3zM569 363h2v4h-2zM587 363h3v4h-3zM603 363h2v4h-2zM571 367h3v4h-3zM577 367h2v4h-2zM608 367h3v4h-3zM655 367h3v4h-3zM603 371h2v4h-2zM561 375h2v4h-2zM582 375h2v4h-2zM592 375h3v4h-3zM598 375h2v4h-2zM802 375h3v4h-3zM571 379h3v3h-3zM794 379h3v3h-3zM582 382h2v4h-2zM590 382h2v4h-2zM595 382h5v4h-5zM605 382h3v4h-3zM681 382h6v4h-6zM744 382h3v4h-3zM566 386h3v4h-3zM605 386h3v4h-3zM611 390h2v4h-2zM668 390h3v4h-3zM681 390h3v4h-3zM773 390h8v4h-8zM786 390h3v4h-3zM805 390h2v4h-2zM579 394h3v4h-3zM584 394h3v4h-3zM592 394h3v4h-3zM616 394h3v4h-3zM629 394h5v4h-5zM684 394h3v4h-3zM742 394h2v4h-2zM807 394h3v4h-3zM815 394h3v4h-3zM592 398h3v4h-3zM608 398h3v4h-3zM624 398h2v4h-2zM684 398h3v4h-3zM729 398h2v4h-2zM778 398h3v4h-3zM794 398h8v4h-8zM584 402h6v4h-6zM605 402h3v4h-3zM611 402h2v4h-2zM626 402h3v4h-3zM634 402h3v4h-3zM663 402h3v4h-3zM679 402h2v4h-2zM687 402h2v4h-2zM758 402h2v4h-2zM763 402h2v4h-2zM794 402h8v4h-8zM616 406h3v4h-3zM629 406h3v4h-3zM634 406h6v4h-6zM653 406h2v4h-2zM676 406h3v4h-3zM687 406h2v4h-2zM708 406h2v4h-2zM713 406h5v4h-5zM744 406h3v4h-3zM778 406h3v4h-3zM577 410h2v4h-2zM590 410h5v4h-5zM650 410h5v4h-5zM661 410h2v4h-2zM726 410h3v4h-3zM731 410h3v4h-3zM739 410h3v4h-3zM763 410h5v4h-5zM802 410h3v4h-3zM653 414h2v4h-2zM671 414h3v4h-3zM681 414h3v4h-3zM700 414h2v4h-2zM721 414h2v4h-2zM731 414h3v4h-3zM763 414h2v4h-2zM768 414h3v4h-3zM781 414h3v4h-3zM679 418h5v4h-5zM697 418h3v4h-3zM705 418h3v4h-3zM713 418h3v4h-3zM723 418h3v4h-3zM729 418h2v4h-2zM739 418h3v4h-3zM760 418h3v4h-3zM784 418h5v4h-5zM650 422h3v4h-3zM679 422h5v4h-5zM731 422h3v4h-3zM742 422h2v4h-2zM755 422h3v4h-3zM773 422h3v4h-3zM726 426h3v4h-3zM737 426h2v4h-2zM768 426h3v4h-3zM776 426h2v4h-2zM786 426h3v4h-3zM792 426h2v4h-2zM713 430h5v3h-5zM758 430h2v3h-2zM771 430h2v3h-2zM778 430h3v3h-3zM794 430h3v3h-3zM642 433h3v4h-3zM692 433h3v4h-3zM726 433h3v4h-3zM752 433h3v4h-3zM760 433h3v4h-3zM773 433h5v4h-5zM729 437h2v4h-2zM755 437h3v4h-3zM778 437h3v4h-3zM676 441h3v4h-3zM692 441h3v4h-3zM721 441h5v4h-5zM734 441h3v4h-3zM681 445h3v4h-3zM747 445h3v4h-3zM773 445h3v4h-3zM752 449h3v4h-3zM739 461h3v4h-3z"/>
<path fill="#46ff00" d="M582 312h2v4h-2zM569 316h5v4h-5zM577 316h2v4h-2zM569 320h2v4h-2zM566 324h3v4h-3zM571 324h3v4h-3zM577 324h2v4h-2zM579 328h3v4h-3zM590 328h2v4h-2zM569 336h2v3h-2zM574 347h3v4h-3zM650 347h3v4h-3zM574 351h3v4h-3zM590 351h2v4h-2zM577 355h2v4h-2zM584 355h3v4h-3zM566 359h3v4h-3zM558 363h3v4h-3zM577 363h2v4h-2zM592 363h3v4h-3zM655 363h3v4h-3zM566 367h3v4h-3zM579 367h3v4h-3zM605 367h3v4h-3zM611 367h8v4h-8zM563 371h3v4h-3zM571 371h3v4h-3zM584 371h3v4h-3zM571 375h3v4h-3zM603 375h2v4h-2zM619 375h2v4h-2zM778 375h3v4h-3zM563 379h3v3h-3zM629 379h3v3h-3zM687 379h2v3h-2zM563 382h3v4h-3zM579 382h3v4h-3zM584 382h3v4h-3zM592 382h3v4h-3zM608 382h8v4h-8zM592 386h6v4h-6zM603 386h2v4h-2zM658 386h3v4h-3zM668 386h3v4h-3zM689 386h3v4h-3zM792 386h2v4h-2zM582 390h2v4h-2zM587 394h3v4h-3zM608 394h3v4h-3zM613 394h3v4h-3zM642 394h3v4h-3zM687 394h2v4h-2zM692 394h5v4h-5zM781 394h5v4h-5zM792 394h2v4h-2zM611 398h2v4h-2zM634 398h3v4h-3zM640 398h2v4h-2zM655 398h3v4h-3zM663 398h3v4h-3zM671 398h3v4h-3zM700 398h2v4h-2zM781 398h3v4h-3zM579 402h3v4h-3zM668 402h3v4h-3zM708 402h2v4h-2zM716 402h2v4h-2zM805 402h2v4h-2zM582 406h5v4h-5zM592 406h3v4h-3zM598 406h2v4h-2zM621 406h3v4h-3zM679 406h2v4h-2zM747 406h3v4h-3zM755 406h3v4h-3zM781 406h3v4h-3zM802 406h3v4h-3zM598 410h2v4h-2zM626 410h3v4h-3zM632 410h2v4h-2zM637 410h3v4h-3zM655 410h6v4h-6zM663 410h3v4h-3zM689 410h3v4h-3zM710 410h3v4h-3zM723 410h3v4h-3zM729 410h2v4h-2zM758 410h2v4h-2zM784 410h5v4h-5zM792 410h2v4h-2zM799 410h3v4h-3zM805 410h2v4h-2zM584 414h3v4h-3zM629 414h3v4h-3zM637 414h3v4h-3zM647 414h3v4h-3zM695 414h2v4h-2zM734 414h3v4h-3zM778 414h3v4h-3zM786 414h3v4h-3zM794 414h5v4h-5zM645 418h2v4h-2zM658 418h3v4h-3zM663 418h3v4h-3zM671 418h3v4h-3zM721 418h2v4h-2zM737 418h2v4h-2zM781 418h3v4h-3zM807 418h3v4h-3zM716 422h2v4h-2zM734 422h5v4h-5zM765 422h3v4h-3zM771 422h2v4h-2zM684 426h3v4h-3zM705 426h3v4h-3zM710 426h3v4h-3zM755 426h3v4h-3zM760 426h3v4h-3zM765 426h3v4h-3zM637 430h3v3h-3zM661 430h2v3h-2zM739 430h3v3h-3zM760 430h3v3h-3zM776 430h2v3h-2zM784 430h2v3h-2zM789 430h3v3h-3zM695 433h2v4h-2zM755 433h3v4h-3zM771 433h2v4h-2zM784 433h2v4h-2zM663 441h5v4h-5zM681 441h3v4h-3zM705 441h3v4h-3zM731 445h3v4h-3zM739 445h3v4h-3zM763 445h2v4h-2zM674 449h2v4h-2zM726 449h3v4h-3zM747 449h3v4h-3zM705 453h3v4h-3zM755 453h3v4h-3z"/>
<path fill="#61ff00" d="M592 316h3v4h-3zM579 320h3v4h-3zM561 328h5v4h-5zM569 328h2v4h-2zM574 328h3v4h-3zM587 328h3v4h-3zM608 336h3v3h-3zM563 339h3v4h-3zM569 339h2v4h-2zM574 339h3v4h-3zM563 343h6v4h-6zM579 351h3v4h-3zM603 351h2v4h-2zM558 355h3v4h-3zM587 355h3v4h-3zM574 359h3v4h-3zM582 359h2v4h-2zM574 363h3v4h-3zM574 367h3v4h-3zM579 375h3v4h-3zM584 375h3v4h-3zM595 375h3v4h-3zM663 375h5v4h-5zM582 379h2v3h-2zM592 379h3v3h-3zM613 379h3v3h-3zM700 379h2v3h-2zM577 382h2v4h-2zM647 382h3v4h-3zM666 382h2v4h-2zM577 386h2v4h-2zM582 386h2v4h-2zM587 386h3v4h-3zM577 390h5v4h-5zM600 390h3v4h-3zM629 390h3v4h-3zM566 394h3v4h-3zM577 394h2v4h-2zM595 394h3v4h-3zM600 394h3v4h-3zM663 394h3v4h-3zM802 394h3v4h-3zM574 398h5v4h-5zM584 398h3v4h-3zM590 398h2v4h-2zM598 398h2v4h-2zM613 398h3v4h-3zM629 398h3v4h-3zM716 398h2v4h-2zM577 402h2v4h-2zM595 402h3v4h-3zM608 402h3v4h-3zM629 402h3v4h-3zM705 402h3v4h-3zM723 402h3v4h-3zM632 406h2v4h-2zM640 406h2v4h-2zM663 406h5v4h-5zM705 406h3v4h-3zM734 406h3v4h-3zM763 406h2v4h-2zM776 406h2v4h-2zM789 406h3v4h-3zM807 406h6v4h-6zM629 410h3v4h-3zM645 410h2v4h-2zM674 410h2v4h-2zM705 410h3v4h-3zM734 410h3v4h-3zM742 410h2v4h-2zM776 410h2v4h-2zM621 414h3v4h-3zM632 414h2v4h-2zM640 414h2v4h-2zM658 414h3v4h-3zM676 414h3v4h-3zM708 414h8v4h-8zM739 414h5v4h-5zM758 414h2v4h-2zM784 414h2v4h-2zM632 418h2v4h-2zM653 418h2v4h-2zM674 418h2v4h-2zM708 418h2v4h-2zM726 418h3v4h-3zM794 418h3v4h-3zM655 422h3v4h-3zM710 422h3v4h-3zM723 422h3v4h-3zM778 422h3v4h-3zM784 422h2v4h-2zM671 426h3v4h-3zM689 426h3v4h-3zM716 426h2v4h-2zM734 426h3v4h-3zM750 426h2v4h-2zM763 426h2v4h-2zM771 426h2v4h-2zM640 430h2v3h-2zM671 430h3v3h-3zM684 430h5v3h-5zM729 430h2v3h-2zM737 430h2v3h-2zM781 430h3v3h-3zM637 433h3v4h-3zM653 433h2v4h-2zM671 433h3v4h-3zM679 433h2v4h-2zM689 433h3v4h-3zM700 433h5v4h-5zM731 433h3v4h-3zM747 433h3v4h-3zM778 433h3v4h-3zM786 433h6v4h-6zM647 437h3v4h-3zM655 437h3v4h-3zM687 437h2v4h-2zM692 437h3v4h-3zM723 437h3v4h-3zM742 437h2v4h-2zM750 437h5v4h-5zM784 437h2v4h-2zM789 437h3v4h-3zM647 441h3v4h-3zM710 441h3v4h-3zM729 441h2v4h-2zM739 441h3v4h-3zM744 441h3v4h-3zM663 445h3v4h-3zM768 445h3v4h-3zM776 445h2v4h-2zM731 449h3v4h-3zM750 453h2v4h-2zM760 453h3v4h-3zM671 457h3v4h-3z"/>
<path fill="#7bff00" d="M571 312h3v4h-3zM577 320h2v4h-2zM574 324h3v4h-3zM566 332h3v4h-3zM566 347h5v4h-5zM598 347h2v4h-2zM561 351h5v4h-5zM569 351h2v4h-2zM569 355h2v4h-2zM571 359h3v4h-3zM561 363h2v4h-2zM571 363h3v4h-3zM582 367h5v4h-5zM608 371h3v4h-3zM616 371h3v4h-3zM598 379h2v3h-2zM574 382h3v4h-3zM600 382h3v4h-3zM571 386h3v4h-3zM563 390h3v4h-3zM574 390h3v4h-3zM592 390h3v4h-3zM650 390h3v4h-3zM569 394h2v4h-2zM574 394h3v4h-3zM582 394h2v4h-2zM598 394h2v4h-2zM671 394h3v4h-3zM600 398h3v4h-3zM784 398h2v4h-2zM574 402h3v4h-3zM613 402h3v4h-3zM619 402h2v4h-2zM640 402h2v4h-2zM661 402h2v4h-2zM697 402h3v4h-3zM802 402h3v4h-3zM590 406h2v4h-2zM642 406h3v4h-3zM647 406h3v4h-3zM674 406h2v4h-2zM742 406h2v4h-2zM799 406h3v4h-3zM713 410h3v4h-3zM752 410h3v4h-3zM778 410h3v4h-3zM789 410h3v4h-3zM619 414h2v4h-2zM634 414h3v4h-3zM642 414h3v4h-3zM689 414h3v4h-3zM726 414h3v4h-3zM810 414h3v4h-3zM650 418h3v4h-3zM666 418h2v4h-2zM700 418h2v4h-2zM758 418h2v4h-2zM771 418h2v4h-2zM797 418h2v4h-2zM626 422h3v4h-3zM642 422h3v4h-3zM658 422h3v4h-3zM752 422h3v4h-3zM763 422h2v4h-2zM768 422h3v4h-3zM781 422h3v4h-3zM789 422h3v4h-3zM799 422h3v4h-3zM645 426h2v4h-2zM708 426h2v4h-2zM718 426h3v4h-3zM778 426h3v4h-3zM789 426h3v4h-3zM802 426h3v4h-3zM642 430h3v3h-3zM650 430h3v3h-3zM674 430h2v3h-2zM679 430h2v3h-2zM695 430h2v3h-2zM705 430h3v3h-3zM710 430h3v3h-3zM718 430h3v3h-3zM744 430h3v3h-3zM645 433h2v4h-2zM655 433h3v4h-3zM666 433h2v4h-2zM676 433h3v4h-3zM734 433h5v4h-5zM744 433h3v4h-3zM750 433h2v4h-2zM781 433h3v4h-3zM650 437h3v4h-3zM697 437h3v4h-3zM708 437h5v4h-5zM716 437h2v4h-2zM731 437h3v4h-3zM737 437h2v4h-2zM731 441h3v4h-3zM742 441h2v4h-2zM750 441h2v4h-2zM771 441h2v4h-2zM687 445h2v4h-2zM713 445h3v4h-3zM729 445h2v4h-2zM705 449h3v4h-3zM710 449h3v4h-3zM718 449h3v4h-3zM668 453h3v4h-3zM676 453h3v4h-3zM687 453h2v4h-2zM713 453h3v4h-3zM726 453h3v4h-3zM739 453h3v4h-3zM747 453h3v4h-3zM752 453h3v4h-3zM758 453h2v4h-2zM765 453h3v4h-3zM663 457h3v4h-3zM726 457h3v4h-3zM666 461h2v4h-2z"/>
<path fill="#96ff00" d="M579 324h3v4h-3zM587 324h3v4h-3zM563 332h3v4h-3zM584 332h3v4h-3zM569 343h2v4h-2zM558 359h3v4h-3zM563 359h3v4h-3zM577 359h2v4h-2zM566 363h3v4h-3zM579 363h3v4h-3zM569 371h2v4h-2zM579 371h3v4h-3zM566 375h3v4h-3zM561 379h2v3h-2zM577 379h5v3h-5zM584 379h3v3h-3zM561 382h2v4h-2zM563 386h3v4h-3zM566 390h3v4h-3zM590 394h2v4h-2zM637 394h3v4h-3zM582 398h2v4h-2zM587 398h3v4h-3zM619 398h2v4h-2zM642 398h3v4h-3zM747 398h3v4h-3zM569 402h2v4h-2zM592 402h3v4h-3zM666 402h2v4h-2zM692 402h3v4h-3zM786 402h3v4h-3zM579 406h3v4h-3zM587 406h3v4h-3zM603 406h2v4h-2zM611 406h2v4h-2zM626 406h3v4h-3zM645 406h2v4h-2zM661 406h2v4h-2zM668 406h3v4h-3zM784 406h2v4h-2zM794 406h3v4h-3zM579 410h3v4h-3zM600 410h3v4h-3zM616 410h3v4h-3zM624 410h2v4h-2zM642 410h3v4h-3zM687 410h2v4h-2zM700 410h5v4h-5zM807 410h3v4h-3zM577 414h2v4h-2zM598 414h2v4h-2zM626 414h3v4h-3zM661 414h2v4h-2zM765 414h3v4h-3zM773 414h3v4h-3zM805 414h2v4h-2zM619 418h2v4h-2zM624 418h2v4h-2zM640 418h2v4h-2zM661 418h2v4h-2zM689 418h3v4h-3zM734 418h3v4h-3zM789 418h3v4h-3zM802 418h5v4h-5zM637 422h3v4h-3zM663 422h3v4h-3zM708 422h2v4h-2zM792 422h2v4h-2zM637 426h3v4h-3zM650 426h3v4h-3zM679 426h2v4h-2zM687 426h2v4h-2zM729 426h2v4h-2zM744 426h6v4h-6zM632 430h5v3h-5zM681 430h3v3h-3zM731 430h3v3h-3zM687 433h2v4h-2zM710 433h6v4h-6zM718 433h3v4h-3zM739 433h3v4h-3zM763 433h2v4h-2zM794 433h3v4h-3zM658 437h3v4h-3zM676 437h3v4h-3zM726 437h3v4h-3zM734 437h3v4h-3zM744 437h6v4h-6zM765 437h3v4h-3zM786 437h3v4h-3zM671 441h5v4h-5zM689 441h3v4h-3zM702 441h3v4h-3zM726 441h3v4h-3zM737 441h2v4h-2zM752 441h3v4h-3zM760 441h3v4h-3zM784 441h2v4h-2zM637 445h3v4h-3zM695 445h5v4h-5zM702 445h3v4h-3zM755 445h3v4h-3zM765 445h3v4h-3zM784 445h2v4h-2zM689 449h3v4h-3zM744 449h3v4h-3zM737 453h2v4h-2zM763 453h2v4h-2zM768 453h3v4h-3zM702 457h3v4h-3zM700 461h2v4h-2zM737 461h2v4h-2z"/>
<path fill="#b0ff00" d="M571 320h3v4h-3zM574 336h3v3h-3zM566 339h3v4h-3zM561 355h2v4h-2zM566 355h3v4h-3zM561 359h2v4h-2zM561 371h2v4h-2zM574 371h3v4h-3zM598 371h2v4h-2zM608 375h3v4h-3zM566 382h5v4h-5zM561 386h2v4h-2zM587 390h3v4h-3zM668 394h3v4h-3zM579 398h3v4h-3zM632 402h2v4h-2zM571 406h3v4h-3zM605 406h3v4h-3zM624 406h2v4h-2zM797 406h2v4h-2zM584 410h3v4h-3zM608 410h3v4h-3zM613 410h3v4h-3zM619 410h2v4h-2zM810 410h3v4h-3zM684 414h3v4h-3zM776 414h2v4h-2zM582 418h5v4h-5zM692 418h3v4h-3zM611 422h2v4h-2zM619 422h2v4h-2zM647 422h3v4h-3zM661 422h2v4h-2zM668 422h3v4h-3zM692 422h3v4h-3zM718 422h3v4h-3zM640 426h5v4h-5zM661 426h2v4h-2zM666 426h2v4h-2zM752 426h3v4h-3zM758 426h2v4h-2zM794 426h3v4h-3zM658 430h3v3h-3zM676 430h3v3h-3zM689 430h3v3h-3zM723 430h3v3h-3zM773 430h3v3h-3zM634 433h3v4h-3zM684 433h3v4h-3zM723 433h3v4h-3zM765 433h6v4h-6zM792 433h2v4h-2zM666 437h2v4h-2zM721 437h2v4h-2zM763 437h2v4h-2zM658 441h3v4h-3zM747 441h3v4h-3zM773 441h5v4h-5zM640 445h2v4h-2zM661 445h2v4h-2zM734 445h3v4h-3zM758 445h2v4h-2zM655 449h8v4h-8zM666 449h2v4h-2zM750 449h2v4h-2zM763 449h2v4h-2zM692 453h3v4h-3zM708 453h5v4h-5zM744 453h3v4h-3zM710 461h3v4h-3zM726 461h3v4h-3zM734 465h3v4h-3z"/>
<path fill="#cbff00" d="M569 332h2v4h-2zM566 351h3v4h-3zM563 363h3v4h-3zM587 367h3v4h-3zM590 379h2v3h-2zM569 386h2v4h-2zM574 386h3v4h-3zM590 386h2v4h-2zM571 402h3v4h-3zM582 402h2v4h-2zM590 402h2v4h-2zM616 402h3v4h-3zM595 406h3v4h-3zM681 406h3v4h-3zM681 410h3v4h-3zM574 414h3v4h-3zM579 414h3v4h-3zM592 414h3v4h-3zM608 414h3v4h-3zM799 414h3v4h-3zM598 418h2v4h-2zM621 418h3v4h-3zM647 418h3v4h-3zM668 418h3v4h-3zM595 422h3v4h-3zM632 422h2v4h-2zM640 422h2v4h-2zM653 422h2v4h-2zM797 422h2v4h-2zM634 426h3v4h-3zM668 426h3v4h-3zM784 426h2v4h-2zM668 430h3v3h-3zM708 430h2v3h-2zM752 430h3v3h-3zM661 433h5v4h-5zM708 433h2v4h-2zM716 433h2v4h-2zM729 433h2v4h-2zM700 437h2v4h-2zM771 437h5v4h-5zM684 441h3v4h-3zM695 441h2v4h-2zM700 441h2v4h-2zM755 441h3v4h-3zM763 441h2v4h-2zM768 441h3v4h-3zM778 441h6v4h-6zM655 445h3v4h-3zM723 445h3v4h-3zM737 445h2v4h-2zM752 445h3v4h-3zM778 445h3v4h-3zM671 449h3v4h-3zM695 449h2v4h-2zM729 449h2v4h-2zM734 449h3v4h-3zM758 449h2v4h-2zM778 449h3v4h-3zM666 453h2v4h-2zM689 453h3v4h-3zM716 453h2v4h-2zM676 457h3v4h-3zM708 457h5v4h-5zM718 457h3v4h-3zM729 457h2v4h-2zM771 457h2v4h-2zM776 457h2v4h-2zM734 461h3v4h-3z"/>
<path fill="#e5ff00" d="M563 355h3v4h-3zM563 367h3v4h-3zM582 371h2v4h-2zM569 375h2v4h-2zM558 379h3v3h-3zM569 379h2v3h-2zM571 390h3v4h-3zM571 398h3v4h-3zM598 402h2v4h-2zM600 406h3v4h-3zM613 406h3v4h-3zM574 410h3v4h-3zM582 410h2v4h-2zM603 410h2v4h-2zM621 410h3v4h-3zM671 410h3v4h-3zM605 414h3v4h-3zM616 414h3v4h-3zM624 414h2v4h-2zM645 414h2v4h-2zM750 414h2v4h-2zM603 418h2v4h-2zM637 418h3v4h-3zM655 418h3v4h-3zM799 418h3v4h-3zM613 422h3v4h-3zM634 422h3v4h-3zM584 426h3v4h-3zM674 426h5v4h-5zM781 426h3v4h-3zM797 426h2v4h-2zM655 430h3v3h-3zM666 430h2v3h-2zM792 430h2v3h-2zM632 433h2v4h-2zM640 433h2v4h-2zM650 433h3v4h-3zM600 437h3v4h-3zM642 437h3v4h-3zM653 437h2v4h-2zM674 437h2v4h-2zM650 441h3v4h-3zM713 441h5v4h-5zM765 441h3v4h-3zM624 445h2v4h-2zM671 445h3v4h-3zM692 445h3v4h-3zM771 445h2v4h-2zM700 449h2v4h-2zM708 449h2v4h-2zM742 449h2v4h-2zM776 449h2v4h-2zM681 453h3v4h-3zM718 453h5v4h-5zM729 453h2v4h-2zM771 453h2v4h-2zM776 453h2v4h-2zM681 457h3v4h-3zM689 457h3v4h-3zM716 457h2v4h-2zM734 457h3v4h-3zM773 457h3v4h-3zM692 461h3v4h-3zM708 465h2v4h-2zM737 465h2v4h-2zM778 473h3v3h-3z"/>
<path fill="#ffff00" d="M569 367h2v4h-2zM563 375h3v4h-3zM566 379h3v3h-3zM587 379h3v3h-3zM571 394h3v4h-3zM574 406h3v4h-3zM582 414h2v4h-2zM587 414h3v4h-3zM807 414h3v4h-3zM577 418h5v4h-5zM587 418h3v4h-3zM592 418h3v4h-3zM613 418h3v4h-3zM626 418h3v4h-3zM634 418h3v4h-3zM584 422h3v4h-3zM598 422h2v4h-2zM616 422h3v4h-3zM621 422h5v4h-5zM805 422h2v4h-2zM611 426h2v4h-2zM619 426h2v4h-2zM629 426h5v4h-5zM658 426h3v4h-3zM592 430h6v3h-6zM608 430h3v3h-3zM624 430h2v3h-2zM629 430h3v3h-3zM629 433h3v4h-3zM658 433h3v4h-3zM668 433h3v4h-3zM671 437h3v4h-3zM705 437h3v4h-3zM760 437h3v4h-3zM645 441h2v4h-2zM661 441h2v4h-2zM758 441h2v4h-2zM679 445h2v4h-2zM708 445h5v4h-5zM726 445h3v4h-3zM663 449h3v4h-3zM668 449h3v4h-3zM679 449h2v4h-2zM697 449h3v4h-3zM702 449h3v4h-3zM713 449h3v4h-3zM723 449h3v4h-3zM661 453h5v4h-5zM674 453h2v4h-2zM742 453h2v4h-2zM781 453h3v4h-3zM668 457h3v4h-3zM674 457h2v4h-2zM684 457h3v4h-3zM692 457h3v4h-3zM723 457h3v4h-3zM731 457h3v4h-3zM760 457h5v4h-5zM768 457h3v4h-3zM708 461h2v4h-2zM729 461h5v4h-5zM700 469h2v4h-2zM705 469h3v4h-3z"/>
<path fill="#fff300" d="M569 398h2v4h-2zM577 406h2v4h-2zM587 410h3v4h-3zM595 410h3v4h-3zM590 414h2v4h-2zM611 414h2v4h-2zM587 422h3v4h-3zM689 422h3v4h-3zM598 426h2v4h-2zM605 426h3v4h-3zM663 426h3v4h-3zM799 426h3v4h-3zM603 433h2v4h-2zM626 433h3v4h-3zM681 433h3v4h-3zM616 437h3v4h-3zM626 437h3v4h-3zM663 437h3v4h-3zM684 437h3v4h-3zM718 437h3v4h-3zM776 437h2v4h-2zM621 441h5v4h-5zM637 441h3v4h-3zM642 441h3v4h-3zM653 441h2v4h-2zM668 441h3v4h-3zM786 441h3v4h-3zM653 445h2v4h-2zM658 445h3v4h-3zM700 445h2v4h-2zM705 445h3v4h-3zM742 445h2v4h-2zM687 449h2v4h-2zM739 449h3v4h-3zM768 449h3v4h-3zM697 453h3v4h-3zM731 453h3v4h-3zM773 453h3v4h-3zM661 457h2v4h-2zM700 457h2v4h-2zM721 457h2v4h-2zM681 461h3v4h-3zM716 461h5v4h-5zM723 461h3v4h-3zM778 461h3v4h-3zM689 465h3v4h-3zM784 473h2v3h-2z"/>
<path fill="#ffe800" d="M603 402h2v4h-2zM605 410h3v4h-3zM595 414h3v4h-3zM603 414h2v4h-2zM590 422h5v4h-5zM600 422h3v4h-3zM605 422h6v4h-6zM671 422h3v4h-3zM802 422h3v4h-3zM590 426h2v4h-2zM595 426h3v4h-3zM600 426h5v4h-5zM613 426h6v4h-6zM621 426h3v4h-3zM626 426h3v4h-3zM653 426h2v4h-2zM645 430h2v3h-2zM653 430h2v3h-2zM647 433h3v4h-3zM721 433h2v4h-2zM605 437h3v4h-3zM613 437h3v4h-3zM679 437h2v4h-2zM689 437h3v4h-3zM632 441h5v4h-5zM679 441h2v4h-2zM718 441h3v4h-3zM621 445h3v4h-3zM626 445h3v4h-3zM634 445h3v4h-3zM668 445h3v4h-3zM721 445h2v4h-2zM721 449h2v4h-2zM737 449h2v4h-2zM760 449h3v4h-3zM773 449h3v4h-3zM702 453h3v4h-3zM778 453h3v4h-3zM666 457h2v4h-2zM705 457h3v4h-3zM702 461h3v4h-3zM781 465h3v4h-3zM702 469h3v4h-3zM781 469h3v4h-3z"/>
<path fill="#ffdd00" d="M600 414h3v4h-3zM590 418h2v4h-2zM595 418h3v4h-3zM600 418h3v4h-3zM611 418h2v4h-2zM616 418h3v4h-3zM629 418h3v4h-3zM587 426h3v4h-3zM613 430h6v3h-6zM600 433h3v4h-3zM674 433h2v4h-2zM608 437h3v4h-3zM621 437h3v4h-3zM781 437h3v4h-3zM626 441h3v4h-3zM687 441h2v4h-2zM684 445h3v4h-3zM716 449h2v4h-2zM771 449h2v4h-2zM679 453h2v4h-2zM684 453h3v4h-3zM700 453h2v4h-2zM734 453h3v4h-3zM679 457h2v4h-2zM739 457h3v4h-3zM765 457h3v4h-3zM671 461h3v4h-3zM689 461h3v4h-3zM713 461h3v4h-3z"/>
<path fill="#ffd200" d="M613 414h3v4h-3zM605 418h3v4h-3zM611 430h2v3h-2zM608 433h3v4h-3zM613 433h3v4h-3zM697 433h3v4h-3zM611 437h2v4h-2zM619 437h2v4h-2zM632 437h5v4h-5zM668 437h3v4h-3zM640 441h2v4h-2zM697 441h3v4h-3zM629 445h3v4h-3zM681 449h3v4h-3zM781 449h3v4h-3zM781 457h3v4h-3zM773 461h5v4h-5zM668 465h3v4h-3zM681 465h3v4h-3zM697 465h3v4h-3zM702 465h3v4h-3zM710 465h3v4h-3zM776 465h2v4h-2zM695 469h2v4h-2zM781 476h3v4h-3z"/>
<path fill="#ffc700" d="M608 418h3v4h-3zM579 422h3v4h-3zM629 422h3v4h-3zM624 426h2v4h-2zM603 430h5v3h-5zM626 430h3v3h-3zM598 433h2v4h-2zM624 433h2v4h-2zM598 437h2v4h-2zM624 437h2v4h-2zM640 437h2v4h-2zM661 437h2v4h-2zM613 441h3v4h-3zM629 441h3v4h-3zM708 441h2v4h-2zM676 445h3v4h-3zM781 445h3v4h-3zM684 449h3v4h-3zM692 449h3v4h-3zM765 449h3v4h-3zM695 457h2v4h-2zM778 457h3v4h-3zM663 461h3v4h-3zM668 461h3v4h-3zM679 461h2v4h-2zM687 461h2v4h-2zM695 461h2v4h-2zM705 461h3v4h-3zM784 461h2v4h-2zM666 465h2v4h-2zM692 465h3v4h-3zM700 465h2v4h-2zM705 465h3v4h-3zM778 465h3v4h-3zM692 469h3v4h-3zM687 473h2v3h-2zM695 473h2v3h-2z"/>
<path fill="#ffbc00" d="M582 422h2v4h-2zM603 422h2v4h-2zM595 433h3v4h-3zM629 437h3v4h-3zM637 437h3v4h-3zM645 437h2v4h-2zM616 441h5v4h-5zM655 441h3v4h-3zM632 445h2v4h-2zM666 445h2v4h-2zM695 453h2v4h-2zM697 457h3v4h-3zM697 461h3v4h-3zM781 461h3v4h-3zM784 465h2v4h-2zM684 469h3v4h-3zM778 469h3v4h-3zM700 473h2v3h-2zM697 480h3v4h-3z"/>
<path fill="#ffb100" d="M592 426h3v4h-3zM600 430h3v3h-3zM621 430h3v3h-3zM605 433h3v4h-3zM616 433h8v4h-8zM671 453h3v4h-3zM687 457h2v4h-2zM713 457h3v4h-3zM687 465h2v4h-2zM695 465h2v4h-2zM687 469h2v4h-2zM778 480h3v4h-3zM697 484h3v4h-3zM789 484h3v4h-3z"/>
<path fill="#ffa600" d="M608 426h3v4h-3zM619 430h2v3h-2zM611 433h2v4h-2zM603 437h2v4h-2zM684 465h3v4h-3zM784 469h2v4h-2zM697 473h3v3h-3zM784 476h2v4h-2z"/>
<path fill="#ff9b00" d="M598 430h2v3h-2zM689 469h3v4h-3zM689 473h6v3h-6zM781 473h3v3h-3zM781 480h3v4h-3z"/>
<path fill="#ff9000" d="M676 449h3v4h-3zM684 461h3v4h-3zM697 476h3v4h-3zM778 476h3v4h-3zM784 480h2v4h-2zM786 488h3v4h-3zM789 492h3v4h-3z"/>
<path fill="#ff8500" d="M786 473h3v3h-3zM695 476h2v4h-2zM786 476h3v4h-3zM695 480h2v4h-2zM781 488h3v4h-3zM789 488h3v4h-3z"/>
<path fill="#ff7a00" d="M697 469h3v4h-3zM692 476h3v4h-3zM789 480h3v4h-3z"/>
<path fill="#ff6f00" d="M689 476h3v4h-3zM695 484h2v4h-2z"/>
<path fill="#ff6400" d="M786 480h3v4h-3zM781 484h8v4h-8zM695 488h2v4h-2z"/>
<path fill="#ff5900" d="M692 480h3v4h-3zM784 492h5v4h-5zM786 496h3v4h-3z"/>
<path fill="#ff4d00" d="M697 488h3v4h-3z"/>
<path fill="#ff4200" d="M784 488h2v4h-2z"/>
</g>
<g>
<rect x="542.5" y="305.5" width="334" height="202" fill="none" stroke="#000" stroke-width="1"/>
<path d="M545.5 507v5M551.5 507v5M556.5 507v5M561.5 507v5M566.5 507v5M571.5 507v5M577.5 507v5M582.5 507v10M587.5 507v5M592.5 507v5M598.5 507v5M603.5 507v5M608.5 507v5M613.5 507v5M618.5 507v5M624.5 507v5M629.5 507v5M634.5 507v10M639.5 507v5M645.5 507v5M650.5 507v5M655.5 507v5M660.5 507v5M665.5 507v5M671.5 507v5M676.5 507v5M681.5 507v5M686.5 507v10M692.5 507v5M697.5 507v5M702.5 507v5M707.5 507v5M712.5 507v5M718.5 507v5M723.5 507v5M728.5 507v5M733.5 507v5M739.5 507v10M744.5 507v5M749.5 507v5M754.5 507v5M759.5 507v5M765.5 507v5M770.5 507v5M775.5 507v5M780.5 507v5M786.5 507v5M791.5 507v10M796.5 507v5M801.5 507v5M806.5 507v5M812.5 507v5M817.5 507v5M822.5 507v5M827.5 507v5M833.5 507v5M838.5 507v5M843.5 507v10M848.5 507v5M853.5 507v5M859.5 507v5M864.5 507v5M869.5 507v5M874.5 507v5M542 499.5h-9M542 491.5h-4M542 483.5h-4M542 476.5h-4M542 468.5h-4M542 460.5h-9M542 452.5h-4M542 444.5h-4M542 437.5h-4M542 429.5h-4M542 421.5h-9M542 413.5h-4M542 405.5h-4M542 398.5h-4M542 390.5h-4M542 382.5h-9M542 374.5h-4M542 366.5h-4M542 359.5h-4M542 351.5h-4M542 343.5h-9M542 335.5h-4M542 327.5h-4M542 320.5h-4M542 312.5h-4M902.5 305V508M903 506.5h4M903 503.5h9M903 500.5h4M903 497.5h4M903 494.5h4M903 492.5h4M903 489.5h4M903 486.5h4M903 483.5h4M903 480.5h4M903 477.5h4M903 474.5h9M903 472.5h4M903 469.5h4M903 466.5h4M903 463.5h4M903 460.5h4M903 457.5h4M903 454.5h4M903 451.5h4M903 449.5h4M903 446.5h9M903 443.5h4M903 440.5h4M903 437.5h4M903 434.5h4M903 431.5h4M903 429.5h4M903 426.5h4M903 423.5h4M903 420.5h4M903 417.5h9M903 414.5h4M903 411.5h4M903 408.5h4M903 406.5h4M903 403.5h4M903 400.5h4M903 397.5h4M903 394.5h4M903 391.5h4M903 388.5h9M903 386.5h4M903 383.5h4M903 380.5h4M903 377.5h4M903 374.5h4M903 371.5h4M903 368.5h4M903 365.5h4M903 363.5h4M903 360.5h9M903 357.5h4M903 354.5h4M903 351.5h4M903 348.5h4M903 345.5h4M903 342.5h4M903 340.5h4M903 337.5h4M903 334.5h4M903 331.5h9M903 328.5h4M903 325.5h4M903 322.5h4M903 320.5h4M903 317.5h4M903 314.5h4M903 311.5h4M903 308.5h4M903 305.5h4" stroke="#000" stroke-width="1" fill="none"/>
<rect x="889" y="305" width="13" height="203" fill="url(#cb)"/>
<text x="582.4" y="533" text-anchor="middle">-120</text>
<text x="634.6" y="533" text-anchor="middle">-110</text>
<text x="686.8" y="533" text-anchor="middle">-100</text>
<text x="739.1" y="533" text-anchor="middle">-90</text>
<text x="791.3" y="533" text-anchor="middle">-80</text>
<text x="843.5" y="533" text-anchor="middle">-70</text>
<text x="528.5" y="503.9" text-anchor="end">25</text>
<text x="528.5" y="464.9" text-anchor="end">30</text>
<text x="528.5" y="425.9" text-anchor="end">35</text>
<text x="528.5" y="386.9" text-anchor="end">40</text>
<text x="528.5" y="347.9" text-anchor="end">45</text>
<text x="915.5" y="508.1">-30</text>
<text x="915.5" y="479.4">-20</text>
<text x="915.5" y="450.7">-10</text>
<text x="915.5" y="422.1">0</text>
<text x="915.5" y="393.4">10</text>
<text x="915.5" y="364.7">20</text>
<text x="915.5" y="336.0">30</text>
<text x="709" y="295" text-anchor="middle">TMAX[0]</text>
</g>
</svg>
</body></html>
